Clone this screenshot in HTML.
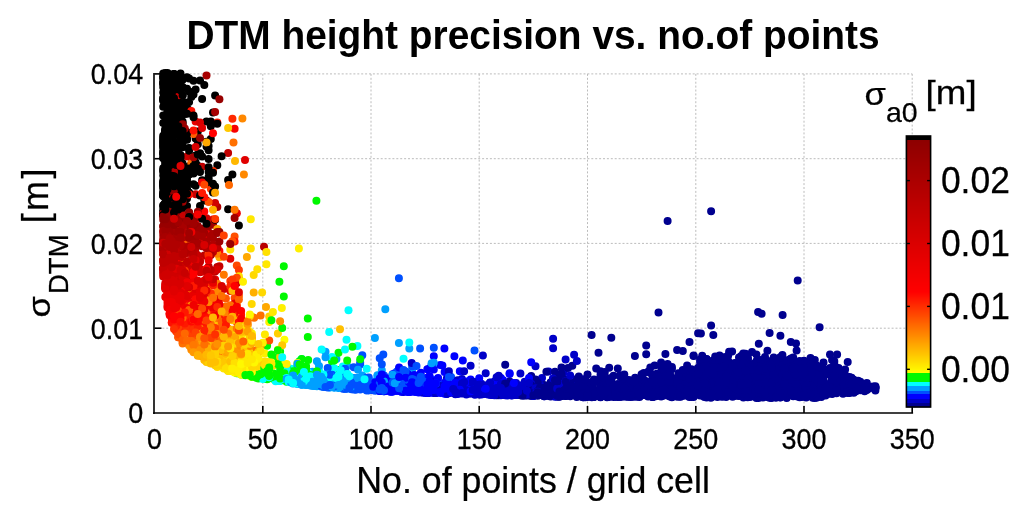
<!DOCTYPE html>
<html lang="en">
<head>
<meta charset="utf-8">
<title>DTM height precision vs. no.of points</title>
<style>
html,body{margin:0;padding:0;background:#fff;}
body{width:1024px;height:516px;overflow:hidden;}
svg{display:block;filter:blur(0.55px);font-family:"Liberation Sans",sans-serif;fill:#000;}
.tk{font-size:28.8px;stroke:#000;stroke-width:.3px;}
.lb{font-size:36px;stroke:#000;stroke-width:.25px;}
.sb{font-size:28.5px;stroke:#000;stroke-width:.25px;}
.ti{font-size:40.5px;font-weight:bold;}
.grid line{stroke:#bcbcbc;stroke-width:1;stroke-dasharray:2 1.9;}
.ax line{stroke:#000;stroke-width:1.6;}
.cbt line{stroke:#000;stroke-width:1.4;}
</style>
</head>
<body>
<svg width="1024" height="516" viewBox="0 0 1024 516">
<rect width="1024" height="516" fill="#fff"/>
<text class="ti" transform="translate(533.0,49.0) scale(0.96,1)" text-anchor="middle">DTM height precision vs. no.of points</text>
<g class="grid"><line x1="262.8" y1="73.9" x2="262.8" y2="413.0"/><line x1="371.0" y1="73.9" x2="371.0" y2="413.0"/><line x1="479.2" y1="73.9" x2="479.2" y2="413.0"/><line x1="587.5" y1="73.9" x2="587.5" y2="413.0"/><line x1="695.8" y1="73.9" x2="695.8" y2="413.0"/><line x1="804.0" y1="73.9" x2="804.0" y2="413.0"/><line x1="912.2" y1="73.9" x2="912.2" y2="413.0"/><line x1="154.5" y1="328.2" x2="912.2" y2="328.2"/><line x1="154.5" y1="243.4" x2="912.2" y2="243.4"/><line x1="154.5" y1="158.7" x2="912.2" y2="158.7"/><line x1="154.5" y1="73.9" x2="912.2" y2="73.9"/></g>
<g class="ax">
<line x1="154.0" y1="73.0" x2="154.0" y2="413.9"/>
<line x1="153.1" y1="413.0" x2="913.1" y2="413.0"/>
<line x1="262.8" y1="413.0" x2="262.8" y2="406.0"/><line x1="371.0" y1="413.0" x2="371.0" y2="406.0"/><line x1="479.2" y1="413.0" x2="479.2" y2="406.0"/><line x1="587.5" y1="413.0" x2="587.5" y2="406.0"/><line x1="695.8" y1="413.0" x2="695.8" y2="406.0"/><line x1="804.0" y1="413.0" x2="804.0" y2="406.0"/><line x1="912.2" y1="413.0" x2="912.2" y2="406.0"/><line x1="154.5" y1="328.2" x2="161.5" y2="328.2"/><line x1="154.5" y1="243.4" x2="161.5" y2="243.4"/><line x1="154.5" y1="158.7" x2="161.5" y2="158.7"/><line x1="154.5" y1="73.9" x2="161.5" y2="73.9"/>
</g>
<g class="pts" fill="none" stroke-width="8.0" stroke-linecap="round">
<path stroke="#980000" d="M169.7 226.2h.01"/>
<path stroke="#c80000" d="M163.2 268.2h.01M167.5 263.1h.01M195.6 268.2h.01"/>
<path stroke="#f80000" d="M180.5 307.7h.01"/>
<path stroke="#ffd000" d="M219.4 355.7h.01"/>
<path stroke="#00008f" d="M743.4 384.0h.01M600.5 380.0h.01M613.5 395.2h.01M604.8 378.9h.01M786.7 388.3h.01M771.5 374.1h.01M646.0 392.2h.01M851.6 389.4h.01M734.7 381.8h.01M648.1 388.9h.01M780.2 377.3h.01M700.1 371.0h.01M832.1 381.0h.01M810.5 373.7h.01M713.3 335.0h.01M713.1 370.1h.01M778.0 369.4h.01M728.2 361.5h.01M710.9 380.7h.01M704.4 367.0h.01M853.8 379.7h.01M568.0 386.7h.01M611.3 386.2h.01M607.0 397.2h.01M771.5 394.8h.01M700.1 359.5h.01"/>
<path stroke="#ffe000" d="M249.8 332.4h.01M249.8 371.0h.01"/>
<path stroke="#e00000" d="M204.3 280.5h.01"/>
<path stroke="#00a0ff" d="M355.8 383.1h.01M334.2 384.2h.01"/>
<path stroke="#ffa000" d="M241.1 334.7h.01"/>
<path stroke="#ff0000" d="M171.8 318.8h.01M208.6 284.9h.01M191.3 317.8h.01"/>
<path stroke="#0000c8" d="M524.7 390.6h.01M481.4 386.4h.01M448.9 387.5h.01M494.4 383.7h.01M500.9 395.3h.01M507.4 393.8h.01M481.4 394.4h.01"/>
<path stroke="#d00000" d="M184.8 276.2h.01"/>
<path stroke="#000000" d="M171.8 193.2h.01M169.7 174.6h.01M176.2 182.8h.01M178.3 180.0h.01M180.5 113.7h.01M189.1 174.4h.01M167.5 158.7h.01M189.1 166.2h.01M184.8 166.9h.01M163.2 183.8h.01M163.2 195.9h.01M169.7 204.4h.01M208.6 159.0h.01M178.3 100.6h.01M184.8 109.5h.01M178.3 188.0h.01"/>
<path stroke="#ffa800" d="M197.8 355.7h.01"/>
<path stroke="#a00000" d="M163.2 231.4h.01M200.0 229.9h.01M180.5 226.2h.01"/>
<path stroke="#ff9000" d="M191.3 349.7h.01"/>
<path stroke="#0000ff" d="M423.0 384.2h.01M405.6 390.7h.01M423.0 387.4h.01M466.3 390.5h.01M455.4 392.0h.01M405.6 389.8h.01M448.9 375.3h.01M379.7 384.7h.01M401.3 389.0h.01M448.9 385.2h.01M454.4 356.2h.01M392.6 384.7h.01"/>
<path stroke="#d80000" d="M182.6 278.0h.01"/>
<path stroke="#00ffff" d="M290.9 379.0h.01"/>
<path stroke="#0050ff" d="M360.2 389.6h.01M360.2 380.1h.01M358.0 378.0h.01M451.1 377.0h.01M340.7 386.3h.01M351.5 387.4h.01"/>
<path stroke="#ff1000" d="M195.6 216.4h.01M184.8 321.1h.01"/>
<path stroke="#0050ff" d="M358.0 385.6h.01M364.5 384.2h.01M414.3 388.8h.01M351.5 388.4h.01"/>
<path stroke="#ff3000" d="M180.5 328.8h.01"/>
<path stroke="#ffe000" d="M232.4 339.0h.01"/>
<path stroke="#00a0ff" d="M332.0 378.4h.01M290.9 379.4h.01M321.2 381.3h.01M321.2 381.0h.01"/>
<path stroke="#0000ff" d="M410.0 381.0h.01M401.3 384.8h.01M397.0 379.6h.01M403.5 388.9h.01M386.2 381.2h.01M394.8 377.3h.01M427.3 387.6h.01M440.3 391.5h.01M425.1 390.2h.01"/>
<path stroke="#c00000" d="M163.2 260.7h.01M204.3 255.4h.01M169.7 264.3h.01"/>
<path stroke="#00008f" d="M533.4 395.9h.01M771.5 391.3h.01M741.2 379.9h.01M700.1 370.0h.01M611.3 380.1h.01M671.9 386.5h.01M717.4 368.2h.01M708.7 386.1h.01M793.2 384.0h.01M676.3 396.6h.01M563.7 389.9h.01M823.5 381.5h.01M572.3 365.8h.01M535.5 385.4h.01M728.2 366.3h.01M760.7 373.2h.01M583.2 394.8h.01M635.1 395.3h.01M693.6 396.9h.01M607.0 393.9h.01M847.3 385.7h.01M708.7 379.4h.01M784.5 371.6h.01M719.6 385.2h.01M680.6 393.0h.01M747.7 370.0h.01M726.1 357.2h.01M710.9 383.2h.01M509.6 393.5h.01M786.7 365.8h.01M646.2 345.5h.01M754.2 389.1h.01M749.9 367.4h.01"/>
<path stroke="#a80000" d="M208.6 232.2h.01"/>
<path stroke="#0000c8" d="M433.8 391.2h.01M427.3 383.8h.01M474.9 392.7h.01M496.6 393.1h.01M461.9 391.3h.01M503.1 387.8h.01M446.8 381.1h.01M470.6 393.4h.01M576.9 360.9h.01"/>
<path stroke="#b00000" d="M217.3 206.9h.01M165.3 243.7h.01"/>
<path stroke="#ff4800" d="M217.3 324.4h.01M193.5 335.6h.01"/>
<path stroke="#00ffff" d="M348.5 310.3h.01"/>
<path stroke="#00f800" d="M241.1 374.4h.01"/>
<path stroke="#ffff00" d="M256.3 372.7h.01"/>
<path stroke="#ffd000" d="M251.9 350.7h.01"/>
<path stroke="#ff7000" d="M225.9 325.0h.01"/>
<path stroke="#000000" d="M163.2 195.2h.01M163.2 150.5h.01M163.2 87.3h.01M163.2 86.8h.01M206.5 121.4h.01"/>
<path stroke="#a00000" d="M178.3 220.8h.01M165.3 228.5h.01"/>
<path stroke="#ff5800" d="M238.9 334.9h.01"/>
<path stroke="#ffb800" d="M208.6 357.5h.01"/>
<path stroke="#ff1000" d="M171.8 322.7h.01"/>
<path stroke="#e80000" d="M206.5 233.9h.01M197.8 299.1h.01M176.2 117.0h.01"/>
<path stroke="#ff3800" d="M176.2 330.9h.01"/>
<path stroke="#fff800" d="M251.9 368.7h.01"/>
<path stroke="#d00000" d="M184.8 265.3h.01M204.3 271.8h.01"/>
<path stroke="#ff0800" d="M206.5 319.6h.01"/>
<path stroke="#ffc800" d="M234.6 361.4h.01M236.8 350.1h.01"/>
<path stroke="#ffa000" d="M200.0 311.2h.01"/>
<path stroke="#a00000" d="M169.7 231.8h.01"/>
<path stroke="#ffd800" d="M253.7 275.1h.01"/>
<path stroke="#ffd000" d="M241.1 362.7h.01M223.8 347.7h.01"/>
<path stroke="#0000ff" d="M431.6 387.6h.01M444.6 389.0h.01M435.9 392.8h.01M423.0 391.8h.01M412.1 390.7h.01M410.0 378.8h.01"/>
<path stroke="#00008f" d="M765.0 390.5h.01M548.5 391.0h.01M630.8 388.4h.01M574.5 392.6h.01M819.2 393.4h.01M804.0 388.5h.01M843.0 371.6h.01M812.7 389.9h.01M747.7 392.8h.01M795.3 391.6h.01M782.4 393.9h.01M732.6 369.3h.01M565.9 395.8h.01M795.3 374.4h.01M849.5 393.0h.01M669.8 374.3h.01M788.8 394.0h.01M723.9 380.6h.01M823.5 370.0h.01M700.1 372.6h.01M700.1 377.0h.01M734.7 368.4h.01M741.2 356.1h.01M817.0 367.1h.01M784.5 370.5h.01M557.2 396.7h.01M656.8 382.8h.01M791.0 378.8h.01M682.8 378.3h.01M589.7 392.4h.01"/>
<path stroke="#c00000" d="M165.3 264.2h.01"/>
<path stroke="#ffa800" d="M215.1 296.3h.01M221.6 356.4h.01"/>
<path stroke="#ffe800" d="M236.8 364.5h.01"/>
<path stroke="#e80000" d="M184.8 296.0h.01M171.8 296.3h.01M174.0 292.5h.01"/>
<path stroke="#00ffff" d="M301.7 380.3h.01M316.9 383.9h.01M299.6 361.3h.01"/>
<path stroke="#ff9000" d="M223.8 346.3h.01"/>
<path stroke="#ff5000" d="M236.8 322.2h.01"/>
<path stroke="#e00000" d="M187.0 294.3h.01"/>
<path stroke="#f80000" d="M197.8 313.2h.01M176.2 310.9h.01M174.0 311.0h.01"/>
<path stroke="#c80000" d="M197.8 267.5h.01"/>
<path stroke="#fff000" d="M228.1 369.9h.01"/>
<path stroke="#0000c8" d="M477.1 389.4h.01M546.4 389.9h.01M490.1 387.7h.01M494.4 381.4h.01"/>
<path stroke="#00a0ff" d="M299.6 381.2h.01M312.5 371.7h.01M319.0 385.9h.01M310.4 384.4h.01M327.7 378.4h.01"/>
<path stroke="#ff7800" d="M236.8 304.4h.01"/>
<path stroke="#8f0000" d="M171.8 210.2h.01"/>
<path stroke="#000000" d="M165.3 188.3h.01M189.1 110.2h.01M215.1 95.4h.01M174.0 93.6h.01M178.3 95.0h.01M165.3 133.4h.01M165.3 142.2h.01M163.2 79.8h.01"/>
<path stroke="#d00000" d="M167.5 273.6h.01M191.3 273.6h.01"/>
<path stroke="#ff1800" d="M204.3 321.1h.01"/>
<path stroke="#0050ff" d="M431.6 379.2h.01M332.0 385.7h.01M351.5 387.0h.01"/>
<path stroke="#00f800" d="M267.1 379.0h.01M260.6 376.0h.01M273.6 378.0h.01M280.1 373.7h.01M251.9 372.2h.01"/>
<path stroke="#b00000" d="M174.0 247.0h.01"/>
<path stroke="#f80000" d="M169.7 313.7h.01"/>
<path stroke="#000000" d="M210.8 139.0h.01M167.5 180.1h.01M167.5 175.8h.01M184.8 191.1h.01M174.0 81.8h.01M182.6 138.1h.01"/>
<path stroke="#ff5000" d="M202.1 333.7h.01"/>
<path stroke="#ffe000" d="M223.8 368.5h.01"/>
<path stroke="#ffb800" d="M219.4 359.8h.01"/>
<path stroke="#00008f" d="M611.3 337.8h.01M747.7 376.2h.01M769.4 370.6h.01M745.5 375.0h.01M810.5 387.3h.01M832.1 379.9h.01M697.9 392.5h.01M791.0 370.5h.01M752.0 366.3h.01M728.2 390.7h.01M762.9 391.9h.01M767.2 378.6h.01M676.3 394.7h.01M769.4 368.8h.01M650.3 393.4h.01M749.9 397.1h.01M791.0 370.9h.01M526.9 395.4h.01M548.5 396.1h.01M860.3 383.7h.01M743.4 393.6h.01M637.3 391.2h.01M778.0 393.5h.01M589.7 386.9h.01M689.3 390.8h.01M717.4 396.2h.01M780.2 369.0h.01M710.9 389.0h.01M589.7 392.9h.01M578.8 392.3h.01M793.2 380.5h.01M795.3 387.8h.01M795.3 387.5h.01M752.0 386.6h.01M598.5 352.8h.01M786.7 396.3h.01M630.8 395.4h.01M600.5 396.8h.01M788.8 367.8h.01M604.8 395.6h.01M756.4 370.4h.01M845.1 390.6h.01"/>
<path stroke="#ffc000" d="M260.6 363.8h.01"/>
<path stroke="#c00000" d="M171.8 260.2h.01"/>
<path stroke="#ffc800" d="M217.3 286.8h.01"/>
<path stroke="#900000" d="M174.0 128.7h.01M167.5 221.5h.01"/>
<path stroke="#e80000" d="M167.5 295.7h.01"/>
<path stroke="#a00000" d="M197.8 234.9h.01"/>
<path stroke="#d00000" d="M176.2 272.3h.01M171.8 275.6h.01"/>
<path stroke="#ff1800" d="M217.3 122.4h.01"/>
<path stroke="#00a0ff" d="M358.0 379.8h.01M314.7 385.0h.01M340.7 384.0h.01M319.0 379.6h.01M377.5 375.8h.01"/>
<path stroke="#00ffff" d="M308.2 375.1h.01M306.1 382.6h.01M325.5 380.0h.01"/>
<path stroke="#ffd800" d="M232.4 364.9h.01M217.3 366.9h.01"/>
<path stroke="#ff5800" d="M238.9 295.8h.01"/>
<path stroke="#ff0800" d="M219.4 251.0h.01"/>
<path stroke="#e00000" d="M165.3 287.2h.01"/>
<path stroke="#0000ff" d="M448.9 392.4h.01M401.3 391.4h.01M431.6 391.8h.01M386.2 379.6h.01M453.3 384.5h.01M403.5 389.0h.01"/>
<path stroke="#fff000" d="M241.1 351.7h.01"/>
<path stroke="#c80000" d="M213.0 271.5h.01"/>
<path stroke="#0000c8" d="M496.6 391.4h.01M474.9 384.5h.01M494.4 391.2h.01M548.5 371.6h.01M509.6 382.0h.01M490.1 394.7h.01M420.8 386.7h.01"/>
<path stroke="#00f800" d="M351.5 379.5h.01M245.4 375.3h.01"/>
<path stroke="#a00000" d="M174.0 228.7h.01"/>
<path stroke="#f80000" d="M234.6 128.7h.01"/>
<path stroke="#00f800" d="M273.6 374.6h.01M271.4 377.0h.01M338.5 370.0h.01M329.9 373.3h.01"/>
<path stroke="#00008f" d="M628.6 396.7h.01M717.4 381.2h.01M615.6 392.3h.01M773.7 390.1h.01M780.2 372.3h.01M559.4 396.7h.01M838.6 384.7h.01M765.0 370.8h.01M561.5 388.1h.01M680.6 391.6h.01M639.5 392.9h.01M591.8 393.5h.01M624.3 380.2h.01M537.7 394.9h.01M732.6 386.4h.01M578.8 384.0h.01M739.0 386.3h.01M771.5 369.7h.01M641.6 395.1h.01M652.5 397.0h.01M652.5 380.9h.01M661.1 367.6h.01M671.9 368.9h.01M843.0 382.2h.01M658.9 395.3h.01M684.9 388.4h.01M812.7 396.8h.01M773.7 396.0h.01M817.0 388.2h.01M620.0 395.0h.01M812.7 386.8h.01M821.3 368.1h.01M741.2 384.1h.01M784.5 363.3h.01M576.7 393.0h.01M845.1 369.5h.01M596.2 395.0h.01M804.0 388.0h.01M875.4 387.5h.01M747.7 395.8h.01M834.3 372.0h.01"/>
<path stroke="#0000c8" d="M516.1 386.4h.01M544.2 389.3h.01M481.4 383.8h.01M552.9 382.6h.01M448.9 391.1h.01M516.1 391.0h.01M429.5 392.3h.01M498.7 392.7h.01"/>
<path stroke="#ff6000" d="M210.8 342.7h.01"/>
<path stroke="#ffc000" d="M208.6 343.9h.01"/>
<path stroke="#000000" d="M176.2 130.9h.01M169.7 86.9h.01M176.2 187.9h.01M167.5 202.6h.01M167.5 195.7h.01"/>
<path stroke="#0000ff" d="M431.6 391.1h.01M461.9 393.1h.01"/>
<path stroke="#e80000" d="M195.6 121.4h.01M200.0 260.7h.01M187.0 299.2h.01"/>
<path stroke="#980000" d="M163.2 226.0h.01"/>
<path stroke="#00ffff" d="M357.4 346.0h.01"/>
<path stroke="#e00000" d="M213.0 219.6h.01"/>
<path stroke="#ff4800" d="M234.6 298.0h.01"/>
<path stroke="#ff7000" d="M184.8 342.4h.01"/>
<path stroke="#00a0ff" d="M347.2 379.4h.01M306.1 385.1h.01M394.8 377.3h.01M308.2 382.5h.01M412.1 369.9h.01M297.4 384.0h.01M362.3 375.4h.01M325.5 351.8h.01M342.9 382.5h.01"/>
<path stroke="#d00000" d="M178.3 273.8h.01"/>
<path stroke="#ffe800" d="M236.8 369.8h.01M225.9 365.3h.01"/>
<path stroke="#900000" d="M174.0 203.8h.01"/>
<path stroke="#b00000" d="M202.1 246.3h.01"/>
<path stroke="#f00000" d="M178.3 307.7h.01"/>
<path stroke="#ffd000" d="M269.2 316.5h.01"/>
<path stroke="#c00000" d="M163.2 259.7h.01"/>
<path stroke="#ff3800" d="M176.2 331.5h.01"/>
<path stroke="#0050ff" d="M351.5 386.9h.01"/>
<path stroke="#fff800" d="M243.3 360.9h.01"/>
<path stroke="#0000c8" d="M492.2 387.8h.01M511.7 395.6h.01M496.6 379.8h.01M524.7 394.2h.01M479.2 388.9h.01"/>
<path stroke="#00a0ff" d="M310.4 384.1h.01M347.2 375.3h.01"/>
<path stroke="#f00000" d="M171.8 301.4h.01"/>
<path stroke="#00f800" d="M288.7 368.6h.01M301.7 368.3h.01M267.1 345.8h.01"/>
<path stroke="#0000ff" d="M509.6 373.9h.01M451.1 390.9h.01M444.6 391.3h.01M381.8 390.3h.01M373.2 390.2h.01M516.1 388.4h.01M390.5 391.6h.01M425.1 392.3h.01M429.5 391.8h.01"/>
<path stroke="#c00000" d="M191.3 262.6h.01"/>
<path stroke="#ffe000" d="M241.1 359.7h.01"/>
<path stroke="#ff9800" d="M215.1 303.8h.01M197.8 323.2h.01"/>
<path stroke="#ffff00" d="M243.3 333.3h.01"/>
<path stroke="#e80000" d="M178.3 296.9h.01M189.1 295.2h.01"/>
<path stroke="#ffd000" d="M251.9 316.7h.01"/>
<path stroke="#fff000" d="M236.8 364.7h.01"/>
<path stroke="#000000" d="M178.3 168.0h.01M176.2 152.2h.01M180.5 128.8h.01M167.5 178.9h.01M171.8 186.5h.01M184.8 192.4h.01M174.0 197.5h.01M174.0 74.5h.01M176.2 98.2h.01M167.5 197.4h.01M171.8 136.8h.01"/>
<path stroke="#a00000" d="M174.0 224.1h.01"/>
<path stroke="#00008f" d="M788.8 390.3h.01M646.0 390.9h.01M791.0 386.9h.01M830.0 368.1h.01M773.7 389.1h.01M743.4 392.4h.01M555.0 391.2h.01M758.5 388.9h.01M788.8 359.8h.01M747.7 394.0h.01M695.8 393.8h.01M635.1 388.1h.01M539.9 394.4h.01M721.7 376.7h.01M775.9 375.4h.01M723.9 366.0h.01M708.7 363.6h.01M585.3 389.7h.01M615.6 396.7h.01M693.6 356.0h.01M795.3 370.7h.01M812.7 397.7h.01M704.4 370.3h.01M795.3 381.4h.01M747.7 359.7h.01M570.2 391.0h.01M568.0 392.7h.01M793.2 393.5h.01M637.3 392.1h.01M702.2 373.4h.01M587.5 393.7h.01M754.2 363.8h.01M739.0 357.5h.01M769.4 370.5h.01M749.9 381.2h.01M747.7 391.2h.01M832.1 378.5h.01M702.2 380.9h.01"/>
<path stroke="#c80000" d="M219.4 266.3h.01"/>
<path stroke="#ff4800" d="M217.3 326.1h.01"/>
<path stroke="#ffd800" d="M230.3 360.3h.01"/>
<path stroke="#fff800" d="M247.6 373.0h.01"/>
<path stroke="#d80000" d="M165.3 283.3h.01M176.2 286.7h.01M169.7 284.0h.01"/>
<path stroke="#00ffff" d="M301.7 358.9h.01M293.1 381.7h.01"/>
<path stroke="#0050ff" d="M394.8 373.3h.01M379.7 390.9h.01M377.5 386.7h.01"/>
<path stroke="#ffc800" d="M228.1 128.0h.01"/>
<path stroke="#000000" d="M210.8 126.3h.01M174.0 114.5h.01M174.0 178.9h.01M169.7 137.3h.01M182.6 79.8h.01M167.5 143.4h.01M171.8 190.0h.01M182.6 123.6h.01M182.6 127.2h.01M165.3 205.8h.01M180.5 215.1h.01"/>
<path stroke="#f80000" d="M184.8 309.4h.01M230.3 243.4h.01"/>
<path stroke="#ff9000" d="M230.3 354.3h.01"/>
<path stroke="#ff8000" d="M228.1 328.5h.01"/>
<path stroke="#b00000" d="M171.8 245.6h.01"/>
<path stroke="#ffb800" d="M206.5 359.0h.01"/>
<path stroke="#fff800" d="M254.1 362.1h.01"/>
<path stroke="#00008f" d="M793.2 368.4h.01M791.0 373.8h.01M591.8 396.8h.01M832.1 393.9h.01M762.9 367.8h.01M754.2 375.9h.01M646.2 354.2h.01M739.0 366.2h.01M838.6 375.3h.01M784.5 376.6h.01M806.2 370.9h.01M797.5 392.1h.01M646.0 384.8h.01M552.9 389.0h.01M749.9 380.3h.01M832.1 370.0h.01M767.2 396.9h.01M734.7 382.9h.01M734.7 385.5h.01M756.4 378.2h.01M609.2 385.3h.01M845.1 387.6h.01M812.7 369.6h.01M778.0 375.6h.01M548.5 394.2h.01M760.7 376.2h.01M568.0 386.0h.01M797.5 383.0h.01M641.6 393.6h.01M827.8 372.4h.01M516.1 392.9h.01M674.1 395.2h.01M819.2 376.9h.01M780.2 397.6h.01M706.6 366.3h.01M711.1 325.5h.01M617.8 386.2h.01M674.1 379.0h.01"/>
<path stroke="#00ffff" d="M312.5 377.4h.01M310.4 379.9h.01"/>
<path stroke="#ffd800" d="M258.4 358.4h.01"/>
<path stroke="#d00000" d="M176.2 275.7h.01"/>
<path stroke="#0000ff" d="M390.5 381.7h.01M418.6 378.8h.01M477.1 385.2h.01M444.4 348.6h.01M433.8 390.7h.01"/>
<path stroke="#00f800" d="M301.7 379.7h.01M260.6 375.0h.01"/>
<path stroke="#a80000" d="M167.5 230.1h.01"/>
<path stroke="#c80000" d="M189.1 261.1h.01M176.2 262.9h.01"/>
<path stroke="#ff4000" d="M191.3 331.9h.01"/>
<path stroke="#ffff00" d="M249.8 376.0h.01"/>
<path stroke="#ff5000" d="M178.3 337.2h.01"/>
<path stroke="#b80000" d="M193.5 249.2h.01"/>
<path stroke="#0050ff" d="M368.8 386.9h.01M338.5 383.7h.01M403.5 380.6h.01"/>
<path stroke="#ff1000" d="M187.0 324.1h.01"/>
<path stroke="#980000" d="M174.0 221.8h.01"/>
<path stroke="#0000c8" d="M468.4 387.7h.01M498.7 394.6h.01M505.2 388.3h.01M472.8 388.7h.01"/>
<path stroke="#ffc000" d="M249.8 343.5h.01"/>
<path stroke="#ff7800" d="M247.6 325.0h.01"/>
<path stroke="#00a0ff" d="M299.6 383.4h.01M329.9 381.1h.01M308.2 380.9h.01M303.9 374.1h.01M347.2 388.1h.01M334.2 387.6h.01"/>
<path stroke="#e00000" d="M187.0 290.7h.01"/>
<path stroke="#ffd000" d="M215.1 360.1h.01M277.9 333.4h.01"/>
<path stroke="#0000c8" d="M500.9 381.8h.01M511.7 393.6h.01M455.4 393.3h.01M490.1 393.4h.01M425.1 392.8h.01M518.2 391.9h.01M444.6 393.2h.01M487.9 394.4h.01M511.7 395.2h.01M490.1 382.5h.01M487.9 384.7h.01"/>
<path stroke="#000000" d="M180.5 164.0h.01M163.2 184.7h.01M167.5 119.4h.01M189.1 148.5h.01M163.2 205.3h.01M184.8 176.7h.01M167.5 199.0h.01M174.0 208.5h.01"/>
<path stroke="#ff0000" d="M195.6 316.6h.01"/>
<path stroke="#b00000" d="M200.0 239.5h.01"/>
<path stroke="#ff9800" d="M234.6 356.1h.01"/>
<path stroke="#ffc800" d="M230.3 361.6h.01"/>
<path stroke="#c00000" d="M202.1 230.1h.01"/>
<path stroke="#a00000" d="M165.3 233.6h.01"/>
<path stroke="#00f800" d="M262.8 377.4h.01M262.8 375.5h.01"/>
<path stroke="#ff5800" d="M210.8 310.4h.01M208.6 254.1h.01M193.5 339.0h.01"/>
<path stroke="#ffa800" d="M245.4 354.3h.01"/>
<path stroke="#ffb000" d="M247.6 341.7h.01M219.4 358.0h.01"/>
<path stroke="#fff000" d="M247.6 373.1h.01"/>
<path stroke="#0000ff" d="M455.4 385.3h.01M394.8 387.3h.01M509.6 373.2h.01"/>
<path stroke="#a80000" d="M213.0 224.7h.01"/>
<path stroke="#ff6000" d="M228.1 338.3h.01"/>
<path stroke="#ff2000" d="M184.8 196.5h.01"/>
<path stroke="#00008f" d="M600.5 390.1h.01M756.4 366.1h.01M801.8 370.5h.01M801.8 367.1h.01M622.1 391.5h.01M786.7 378.5h.01M706.6 390.4h.01M726.1 377.2h.01M713.1 385.2h.01M732.6 396.7h.01M583.2 395.5h.01M689.3 391.0h.01M840.8 384.2h.01M780.2 367.5h.01M622.1 377.7h.01M788.8 378.0h.01M620.0 392.7h.01M715.2 380.3h.01M782.4 378.0h.01M732.6 390.5h.01M695.8 394.4h.01M793.2 378.9h.01M745.5 366.5h.01M771.5 374.9h.01M622.1 394.9h.01M843.0 391.4h.01M799.7 378.8h.01M669.8 373.6h.01M782.4 372.4h.01M704.4 388.4h.01M778.0 370.1h.01M667.6 387.0h.01M754.2 376.9h.01"/>
<path stroke="#ffe000" d="M225.9 368.4h.01"/>
<path stroke="#c80000" d="M182.6 260.5h.01"/>
<path stroke="#f80000" d="M193.5 313.0h.01M169.7 309.2h.01M195.6 312.3h.01"/>
<path stroke="#ff7000" d="M195.6 343.7h.01"/>
<path stroke="#ffe800" d="M258.4 371.7h.01"/>
<path stroke="#e80000" d="M204.3 297.9h.01"/>
<path stroke="#d00000" d="M182.6 268.2h.01M174.0 271.4h.01M176.2 280.3h.01"/>
<path stroke="#ff2800" d="M232.4 118.7h.01"/>
<path stroke="#00a0ff" d="M325.5 377.9h.01M299.6 383.9h.01M308.2 382.7h.01M316.9 376.8h.01M293.1 376.0h.01"/>
<path stroke="#000000" d="M178.3 178.5h.01M187.0 132.2h.01M176.2 188.9h.01M165.3 153.9h.01"/>
<path stroke="#ff6800" d="M219.4 343.1h.01"/>
<path stroke="#c80000" d="M187.0 269.3h.01"/>
<path stroke="#ffff00" d="M258.4 366.5h.01"/>
<path stroke="#b00000" d="M178.3 242.6h.01"/>
<path stroke="#d00000" d="M163.2 274.0h.01"/>
<path stroke="#a80000" d="M189.1 234.3h.01M169.7 230.6h.01"/>
<path stroke="#ffc000" d="M236.8 330.9h.01"/>
<path stroke="#ff8800" d="M242.4 118.5h.01M202.1 347.4h.01"/>
<path stroke="#0050ff" d="M362.3 381.6h.01M360.2 386.0h.01M377.5 389.4h.01M347.2 381.0h.01"/>
<path stroke="#ffe000" d="M228.1 365.4h.01M223.8 359.5h.01M225.9 365.8h.01"/>
<path stroke="#0000c8" d="M479.2 393.7h.01M522.5 391.5h.01M500.9 389.8h.01"/>
<path stroke="#ffd800" d="M228.1 371.0h.01"/>
<path stroke="#ffd000" d="M238.9 347.6h.01"/>
<path stroke="#ff0000" d="M193.5 315.5h.01"/>
<path stroke="#00f800" d="M264.9 378.7h.01"/>
<path stroke="#ff4800" d="M178.3 331.4h.01M217.3 296.9h.01"/>
<path stroke="#a00000" d="M204.3 233.1h.01M182.6 231.3h.01"/>
<path stroke="#ffb000" d="M236.8 337.8h.01"/>
<path stroke="#c00000" d="M195.6 265.8h.01"/>
<path stroke="#00008f" d="M775.9 379.2h.01M708.7 393.8h.01M754.2 381.6h.01M721.7 393.6h.01M734.7 381.2h.01M663.3 365.1h.01M713.1 377.1h.01M663.3 373.2h.01M849.5 389.0h.01M773.7 370.1h.01M652.5 378.6h.01M734.7 388.8h.01M782.4 385.4h.01M531.2 375.9h.01M773.7 370.0h.01M563.7 386.1h.01M572.3 393.8h.01M821.3 387.5h.01M576.7 392.3h.01M526.9 392.4h.01M620.0 393.7h.01M775.9 377.9h.01M773.7 388.0h.01M715.2 371.9h.01M646.0 381.3h.01M780.2 370.0h.01M797.5 374.3h.01M719.6 388.7h.01M760.7 384.8h.01M745.5 379.8h.01M537.7 395.7h.01M613.5 392.9h.01M719.6 367.5h.01M591.8 391.7h.01M760.7 368.9h.01M602.7 392.2h.01M741.2 388.2h.01M756.4 382.6h.01M611.3 390.8h.01"/>
<path stroke="#f00000" d="M180.5 304.7h.01"/>
<path stroke="#ff1000" d="M178.3 309.0h.01"/>
<path stroke="#ff7800" d="M217.3 308.7h.01M234.6 310.5h.01"/>
<path stroke="#f80000" d="M225.9 315.4h.01"/>
<path stroke="#900000" d="M206.5 200.5h.01"/>
<path stroke="#00a0ff" d="M312.5 374.8h.01M327.7 377.7h.01M310.4 382.0h.01M347.2 388.3h.01"/>
<path stroke="#00ffff" d="M353.7 381.2h.01M325.5 377.3h.01M303.9 377.2h.01M288.7 377.3h.01M306.1 380.9h.01"/>
<path stroke="#ff5000" d="M182.6 335.6h.01"/>
<path stroke="#0000ff" d="M416.5 387.9h.01M440.3 365.0h.01M425.1 392.7h.01"/>
<path stroke="#ff8800" d="M223.8 346.5h.01M195.6 341.4h.01"/>
<path stroke="#ffc800" d="M221.6 347.4h.01"/>
<path stroke="#f00000" d="M195.6 219.3h.01"/>
<path stroke="#000000" d="M180.5 118.5h.01M180.5 189.4h.01"/>
<path stroke="#00ffff" d="M280.1 381.0h.01M310.4 381.1h.01"/>
<path stroke="#ffa800" d="M230.3 340.6h.01"/>
<path stroke="#d80000" d="M178.3 282.9h.01M167.5 282.9h.01"/>
<path stroke="#00a0ff" d="M392.6 380.5h.01M353.7 384.9h.01M347.2 388.6h.01M334.2 382.4h.01M360.2 381.3h.01M342.9 382.7h.01"/>
<path stroke="#ffff00" d="M251.9 359.4h.01M258.4 373.9h.01M234.6 368.4h.01"/>
<path stroke="#d00000" d="M193.5 266.6h.01"/>
<path stroke="#e80000" d="M202.1 299.8h.01"/>
<path stroke="#ffe000" d="M257.3 269.3h.01"/>
<path stroke="#a80000" d="M193.5 237.3h.01M189.1 236.2h.01"/>
<path stroke="#0050ff" d="M332.0 385.5h.01M373.2 390.0h.01"/>
<path stroke="#fff800" d="M251.9 366.6h.01M241.1 366.5h.01"/>
<path stroke="#ff8000" d="M200.0 346.2h.01"/>
<path stroke="#c80000" d="M206.5 218.2h.01"/>
<path stroke="#ffb000" d="M219.4 360.6h.01"/>
<path stroke="#ff4000" d="M195.6 331.1h.01"/>
<path stroke="#00008f" d="M760.7 370.3h.01M613.5 391.4h.01M607.0 391.6h.01M602.7 393.5h.01M775.9 394.9h.01M838.6 368.1h.01M591.8 387.0h.01M704.4 371.9h.01M795.3 384.8h.01M693.6 395.8h.01M756.4 395.2h.01M806.2 377.6h.01M719.6 367.7h.01M732.6 370.2h.01M741.2 373.9h.01M626.5 382.5h.01M741.2 392.7h.01M819.2 388.4h.01M771.5 371.9h.01M637.3 396.7h.01M637.3 394.9h.01M581.0 386.4h.01M700.1 367.4h.01M650.3 372.9h.01M814.8 374.5h.01M646.0 394.2h.01M635.1 391.7h.01M704.4 385.2h.01M749.9 370.0h.01M702.2 395.6h.01M747.7 395.3h.01M652.5 390.4h.01M817.0 387.5h.01M784.5 370.2h.01M654.6 395.2h.01M594.0 396.9h.01M745.5 367.2h.01M788.8 365.7h.01M581.0 395.9h.01M509.6 381.4h.01M713.1 371.3h.01M838.6 388.2h.01M771.5 367.5h.01M747.7 378.7h.01M762.9 383.7h.01M700.1 375.1h.01M678.4 396.7h.01"/>
<path stroke="#0000c8" d="M446.8 389.6h.01M505.2 395.2h.01M511.7 392.8h.01M522.5 393.0h.01M490.1 391.3h.01"/>
<path stroke="#e00000" d="M182.6 288.7h.01"/>
<path stroke="#ff4800" d="M210.8 334.8h.01"/>
<path stroke="#ff9000" d="M208.6 349.7h.01"/>
<path stroke="#ff0800" d="M206.5 289.5h.01"/>
<path stroke="#0000ff" d="M433.8 392.8h.01"/>
<path stroke="#ffd800" d="M249.8 347.4h.01"/>
<path stroke="#ff0000" d="M213.0 311.4h.01"/>
<path stroke="#00008f" d="M721.7 396.1h.01M741.2 370.3h.01M665.4 379.5h.01M767.4 350.8h.01M628.6 379.9h.01M633.0 391.6h.01M871.1 386.8h.01M721.7 378.2h.01M747.7 367.2h.01M710.9 396.2h.01M570.2 396.2h.01M602.7 389.9h.01M771.5 376.6h.01M773.7 370.3h.01M698.1 333.2h.01M795.3 362.8h.01M754.2 371.0h.01M775.9 379.2h.01M741.2 368.0h.01M814.8 388.6h.01M745.5 365.8h.01M565.9 394.8h.01M760.7 370.1h.01M615.6 395.7h.01M723.9 370.1h.01M771.5 397.4h.01M780.2 379.2h.01M700.1 394.3h.01M529.0 393.4h.01M760.7 371.9h.01M723.9 373.4h.01M520.4 393.6h.01M760.7 367.3h.01M734.7 372.7h.01"/>
<path stroke="#ff0000" d="M180.5 318.9h.01M195.6 316.3h.01"/>
<path stroke="#00ffff" d="M329.9 368.7h.01M293.1 377.7h.01M280.1 371.8h.01"/>
<path stroke="#0050ff" d="M329.9 383.4h.01M327.7 381.0h.01M353.7 377.9h.01M353.7 387.3h.01"/>
<path stroke="#e00000" d="M234.6 288.1h.01M232.4 287.4h.01"/>
<path stroke="#0000ff" d="M448.9 390.4h.01M427.3 369.3h.01M371.0 389.7h.01"/>
<path stroke="#ffe800" d="M225.9 367.9h.01"/>
<path stroke="#ff4000" d="M230.3 338.1h.01"/>
<path stroke="#fff800" d="M247.6 328.4h.01"/>
<path stroke="#900000" d="M163.2 219.8h.01"/>
<path stroke="#c80000" d="M163.2 272.0h.01"/>
<path stroke="#a80000" d="M184.8 234.3h.01"/>
<path stroke="#ff2800" d="M206.5 330.6h.01M178.3 327.2h.01"/>
<path stroke="#00a0ff" d="M293.1 383.4h.01M310.4 381.1h.01"/>
<path stroke="#ffc000" d="M223.8 365.5h.01"/>
<path stroke="#ff6000" d="M260.6 346.0h.01M195.6 324.7h.01"/>
<path stroke="#ff8800" d="M223.8 350.5h.01"/>
<path stroke="#ff8000" d="M197.8 320.2h.01"/>
<path stroke="#980000" d="M195.6 226.1h.01"/>
<path stroke="#000000" d="M165.3 170.7h.01M178.3 91.3h.01M167.5 73.1h.01M167.5 129.0h.01M208.6 179.8h.01M180.5 116.8h.01M184.8 170.5h.01M165.3 137.7h.01M163.2 139.7h.01M187.0 107.9h.01M180.5 157.9h.01M180.5 129.2h.01M167.5 176.6h.01"/>
<path stroke="#f00000" d="M219.4 299.1h.01"/>
<path stroke="#a00000" d="M174.0 226.2h.01"/>
<path stroke="#00f800" d="M262.8 376.5h.01M299.6 361.3h.01M277.9 378.1h.01M262.8 367.3h.01M273.6 373.5h.01"/>
<path stroke="#0000c8" d="M583.2 379.3h.01M498.7 389.5h.01M518.2 386.1h.01M533.4 387.7h.01M513.9 394.1h.01M561.5 388.3h.01M490.1 394.4h.01"/>
<path stroke="#d80000" d="M176.2 282.4h.01"/>
<path stroke="#0000ff" d="M386.2 390.1h.01M373.2 389.2h.01"/>
<path stroke="#00008f" d="M797.5 383.9h.01M678.4 390.4h.01M700.1 393.8h.01M726.1 397.1h.01M771.5 366.0h.01M875.4 386.2h.01M804.0 391.9h.01M648.1 395.5h.01M804.0 366.8h.01M682.8 351.1h.01M650.3 393.1h.01M845.1 380.3h.01M728.2 361.3h.01M749.9 374.9h.01M799.7 373.1h.01M723.9 396.6h.01M622.1 394.2h.01M719.6 381.2h.01M671.9 377.7h.01M613.5 396.9h.01M797.5 394.7h.01M875.4 387.9h.01M574.5 382.0h.01M706.6 378.2h.01M717.4 379.6h.01M691.4 383.8h.01M702.2 390.2h.01M628.6 381.6h.01M563.7 389.9h.01M702.2 372.9h.01M736.9 393.9h.01"/>
<path stroke="#d80000" d="M176.2 286.1h.01"/>
<path stroke="#0050ff" d="M351.5 389.2h.01M351.5 381.8h.01M431.6 364.7h.01M366.7 387.2h.01M366.7 389.3h.01M397.0 385.3h.01M433.8 383.9h.01M366.7 390.4h.01"/>
<path stroke="#ffb000" d="M225.9 329.7h.01"/>
<path stroke="#a80000" d="M171.8 233.0h.01"/>
<path stroke="#ff8800" d="M206.5 351.1h.01"/>
<path stroke="#00a0ff" d="M316.9 374.9h.01M299.6 379.3h.01M325.5 381.4h.01M334.2 381.4h.01"/>
<path stroke="#00ffff" d="M293.1 379.5h.01M332.0 385.5h.01M321.2 379.3h.01"/>
<path stroke="#c80000" d="M165.3 269.8h.01"/>
<path stroke="#f00000" d="M189.1 305.3h.01"/>
<path stroke="#d00000" d="M171.8 275.6h.01"/>
<path stroke="#a00000" d="M176.2 232.1h.01"/>
<path stroke="#00f800" d="M284.4 377.0h.01M267.1 379.3h.01M321.2 379.1h.01M316.4 200.7h.01"/>
<path stroke="#0000c8" d="M533.4 387.0h.01M518.2 393.5h.01M466.3 392.4h.01M459.8 388.0h.01M461.9 381.1h.01M494.4 393.2h.01M490.1 390.5h.01M490.1 391.5h.01M466.3 390.0h.01"/>
<path stroke="#ff7000" d="M236.8 343.5h.01"/>
<path stroke="#b00000" d="M174.0 235.0h.01"/>
<path stroke="#000000" d="M208.6 145.9h.01M178.3 156.7h.01M178.3 173.4h.01M171.8 182.8h.01M171.8 129.8h.01M169.7 129.0h.01M202.1 99.1h.01M163.2 98.7h.01M165.3 137.6h.01M171.8 171.7h.01M189.1 113.1h.01M169.7 119.3h.01M180.5 186.2h.01M174.0 192.1h.01M182.6 121.4h.01M174.0 131.1h.01"/>
<path stroke="#c00000" d="M167.5 261.6h.01M165.3 263.0h.01M174.0 266.2h.01"/>
<path stroke="#ff5000" d="M215.1 340.0h.01M195.6 337.2h.01"/>
<path stroke="#d80000" d="M167.5 281.7h.01M191.3 274.9h.01"/>
<path stroke="#ffd800" d="M251.9 367.2h.01"/>
<path stroke="#00f800" d="M251.9 376.0h.01M284.4 368.6h.01M273.6 357.0h.01M264.9 374.4h.01"/>
<path stroke="#0050ff" d="M360.2 364.6h.01M377.5 380.4h.01M338.5 385.4h.01"/>
<path stroke="#e00000" d="M167.5 290.0h.01"/>
<path stroke="#000000" d="M174.0 150.4h.01M165.3 94.4h.01M180.5 142.6h.01M195.6 185.8h.01M165.3 144.5h.01M195.6 131.4h.01M197.8 131.5h.01M169.7 122.1h.01M167.5 124.3h.01M182.6 182.7h.01"/>
<path stroke="#0000c8" d="M466.3 392.3h.01"/>
<path stroke="#00a0ff" d="M332.0 370.6h.01M336.4 386.1h.01M347.2 387.0h.01M321.2 385.2h.01M362.3 384.7h.01M409.3 348.6h.01"/>
<path stroke="#a80000" d="M174.0 231.9h.01"/>
<path stroke="#ffd000" d="M236.8 361.7h.01M223.8 366.9h.01"/>
<path stroke="#b80000" d="M197.8 256.0h.01M264.0 246.8h.01"/>
<path stroke="#c00000" d="M189.1 252.9h.01"/>
<path stroke="#fff000" d="M228.1 369.4h.01M238.9 361.3h.01"/>
<path stroke="#ff9800" d="M234.6 357.6h.01M223.8 353.8h.01"/>
<path stroke="#00ffff" d="M293.1 372.3h.01M338.5 378.6h.01M308.2 376.1h.01"/>
<path stroke="#a00000" d="M193.5 232.7h.01"/>
<path stroke="#ffe800" d="M238.9 342.5h.01"/>
<path stroke="#ffa000" d="M238.9 334.1h.01"/>
<path stroke="#980000" d="M169.7 226.1h.01"/>
<path stroke="#0000ff" d="M410.0 392.0h.01M446.8 393.8h.01M459.8 371.2h.01M381.8 391.1h.01M427.3 390.4h.01M423.0 390.1h.01M394.8 388.8h.01"/>
<path stroke="#ff0000" d="M193.5 317.2h.01"/>
<path stroke="#00008f" d="M728.2 386.9h.01M728.2 368.4h.01M656.8 392.1h.01M756.4 384.7h.01M661.1 362.4h.01M617.8 392.9h.01M728.2 365.9h.01M555.0 386.5h.01M615.6 388.4h.01M858.1 382.6h.01M812.7 365.7h.01M741.2 377.5h.01M804.0 385.5h.01M563.7 394.6h.01M607.0 387.0h.01M633.0 386.6h.01M695.8 391.2h.01M617.8 368.5h.01M723.9 362.6h.01M788.8 367.8h.01M749.9 388.7h.01M760.7 380.3h.01M717.4 397.1h.01M754.2 371.7h.01M479.2 394.4h.01M784.5 390.9h.01M778.0 393.9h.01M732.6 366.6h.01M732.6 366.8h.01M568.0 389.2h.01M760.7 396.0h.01"/>
<path stroke="#d00000" d="M176.2 268.4h.01"/>
<path stroke="#ffc000" d="M232.4 320.3h.01"/>
<path stroke="#f80000" d="M195.6 259.3h.01M187.0 307.9h.01"/>
<path stroke="#ff5000" d="M223.8 339.2h.01"/>
<path stroke="#f00000" d="M182.6 304.0h.01"/>
<path stroke="#c80000" d="M171.8 268.6h.01M169.7 268.2h.01"/>
<path stroke="#ff1800" d="M221.6 315.7h.01"/>
<path stroke="#fff800" d="M280.1 363.1h.01"/>
<path stroke="#000000" d="M169.7 170.1h.01M167.5 183.1h.01M180.5 123.3h.01M169.7 163.6h.01M200.0 153.9h.01M165.3 204.5h.01M182.6 170.4h.01M163.2 146.8h.01"/>
<path stroke="#ff8000" d="M191.3 347.8h.01"/>
<path stroke="#d00000" d="M191.3 275.5h.01"/>
<path stroke="#ff3800" d="M230.3 280.9h.01"/>
<path stroke="#ff7000" d="M189.1 342.3h.01"/>
<path stroke="#e80000" d="M204.3 301.0h.01"/>
<path stroke="#ff1000" d="M195.6 320.1h.01"/>
<path stroke="#a00000" d="M174.0 228.3h.01"/>
<path stroke="#fff000" d="M249.8 362.9h.01"/>
<path stroke="#0050ff" d="M355.8 386.2h.01M323.4 379.9h.01M355.8 387.6h.01"/>
<path stroke="#d80000" d="M206.5 278.8h.01M189.1 284.9h.01M187.0 278.7h.01"/>
<path stroke="#0000ff" d="M448.9 385.6h.01M405.6 390.6h.01M401.3 380.6h.01"/>
<path stroke="#f80000" d="M169.7 313.8h.01"/>
<path stroke="#ffb000" d="M241.1 348.7h.01"/>
<path stroke="#ff2000" d="M193.5 323.6h.01"/>
<path stroke="#ffd800" d="M219.4 365.9h.01"/>
<path stroke="#900000" d="M174.0 215.2h.01M174.0 203.3h.01M163.2 214.9h.01"/>
<path stroke="#00a0ff" d="M347.2 365.9h.01M301.7 383.9h.01M314.7 382.3h.01M332.0 386.2h.01"/>
<path stroke="#ffe000" d="M223.8 359.7h.01"/>
<path stroke="#00008f" d="M665.4 390.3h.01M745.5 383.7h.01M804.0 368.5h.01M544.2 393.2h.01M693.6 381.0h.01M745.5 388.9h.01M801.8 397.0h.01M730.4 390.4h.01M684.9 385.5h.01M736.9 391.6h.01M752.0 368.6h.01M739.0 368.8h.01M555.0 394.2h.01M706.6 390.6h.01M559.4 391.0h.01M689.3 389.0h.01M687.1 385.8h.01M665.4 387.4h.01M715.2 393.6h.01M743.4 384.0h.01M771.5 390.7h.01M518.2 393.0h.01M671.9 388.4h.01M771.5 397.7h.01M788.8 365.6h.01M661.1 396.5h.01M756.4 361.2h.01M797.5 394.9h.01M732.6 366.2h.01M752.0 366.8h.01M520.4 391.8h.01M734.7 395.8h.01M613.5 388.5h.01M730.4 389.1h.01M791.0 366.2h.01"/>
<path stroke="#b00000" d="M171.8 245.4h.01"/>
<path stroke="#00ffff" d="M310.4 376.4h.01M301.7 378.3h.01M329.2 332.0h.01"/>
<path stroke="#a80000" d="M210.8 236.0h.01"/>
<path stroke="#00f800" d="M286.6 375.5h.01M277.9 359.4h.01M301.7 375.2h.01M256.3 373.3h.01M247.6 374.5h.01M262.8 377.9h.01M280.1 351.4h.01"/>
<path stroke="#ffc000" d="M340.0 329.3h.01"/>
<path stroke="#0000c8" d="M511.7 386.0h.01M535.5 380.4h.01M498.7 389.1h.01M503.1 394.8h.01M455.4 393.0h.01"/>
<path stroke="#00008f" d="M767.2 377.0h.01M723.9 391.6h.01M728.2 355.4h.01M730.4 366.8h.01M611.3 395.3h.01M708.7 367.5h.01M739.0 380.3h.01M719.6 367.1h.01M559.4 387.1h.01M674.1 384.2h.01M633.0 396.8h.01M782.4 387.2h.01M741.2 391.4h.01M823.5 362.6h.01M591.8 393.2h.01M793.2 357.6h.01M856.0 391.2h.01M830.0 354.5h.01M656.8 389.6h.01M715.2 378.3h.01M637.3 390.7h.01M730.4 374.3h.01M847.3 392.9h.01M713.1 379.5h.01M557.2 391.2h.01M869.0 387.9h.01M663.3 386.5h.01M762.9 370.1h.01M754.2 368.2h.01M704.4 387.7h.01M676.3 387.2h.01M823.5 381.0h.01M728.2 377.1h.01M700.1 362.2h.01M769.4 378.0h.01M851.6 389.5h.01"/>
<path stroke="#b80000" d="M167.5 251.2h.01"/>
<path stroke="#e80000" d="M215.1 284.9h.01"/>
<path stroke="#e00000" d="M171.8 294.2h.01"/>
<path stroke="#0000ff" d="M392.6 385.3h.01M416.5 390.8h.01M401.3 380.5h.01M451.1 385.7h.01M427.3 390.3h.01"/>
<path stroke="#00a0ff" d="M340.7 379.3h.01M321.2 386.0h.01M327.7 375.2h.01M334.2 385.8h.01M336.4 359.1h.01M319.0 379.8h.01"/>
<path stroke="#ff6800" d="M204.3 341.5h.01"/>
<path stroke="#ff5800" d="M202.1 339.2h.01"/>
<path stroke="#ffd000" d="M238.9 338.5h.01"/>
<path stroke="#000000" d="M167.5 139.8h.01M191.3 97.1h.01M169.7 86.8h.01M189.1 101.9h.01M180.5 112.8h.01M174.0 74.0h.01M171.8 193.9h.01M167.5 206.4h.01M180.5 116.7h.01"/>
<path stroke="#00f800" d="M269.2 377.3h.01M249.8 375.1h.01M297.4 376.5h.01"/>
<path stroke="#fff800" d="M247.6 369.9h.01M238.9 368.2h.01"/>
<path stroke="#0050ff" d="M353.7 387.3h.01M349.4 382.7h.01"/>
<path stroke="#0000c8" d="M539.9 394.3h.01M553.1 338.8h.01M451.1 392.6h.01M461.9 390.6h.01M479.2 393.3h.01M461.9 390.5h.01M563.7 372.5h.01M535.5 389.1h.01M553.1 348.3h.01M529.0 394.1h.01M505.2 392.9h.01"/>
<path stroke="#ff9000" d="M217.3 352.7h.01"/>
<path stroke="#a00000" d="M174.0 230.9h.01"/>
<path stroke="#ffa000" d="M238.9 356.9h.01"/>
<path stroke="#ffe800" d="M228.1 365.8h.01M251.9 370.1h.01"/>
<path stroke="#d00000" d="M215.1 202.9h.01"/>
<path stroke="#c80000" d="M210.8 283.7h.01M195.6 194.3h.01"/>
<path stroke="#b00000" d="M176.2 241.3h.01"/>
<path stroke="#980000" d="M191.3 218.2h.01M189.1 226.7h.01"/>
<path stroke="#a80000" d="M180.5 241.2h.01"/>
<path stroke="#ff7800" d="M245.4 347.4h.01"/>
<path stroke="#ffe800" d="M247.6 362.6h.01"/>
<path stroke="#f80000" d="M178.3 301.9h.01M176.2 276.5h.01"/>
<path stroke="#e80000" d="M180.5 291.1h.01M234.6 303.5h.01M171.8 297.5h.01"/>
<path stroke="#f00000" d="M208.6 305.1h.01M215.1 307.7h.01"/>
<path stroke="#0000c8" d="M464.1 371.3h.01M490.1 393.3h.01M472.8 392.8h.01M518.2 393.1h.01M468.4 389.7h.01"/>
<path stroke="#b00000" d="M178.3 247.4h.01M163.2 248.3h.01M165.3 242.5h.01M163.2 245.8h.01"/>
<path stroke="#ff4000" d="M225.9 331.8h.01"/>
<path stroke="#d00000" d="M223.8 288.9h.01"/>
<path stroke="#ffb000" d="M210.8 354.0h.01"/>
<path stroke="#fff800" d="M245.4 341.3h.01"/>
<path stroke="#000000" d="M191.3 92.4h.01M167.5 156.5h.01M163.2 158.2h.01M206.5 146.5h.01M217.3 123.7h.01M169.7 181.1h.01M176.2 99.2h.01M189.1 192.5h.01M191.3 113.6h.01M195.6 138.4h.01M163.2 154.4h.01M169.7 182.1h.01"/>
<path stroke="#ff0000" d="M193.5 313.5h.01M204.3 211.4h.01"/>
<path stroke="#e00000" d="M167.5 290.5h.01"/>
<path stroke="#00a0ff" d="M293.1 374.1h.01M321.2 386.6h.01"/>
<path stroke="#ff3000" d="M180.5 317.6h.01"/>
<path stroke="#0000ff" d="M485.7 388.6h.01M427.3 377.7h.01M401.3 390.2h.01M418.6 381.4h.01"/>
<path stroke="#fff000" d="M254.1 365.8h.01"/>
<path stroke="#00008f" d="M719.6 384.2h.01M806.2 397.5h.01M814.8 397.9h.01M693.6 395.8h.01M565.9 385.2h.01M773.7 369.5h.01M732.6 364.2h.01M793.2 388.4h.01M717.4 366.0h.01M801.8 370.7h.01M583.2 396.9h.01M520.4 391.2h.01M788.8 392.1h.01M682.8 390.5h.01M810.5 371.2h.01M710.9 380.6h.01M687.1 365.6h.01M782.4 369.6h.01M557.2 376.5h.01M741.2 366.6h.01M758.5 397.9h.01M773.7 379.8h.01M565.9 379.8h.01M613.5 375.7h.01M754.2 366.4h.01M814.8 379.9h.01M721.7 366.1h.01M641.6 375.3h.01M706.6 359.3h.01M801.8 376.1h.01M678.4 390.8h.01M708.7 373.4h.01M667.6 221.1h.01M775.9 366.7h.01M650.3 385.6h.01"/>
<path stroke="#00f800" d="M267.1 373.7h.01M247.6 372.0h.01M332.0 361.4h.01M271.4 378.2h.01"/>
<path stroke="#0050ff" d="M338.5 385.0h.01M394.8 382.4h.01M316.9 382.6h.01M397.0 376.4h.01M323.4 387.0h.01M360.2 386.9h.01"/>
<path stroke="#ffff00" d="M241.1 371.3h.01"/>
<path stroke="#ff5800" d="M228.1 341.6h.01"/>
<path stroke="#00ffff" d="M299.6 381.7h.01M321.2 378.6h.01"/>
<path stroke="#d80000" d="M202.1 287.5h.01M180.5 283.5h.01"/>
<path stroke="#d00000" d="M171.8 278.1h.01M169.7 234.0h.01"/>
<path stroke="#00a0ff" d="M338.5 387.0h.01M375.3 381.5h.01M390.5 379.1h.01M374.9 337.9h.01M316.9 384.9h.01M353.7 378.3h.01"/>
<path stroke="#ff0000" d="M171.8 317.4h.01"/>
<path stroke="#ffd800" d="M219.4 359.2h.01"/>
<path stroke="#ffa000" d="M234.6 349.0h.01"/>
<path stroke="#ff5800" d="M178.3 337.3h.01"/>
<path stroke="#ffc000" d="M225.9 343.4h.01"/>
<path stroke="#ff7800" d="M236.8 336.3h.01"/>
<path stroke="#c80000" d="M163.2 269.0h.01"/>
<path stroke="#ffa800" d="M217.3 229.0h.01"/>
<path stroke="#ff0800" d="M217.3 287.4h.01"/>
<path stroke="#ffe800" d="M250.8 219.3h.01M228.1 369.8h.01"/>
<path stroke="#0050ff" d="M312.5 385.6h.01M351.5 386.3h.01"/>
<path stroke="#00f800" d="M238.9 373.2h.01M236.8 373.2h.01"/>
<path stroke="#0000ff" d="M418.6 381.5h.01M474.9 384.9h.01M401.3 386.2h.01M433.8 356.2h.01M401.3 387.7h.01"/>
<path stroke="#ff1000" d="M204.3 322.7h.01M241.1 314.8h.01"/>
<path stroke="#0000c8" d="M535.5 391.4h.01M492.2 395.1h.01M498.7 392.1h.01M503.1 387.2h.01"/>
<path stroke="#000000" d="M169.7 99.9h.01M163.2 193.3h.01M169.7 111.4h.01M163.2 212.2h.01M174.0 126.9h.01M174.0 161.8h.01M174.0 127.6h.01M171.8 164.0h.01M171.8 76.4h.01M184.8 114.1h.01M167.5 184.6h.01M169.7 123.5h.01M174.0 84.2h.01M180.5 177.1h.01M174.0 175.7h.01"/>
<path stroke="#b80000" d="M163.2 254.1h.01"/>
<path stroke="#ff9000" d="M234.6 336.3h.01"/>
<path stroke="#00008f" d="M760.7 366.7h.01M812.7 396.7h.01M700.1 394.2h.01M834.3 379.5h.01M717.4 371.3h.01M531.2 395.9h.01M546.4 390.8h.01M622.1 386.6h.01M665.4 378.2h.01M749.9 384.8h.01M656.8 391.5h.01M834.3 387.1h.01M708.7 380.0h.01M769.4 396.8h.01M801.8 395.3h.01M585.3 392.2h.01M795.3 383.6h.01M752.0 366.6h.01M747.7 382.1h.01M678.4 393.0h.01M639.5 396.9h.01M695.8 388.0h.01M804.0 395.1h.01M814.8 369.7h.01M804.0 379.2h.01M639.5 391.3h.01M665.4 394.8h.01M600.5 384.6h.01M782.4 377.5h.01M706.6 360.1h.01M851.6 377.7h.01M754.2 382.3h.01M695.8 393.2h.01M845.1 390.6h.01M620.0 391.4h.01M589.7 396.1h.01"/>
<path stroke="#ffb800" d="M208.6 342.3h.01"/>
<path stroke="#00a0ff" d="M347.2 383.2h.01M316.9 383.3h.01M362.3 379.9h.01M329.9 382.8h.01M303.9 379.9h.01"/>
<path stroke="#ff6000" d="M193.5 134.0h.01"/>
<path stroke="#ffe800" d="M236.8 362.9h.01"/>
<path stroke="#a00000" d="M184.8 234.8h.01"/>
<path stroke="#ff1000" d="M200.0 319.5h.01"/>
<path stroke="#000000" d="M165.3 101.7h.01M163.2 100.0h.01M171.8 183.3h.01M176.2 210.7h.01M187.0 198.4h.01M182.6 112.7h.01M232.4 174.6h.01M176.2 93.3h.01M202.1 180.3h.01"/>
<path stroke="#ff9000" d="M193.5 350.8h.01"/>
<path stroke="#0000c8" d="M574.1 354.7h.01M470.6 392.9h.01M496.6 390.5h.01M446.8 378.6h.01M461.9 379.0h.01M455.4 391.3h.01M533.4 392.0h.01"/>
<path stroke="#a80000" d="M167.5 238.9h.01"/>
<path stroke="#00f800" d="M262.8 372.6h.01M258.4 373.5h.01"/>
<path stroke="#ff4000" d="M193.5 333.1h.01"/>
<path stroke="#d00000" d="M200.0 238.5h.01M163.2 276.6h.01"/>
<path stroke="#ff2000" d="M180.5 256.1h.01"/>
<path stroke="#0000ff" d="M431.6 386.6h.01M427.3 387.5h.01M379.7 390.7h.01M451.1 389.4h.01M392.6 390.4h.01M427.3 385.6h.01M453.3 391.4h.01M420.8 372.7h.01"/>
<path stroke="#ffa800" d="M246.9 256.9h.01"/>
<path stroke="#f00000" d="M174.0 307.0h.01M184.8 303.6h.01"/>
<path stroke="#ffc800" d="M221.6 361.6h.01"/>
<path stroke="#00008f" d="M837.1 354.5h.01M804.0 367.8h.01M658.9 385.5h.01M682.8 386.5h.01M665.4 391.4h.01M700.1 366.3h.01M775.9 368.5h.01M607.0 388.2h.01M726.1 378.3h.01M700.1 369.5h.01M786.7 392.8h.01M721.7 381.1h.01M734.7 376.4h.01M706.6 365.7h.01M706.6 358.9h.01M843.0 393.7h.01M858.1 385.5h.01M695.8 392.3h.01M790.8 342.0h.01M786.7 391.7h.01M788.8 369.3h.01M710.9 384.4h.01M840.8 391.2h.01M715.2 381.6h.01M771.5 372.7h.01M825.6 388.1h.01M775.9 359.8h.01M780.2 370.4h.01M836.5 375.5h.01M752.0 389.0h.01M747.7 391.1h.01"/>
<path stroke="#ffe000" d="M266.4 251.9h.01M238.9 366.0h.01"/>
<path stroke="#0050ff" d="M379.7 358.3h.01M390.5 389.6h.01"/>
<path stroke="#e80000" d="M167.5 297.6h.01"/>
<path stroke="#c80000" d="M171.8 267.1h.01"/>
<path stroke="#ffff00" d="M249.8 372.9h.01"/>
<path stroke="#00ffff" d="M366.7 368.8h.01M334.2 368.2h.01M314.7 378.2h.01M303.9 379.6h.01"/>
<path stroke="#ffc000" d="M221.6 351.5h.01"/>
<path stroke="#f80000" d="M197.8 313.5h.01"/>
<path stroke="#e00000" d="M195.6 291.0h.01"/>
<path stroke="#ff0000" d="M180.5 317.8h.01"/>
<path stroke="#ff7000" d="M191.3 343.0h.01"/>
<path stroke="#0000ff" d="M503.1 380.2h.01M433.8 388.1h.01M384.0 390.2h.01M444.6 372.1h.01M435.9 385.0h.01M455.4 391.0h.01"/>
<path stroke="#900000" d="M174.0 221.6h.01"/>
<path stroke="#0050ff" d="M364.5 384.4h.01M340.7 386.4h.01M405.6 377.8h.01"/>
<path stroke="#00008f" d="M708.7 382.5h.01M650.3 393.6h.01M838.6 370.2h.01M728.2 384.0h.01M734.7 363.1h.01M665.4 353.9h.01M793.2 392.0h.01M771.5 368.7h.01M830.0 388.6h.01M704.4 361.0h.01M810.5 377.7h.01M739.0 395.4h.01M801.8 391.2h.01M732.6 368.1h.01M752.0 367.9h.01M806.2 385.9h.01M769.4 371.2h.01M762.9 391.6h.01M719.6 393.3h.01M594.0 393.2h.01M552.9 393.3h.01M589.7 393.0h.01M583.2 387.7h.01M817.0 368.0h.01M845.1 375.1h.01M780.2 365.3h.01M778.0 391.4h.01M531.2 393.9h.01M767.2 384.1h.01M784.5 374.5h.01M797.5 388.3h.01M706.6 396.2h.01M730.4 391.5h.01M654.6 396.5h.01M758.5 396.4h.01M747.7 358.8h.01M801.8 394.2h.01M678.4 373.2h.01M823.5 377.1h.01M706.6 383.0h.01M786.7 395.5h.01M801.8 382.2h.01"/>
<path stroke="#d00000" d="M195.6 269.1h.01M178.3 280.2h.01"/>
<path stroke="#a00000" d="M191.3 230.5h.01"/>
<path stroke="#b80000" d="M182.6 228.1h.01"/>
<path stroke="#00a0ff" d="M381.8 370.2h.01M319.0 385.2h.01M316.9 379.3h.01"/>
<path stroke="#00ffff" d="M327.7 372.8h.01M288.7 378.1h.01"/>
<path stroke="#ff4000" d="M215.1 317.7h.01"/>
<path stroke="#ffff00" d="M271.4 362.4h.01"/>
<path stroke="#ffd800" d="M262.1 292.5h.01"/>
<path stroke="#ff4800" d="M236.8 265.5h.01"/>
<path stroke="#b00000" d="M200.0 234.6h.01M163.2 250.5h.01"/>
<path stroke="#0000c8" d="M457.6 391.8h.01M468.4 386.2h.01M446.8 393.9h.01M524.7 394.0h.01M544.2 387.7h.01M453.3 391.4h.01M459.8 393.3h.01"/>
<path stroke="#000000" d="M169.7 196.0h.01M171.8 93.0h.01M167.5 107.9h.01M176.2 145.5h.01M184.8 190.3h.01M178.3 106.5h.01M171.8 205.2h.01"/>
<path stroke="#ffc000" d="M219.4 358.6h.01"/>
<path stroke="#ffe000" d="M228.1 353.9h.01M249.8 350.4h.01"/>
<path stroke="#ffe800" d="M247.6 360.7h.01M236.8 364.6h.01"/>
<path stroke="#ffc800" d="M232.4 347.5h.01"/>
<path stroke="#ff9000" d="M230.3 347.3h.01"/>
<path stroke="#ffb000" d="M210.8 186.2h.01"/>
<path stroke="#ffb800" d="M204.3 360.0h.01M228.1 359.1h.01M236.8 347.2h.01"/>
<path stroke="#0050ff" d="M412.1 366.2h.01M353.7 388.7h.01M405.6 384.7h.01"/>
<path stroke="#00ffff" d="M288.7 375.3h.01"/>
<path stroke="#000000" d="M174.0 158.1h.01M174.0 103.1h.01M165.3 76.6h.01M178.3 172.4h.01M167.5 184.2h.01M169.7 91.8h.01M167.5 131.0h.01M167.5 203.4h.01M182.6 189.7h.01M206.5 141.8h.01M163.2 182.5h.01M165.3 115.7h.01M174.0 90.8h.01M176.2 134.9h.01"/>
<path stroke="#a80000" d="M213.0 238.3h.01M195.6 235.4h.01"/>
<path stroke="#ff7800" d="M223.8 274.8h.01"/>
<path stroke="#f80000" d="M206.5 303.4h.01M191.3 312.3h.01"/>
<path stroke="#00f800" d="M340.7 374.0h.01"/>
<path stroke="#e00000" d="M174.0 289.5h.01"/>
<path stroke="#ffd000" d="M219.4 327.0h.01"/>
<path stroke="#fff800" d="M247.6 372.1h.01"/>
<path stroke="#ffd800" d="M236.8 367.1h.01"/>
<path stroke="#00008f" d="M739.0 366.8h.01M780.2 373.2h.01M769.4 397.8h.01M643.8 393.6h.01M576.7 382.1h.01M656.8 373.7h.01M799.7 363.9h.01M782.4 365.7h.01M788.8 370.1h.01M771.5 384.5h.01M721.7 377.1h.01M617.8 384.1h.01M652.5 389.0h.01M736.9 367.0h.01M615.6 392.6h.01M775.9 386.8h.01M838.6 375.0h.01M799.7 396.0h.01M739.0 374.9h.01M791.0 368.8h.01M769.4 373.0h.01M570.2 392.0h.01M778.0 373.1h.01M778.0 393.1h.01M741.2 368.0h.01M845.1 387.0h.01M721.7 382.5h.01M743.4 372.8h.01M624.3 382.4h.01M799.7 393.3h.01M637.3 392.8h.01M769.4 397.7h.01M609.2 396.1h.01M843.0 389.8h.01M600.5 395.5h.01M574.5 387.3h.01M576.7 392.6h.01M535.5 391.6h.01M704.4 386.0h.01M775.9 397.5h.01"/>
<path stroke="#0000c8" d="M516.1 383.0h.01M485.7 391.0h.01M472.8 387.1h.01M542.0 377.9h.01M485.7 373.2h.01"/>
<path stroke="#ffe000" d="M243.3 358.7h.01"/>
<path stroke="#f00000" d="M178.3 304.1h.01"/>
<path stroke="#ffb800" d="M235.0 161.0h.01"/>
<path stroke="#c80000" d="M165.3 268.9h.01M189.1 264.3h.01"/>
<path stroke="#ffa000" d="M215.1 342.2h.01"/>
<path stroke="#00a0ff" d="M299.6 364.2h.01M355.8 380.9h.01M293.1 379.2h.01"/>
<path stroke="#0000ff" d="M377.5 385.6h.01M392.6 391.6h.01M433.8 389.5h.01M381.8 389.6h.01M440.3 387.6h.01M412.1 385.6h.01"/>
<path stroke="#900000" d="M174.0 210.1h.01"/>
<path stroke="#ff5000" d="M219.4 339.4h.01"/>
<path stroke="#ffc800" d="M243.3 359.6h.01"/>
<path stroke="#d80000" d="M208.6 297.2h.01"/>
<path stroke="#ff3800" d="M210.8 188.7h.01"/>
<path stroke="#ff6800" d="M245.4 347.1h.01"/>
<path stroke="#0050ff" d="M345.0 388.7h.01M379.7 384.4h.01M392.6 378.2h.01M392.6 381.3h.01M379.7 390.8h.01M327.7 368.0h.01"/>
<path stroke="#000000" d="M174.0 110.2h.01M169.7 98.1h.01M178.3 195.7h.01M193.5 80.7h.01M178.3 85.7h.01M206.5 182.5h.01M165.3 132.0h.01M217.3 165.3h.01M171.8 116.7h.01M165.3 171.0h.01M197.8 165.8h.01M180.5 85.5h.01"/>
<path stroke="#ff1000" d="M206.5 333.7h.01"/>
<path stroke="#c80000" d="M182.6 269.9h.01M180.5 271.2h.01M165.3 262.9h.01"/>
<path stroke="#0000ff" d="M442.4 387.4h.01M388.3 385.1h.01M425.1 381.5h.01M457.6 394.0h.01M418.6 392.5h.01M405.6 389.2h.01"/>
<path stroke="#00ffff" d="M301.7 375.2h.01"/>
<path stroke="#ff4800" d="M195.6 263.2h.01"/>
<path stroke="#00f800" d="M260.6 369.2h.01"/>
<path stroke="#c00000" d="M165.3 261.4h.01"/>
<path stroke="#980000" d="M167.5 223.4h.01M197.8 225.9h.01"/>
<path stroke="#e00000" d="M169.7 289.1h.01M230.3 290.9h.01"/>
<path stroke="#00008f" d="M710.9 397.7h.01M747.7 388.0h.01M739.0 396.1h.01M702.2 381.7h.01M752.0 377.0h.01M704.4 369.8h.01M780.2 387.0h.01M596.2 380.3h.01M866.8 385.3h.01M795.3 369.6h.01M702.2 393.4h.01M589.7 392.6h.01M804.0 390.0h.01M734.7 364.9h.01M799.7 397.2h.01M806.2 391.9h.01M804.0 373.2h.01M721.7 367.4h.01M736.9 377.8h.01M804.0 372.4h.01M719.6 389.9h.01M620.0 391.0h.01M730.4 376.8h.01M767.2 384.9h.01M778.0 369.5h.01M827.8 374.2h.01M752.0 369.7h.01M806.2 393.2h.01M754.2 375.5h.01M840.8 381.6h.01M749.9 374.5h.01M723.9 369.7h.01M667.6 369.6h.01M741.2 375.0h.01M581.0 390.0h.01M788.8 391.7h.01M760.7 385.7h.01M624.3 394.0h.01M834.3 363.9h.01"/>
<path stroke="#b80000" d="M182.6 246.9h.01"/>
<path stroke="#fff000" d="M251.9 333.5h.01M232.4 363.0h.01"/>
<path stroke="#ffb000" d="M228.1 349.2h.01M219.4 257.2h.01"/>
<path stroke="#0000c8" d="M524.7 381.7h.01M513.9 389.0h.01M457.6 381.5h.01M487.9 392.8h.01M518.2 392.9h.01"/>
<path stroke="#e80000" d="M195.6 295.5h.01"/>
<path stroke="#ff7000" d="M193.5 330.3h.01"/>
<path stroke="#ffe800" d="M241.1 369.5h.01"/>
<path stroke="#ffe000" d="M236.8 361.7h.01"/>
<path stroke="#f00000" d="M180.5 303.2h.01"/>
<path stroke="#c80000" d="M169.7 271.5h.01M165.3 267.0h.01"/>
<path stroke="#ff7800" d="M228.1 349.0h.01"/>
<path stroke="#ff8800" d="M193.5 331.4h.01"/>
<path stroke="#fff000" d="M223.8 363.1h.01"/>
<path stroke="#ff1800" d="M176.2 323.6h.01"/>
<path stroke="#ff7000" d="M191.3 163.0h.01M197.8 299.2h.01"/>
<path stroke="#f00000" d="M169.7 301.7h.01M182.6 196.9h.01"/>
<path stroke="#ffd800" d="M243.3 366.5h.01"/>
<path stroke="#ff1000" d="M206.5 314.4h.01"/>
<path stroke="#e80000" d="M232.4 284.6h.01"/>
<path stroke="#00008f" d="M806.2 369.2h.01M704.4 391.6h.01M563.7 392.7h.01M795.3 385.7h.01M864.6 391.2h.01M689.5 342.0h.01M671.9 395.5h.01M758.5 397.0h.01M700.1 370.4h.01M817.0 365.7h.01M732.6 367.9h.01M788.8 361.1h.01M734.7 395.4h.01M726.1 379.7h.01M741.2 387.7h.01M784.5 383.6h.01M620.0 385.2h.01M639.5 392.8h.01M730.4 370.8h.01M576.7 392.2h.01M607.0 393.8h.01M630.8 381.3h.01M860.3 386.9h.01M741.2 383.2h.01M760.7 367.6h.01M585.3 392.5h.01M765.0 360.7h.01M630.8 388.5h.01M801.8 382.2h.01M808.3 379.2h.01"/>
<path stroke="#a80000" d="M184.8 242.5h.01"/>
<path stroke="#ffe800" d="M230.3 369.3h.01"/>
<path stroke="#a00000" d="M200.0 230.4h.01M180.5 231.7h.01"/>
<path stroke="#0050ff" d="M340.7 383.3h.01M368.8 390.3h.01M355.8 388.7h.01"/>
<path stroke="#00f800" d="M241.1 374.0h.01"/>
<path stroke="#00ffff" d="M284.4 375.8h.01"/>
<path stroke="#0000c8" d="M464.1 391.7h.01M433.8 392.0h.01M474.9 387.6h.01M457.6 393.6h.01M557.2 390.0h.01M524.7 388.0h.01M503.1 394.7h.01M550.7 382.4h.01M468.4 389.9h.01M461.9 390.8h.01"/>
<path stroke="#ffc800" d="M210.8 357.1h.01"/>
<path stroke="#ffc000" d="M225.9 327.0h.01"/>
<path stroke="#c00000" d="M217.3 267.1h.01M202.1 166.7h.01"/>
<path stroke="#d00000" d="M167.5 271.1h.01"/>
<path stroke="#d80000" d="M169.7 283.2h.01M174.0 283.7h.01"/>
<path stroke="#0000ff" d="M414.3 375.1h.01M397.0 373.9h.01M420.8 389.7h.01"/>
<path stroke="#00a0ff" d="M308.2 378.6h.01M310.4 385.2h.01M295.2 383.0h.01M310.4 385.3h.01M310.4 379.5h.01"/>
<path stroke="#000000" d="M165.3 169.8h.01M187.0 183.4h.01M180.5 137.7h.01M174.0 184.4h.01M180.5 206.6h.01M174.0 146.5h.01M174.0 174.1h.01M167.5 134.3h.01M174.0 199.5h.01M174.0 214.1h.01M165.3 77.6h.01M204.3 200.6h.01M176.2 166.4h.01"/>
<path stroke="#f80000" d="M187.0 312.1h.01"/>
<path stroke="#e00000" d="M167.5 293.6h.01"/>
<path stroke="#ff9800" d="M228.1 346.3h.01"/>
<path stroke="#ffe800" d="M230.3 370.5h.01"/>
<path stroke="#ff8800" d="M217.3 291.3h.01"/>
<path stroke="#00008f" d="M723.9 373.7h.01M637.3 392.6h.01M721.7 377.9h.01M706.6 378.5h.01M767.2 361.0h.01M721.7 370.0h.01M723.9 388.3h.01M749.9 369.1h.01M756.4 374.5h.01M717.4 393.5h.01M730.4 367.5h.01M637.3 386.3h.01M775.9 367.2h.01M795.3 375.9h.01M819.2 394.0h.01M546.4 371.8h.01M704.4 368.6h.01M832.1 393.3h.01M758.5 378.5h.01M832.1 369.8h.01M732.6 383.7h.01M587.5 390.9h.01M591.8 397.2h.01M678.4 385.2h.01M773.7 365.8h.01M658.9 380.5h.01M810.5 372.6h.01M869.0 388.5h.01M749.9 366.5h.01M704.4 394.1h.01M693.6 394.9h.01M600.5 388.8h.01M611.3 388.2h.01M786.7 370.9h.01M576.7 388.3h.01M782.4 396.2h.01M570.2 384.1h.01M771.5 361.2h.01M684.9 383.6h.01M758.5 366.7h.01M823.5 382.5h.01M862.5 389.1h.01"/>
<path stroke="#900000" d="M165.3 219.7h.01"/>
<path stroke="#0000c8" d="M474.9 381.9h.01M513.9 387.7h.01M509.6 393.7h.01M513.9 392.4h.01"/>
<path stroke="#ff4800" d="M210.8 279.7h.01M213.0 335.8h.01"/>
<path stroke="#ff5000" d="M206.5 288.9h.01M234.6 236.5h.01"/>
<path stroke="#ff3000" d="M189.1 320.5h.01"/>
<path stroke="#ffc800" d="M223.8 351.7h.01"/>
<path stroke="#f80000" d="M187.0 310.5h.01"/>
<path stroke="#0000ff" d="M401.3 391.7h.01M375.3 390.0h.01"/>
<path stroke="#c80000" d="M184.8 178.6h.01"/>
<path stroke="#ff7000" d="M256.3 350.3h.01"/>
<path stroke="#ff1800" d="M193.5 269.2h.01"/>
<path stroke="#f00000" d="M189.1 305.7h.01"/>
<path stroke="#00a0ff" d="M342.9 384.0h.01M371.0 386.4h.01M301.7 374.2h.01M314.7 385.5h.01M303.9 375.7h.01"/>
<path stroke="#ff2800" d="M184.8 327.8h.01"/>
<path stroke="#00f800" d="M280.1 374.3h.01M299.6 366.4h.01M286.6 381.7h.01M299.6 366.8h.01M258.4 376.5h.01M306.1 366.2h.01"/>
<path stroke="#b00000" d="M167.5 241.8h.01"/>
<path stroke="#e00000" d="M230.3 258.8h.01M169.7 290.2h.01M180.5 294.4h.01"/>
<path stroke="#000000" d="M163.2 142.3h.01M174.0 116.5h.01M163.2 142.9h.01M165.3 209.0h.01M163.2 97.8h.01M169.7 197.9h.01M176.2 82.8h.01M184.8 130.3h.01"/>
<path stroke="#e80000" d="M236.8 213.3h.01"/>
<path stroke="#a00000" d="M176.2 103.2h.01"/>
<path stroke="#0050ff" d="M379.7 382.6h.01"/>
<path stroke="#d00000" d="M182.6 276.3h.01"/>
<path stroke="#ff3800" d="M238.9 270.1h.01"/>
<path stroke="#ff8800" d="M225.9 338.0h.01"/>
<path stroke="#ffe000" d="M249.8 365.5h.01M223.8 355.5h.01"/>
<path stroke="#f80000" d="M187.0 309.5h.01"/>
<path stroke="#00ffff" d="M409.3 342.6h.01M303.9 384.8h.01"/>
<path stroke="#ffb800" d="M204.3 350.8h.01"/>
<path stroke="#ffd000" d="M221.6 363.6h.01M217.3 350.7h.01"/>
<path stroke="#900000" d="M219.4 232.1h.01"/>
<path stroke="#f00000" d="M206.5 279.7h.01"/>
<path stroke="#d00000" d="M178.3 272.8h.01M167.5 271.1h.01M213.0 280.7h.01"/>
<path stroke="#0000c8" d="M479.2 385.2h.01M411.7 363.0h.01M487.9 390.8h.01M526.9 385.5h.01M498.7 395.2h.01M496.6 387.4h.01M444.6 390.4h.01"/>
<path stroke="#ff7000" d="M233.5 142.6h.01"/>
<path stroke="#000000" d="M174.0 184.4h.01M182.6 95.5h.01M167.5 143.0h.01M193.5 184.2h.01M171.8 100.8h.01M180.5 117.7h.01M174.0 162.2h.01M176.2 74.9h.01M176.2 118.9h.01M180.5 77.4h.01"/>
<path stroke="#00008f" d="M587.5 374.6h.01M635.1 390.1h.01M680.6 380.1h.01M704.4 383.1h.01M717.4 382.6h.01M827.8 370.3h.01M689.3 396.1h.01M806.2 380.7h.01M704.4 394.5h.01M767.2 387.1h.01M767.2 376.3h.01M678.4 393.6h.01M799.7 361.8h.01M756.4 354.6h.01M594.0 394.3h.01M758.5 369.7h.01M687.1 377.3h.01M539.9 384.5h.01M671.9 395.6h.01M726.1 375.4h.01M756.4 362.6h.01M773.7 378.6h.01M762.9 378.4h.01M598.3 394.6h.01M832.1 378.4h.01M860.3 390.2h.01M747.7 396.0h.01M840.8 375.4h.01M544.2 385.0h.01M797.7 280.5h.01M732.6 382.9h.01M736.9 383.3h.01M613.5 391.6h.01M713.1 367.6h.01M793.2 385.9h.01M533.4 390.7h.01"/>
<path stroke="#d80000" d="M167.5 282.8h.01"/>
<path stroke="#b00000" d="M182.6 233.6h.01"/>
<path stroke="#00f800" d="M262.8 371.5h.01M299.6 375.2h.01"/>
<path stroke="#0050ff" d="M371.0 388.4h.01M340.7 376.1h.01M375.3 385.0h.01M353.7 367.2h.01M420.8 382.7h.01"/>
<path stroke="#00a0ff" d="M334.2 386.6h.01M347.2 383.9h.01M303.9 384.0h.01M325.5 386.1h.01M308.2 382.0h.01"/>
<path stroke="#0000ff" d="M420.8 387.0h.01M420.8 376.8h.01M392.6 390.2h.01M479.2 378.2h.01M425.1 383.9h.01"/>
<path stroke="#fff000" d="M230.3 371.0h.01"/>
<path stroke="#a80000" d="M171.8 239.4h.01"/>
<path stroke="#ffe800" d="M236.8 352.5h.01"/>
<path stroke="#b80000" d="M215.1 271.6h.01M182.6 239.8h.01"/>
<path stroke="#e00000" d="M169.7 293.0h.01"/>
<path stroke="#00a0ff" d="M303.9 381.5h.01M364.5 386.8h.01M366.7 380.7h.01M336.4 384.5h.01"/>
<path stroke="#c00000" d="M163.2 260.5h.01M178.3 259.2h.01M171.8 255.5h.01"/>
<path stroke="#e80000" d="M202.1 300.1h.01"/>
<path stroke="#ffa800" d="M206.5 142.4h.01"/>
<path stroke="#0050ff" d="M366.7 377.8h.01M397.0 371.4h.01M373.2 388.7h.01M386.2 386.1h.01M342.9 387.6h.01M401.3 379.9h.01M407.8 383.0h.01"/>
<path stroke="#ff5000" d="M191.3 334.8h.01"/>
<path stroke="#ff4000" d="M178.3 333.6h.01"/>
<path stroke="#fff000" d="M243.3 358.3h.01"/>
<path stroke="#000000" d="M182.6 147.2h.01M163.2 92.5h.01M171.8 175.4h.01M176.2 134.2h.01M169.7 157.1h.01M171.8 201.0h.01M169.7 163.1h.01M167.5 197.1h.01M163.2 188.1h.01"/>
<path stroke="#ff0000" d="M171.8 316.5h.01"/>
<path stroke="#f00000" d="M206.5 244.8h.01"/>
<path stroke="#00ffff" d="M299.6 383.5h.01"/>
<path stroke="#0000c8" d="M533.4 395.8h.01M559.4 393.2h.01M461.9 388.7h.01M482.9 355.6h.01"/>
<path stroke="#00008f" d="M648.1 390.4h.01M704.4 395.7h.01M721.7 367.5h.01M721.7 363.5h.01M552.9 392.9h.01M749.9 387.1h.01M732.6 373.0h.01M814.8 360.0h.01M706.6 377.0h.01M607.0 390.9h.01M700.1 377.0h.01M637.3 394.4h.01M591.8 381.9h.01M758.5 380.5h.01M669.8 389.0h.01M795.3 388.2h.01M817.0 382.5h.01M758.1 312.1h.01M793.2 382.1h.01M654.6 391.8h.01M516.1 390.1h.01M704.4 377.7h.01M641.6 395.2h.01M791.0 374.2h.01M756.4 361.8h.01M796.6 350.4h.01M767.2 378.1h.01M793.2 383.5h.01M799.7 365.5h.01M596.2 368.5h.01M600.5 397.2h.01M758.5 372.3h.01M773.7 380.5h.01M771.5 363.4h.01M728.2 392.5h.01M568.0 368.1h.01M801.8 387.0h.01M715.2 391.1h.01M643.8 388.4h.01M507.4 394.3h.01M697.9 382.7h.01M717.4 384.8h.01M853.8 392.8h.01"/>
<path stroke="#c80000" d="M176.2 268.4h.01M191.3 270.1h.01"/>
<path stroke="#d80000" d="M167.5 286.3h.01"/>
<path stroke="#00f800" d="M301.7 359.0h.01M271.4 364.5h.01M286.6 381.0h.01M283.8 266.2h.01"/>
<path stroke="#0000ff" d="M425.1 383.7h.01M440.3 389.3h.01M407.8 374.0h.01M379.7 387.8h.01"/>
<path stroke="#ffb000" d="M213.0 357.3h.01"/>
<path stroke="#ffc800" d="M280.1 356.9h.01"/>
<path stroke="#ffd000" d="M243.3 332.4h.01"/>
<path stroke="#ffe000" d="M236.8 370.7h.01"/>
<path stroke="#e00000" d="M167.5 290.6h.01M180.5 295.4h.01M174.0 287.4h.01M182.6 288.7h.01M174.0 290.1h.01"/>
<path stroke="#a80000" d="M187.0 239.2h.01"/>
<path stroke="#000000" d="M182.6 78.9h.01M169.7 129.6h.01M165.3 190.9h.01M167.5 185.1h.01M163.2 77.1h.01M169.7 82.7h.01M182.6 168.8h.01M163.2 210.3h.01M174.0 195.4h.01M178.3 202.1h.01"/>
<path stroke="#ff6800" d="M193.5 304.9h.01"/>
<path stroke="#ff2800" d="M189.1 305.4h.01"/>
<path stroke="#c80000" d="M169.7 267.3h.01"/>
<path stroke="#e80000" d="M180.5 178.6h.01M195.6 298.3h.01"/>
<path stroke="#d80000" d="M217.3 269.4h.01"/>
<path stroke="#ff3800" d="M213.0 337.7h.01"/>
<path stroke="#00a0ff" d="M379.7 377.8h.01M334.2 387.2h.01"/>
<path stroke="#00008f" d="M678.4 395.2h.01M652.5 393.7h.01M550.7 396.6h.01M788.8 367.3h.01M752.0 352.0h.01M667.6 395.4h.01M721.7 396.8h.01M594.0 396.5h.01M775.9 384.7h.01M568.0 394.0h.01M542.0 393.2h.01M704.4 366.1h.01M565.9 393.2h.01M817.0 397.3h.01M806.2 384.3h.01M812.7 395.7h.01M823.5 385.5h.01M836.5 393.3h.01M613.5 395.0h.01M732.6 382.6h.01M858.1 387.5h.01M611.3 396.1h.01M710.9 369.6h.01M674.1 392.3h.01M784.5 389.1h.01M641.6 389.8h.01M630.8 387.2h.01M834.3 375.9h.01M771.5 385.7h.01M747.7 375.7h.01M771.5 369.6h.01M693.6 391.2h.01M526.9 392.7h.01M658.9 392.8h.01M682.8 371.0h.01M594.0 379.6h.01M624.3 395.8h.01"/>
<path stroke="#00f800" d="M254.1 376.0h.01M297.4 373.3h.01"/>
<path stroke="#0000ff" d="M394.8 388.9h.01M403.5 392.1h.01M388.3 389.6h.01M444.6 393.7h.01M405.6 384.9h.01M407.8 390.2h.01M457.6 383.3h.01"/>
<path stroke="#ffc000" d="M213.0 362.0h.01"/>
<path stroke="#f80000" d="M169.7 313.4h.01"/>
<path stroke="#fff000" d="M234.6 367.7h.01"/>
<path stroke="#ff6000" d="M191.3 289.0h.01"/>
<path stroke="#ffff00" d="M241.1 374.4h.01"/>
<path stroke="#c00000" d="M176.2 266.1h.01"/>
<path stroke="#a00000" d="M180.5 232.8h.01M195.6 237.4h.01M171.8 232.7h.01"/>
<path stroke="#0050ff" d="M379.7 390.3h.01M364.5 384.7h.01M433.8 347.7h.01"/>
<path stroke="#00ffff" d="M290.9 368.8h.01"/>
<path stroke="#d00000" d="M189.1 278.9h.01"/>
<path stroke="#0000c8" d="M565.6 359.6h.01M457.6 387.7h.01M468.4 391.4h.01M420.8 391.2h.01M526.9 391.4h.01"/>
<path stroke="#fff800" d="M251.9 376.9h.01"/>
<path stroke="#00a0ff" d="M306.1 384.4h.01M301.7 381.0h.01"/>
<path stroke="#0000c8" d="M457.6 380.3h.01M496.6 386.9h.01M433.8 393.1h.01M533.4 396.0h.01"/>
<path stroke="#f80000" d="M225.9 320.3h.01"/>
<path stroke="#0000ff" d="M507.4 389.8h.01M433.8 388.4h.01M420.8 385.0h.01M455.4 386.0h.01"/>
<path stroke="#ff7000" d="M260.6 315.5h.01"/>
<path stroke="#d00000" d="M167.5 276.0h.01"/>
<path stroke="#d80000" d="M232.4 283.1h.01M178.3 279.9h.01"/>
<path stroke="#00f800" d="M258.4 376.7h.01"/>
<path stroke="#ff2800" d="M195.6 315.8h.01"/>
<path stroke="#e00000" d="M187.0 295.9h.01"/>
<path stroke="#c80000" d="M176.2 269.3h.01"/>
<path stroke="#fff000" d="M264.9 353.5h.01"/>
<path stroke="#e80000" d="M180.5 95.2h.01"/>
<path stroke="#ff3800" d="M206.5 282.8h.01"/>
<path stroke="#a80000" d="M202.1 235.9h.01"/>
<path stroke="#ffe000" d="M234.6 369.1h.01M238.9 366.1h.01"/>
<path stroke="#ffd000" d="M238.9 351.8h.01"/>
<path stroke="#c00000" d="M171.8 258.3h.01"/>
<path stroke="#ffa800" d="M241.1 354.5h.01"/>
<path stroke="#00008f" d="M583.2 396.2h.01M598.3 395.9h.01M756.4 376.1h.01M775.9 368.9h.01M780.2 367.2h.01M646.0 388.5h.01M650.3 395.4h.01M591.8 396.3h.01M661.1 379.5h.01M804.0 364.8h.01M656.8 381.1h.01M791.0 384.3h.01M676.3 383.2h.01M743.4 367.7h.01M719.6 355.5h.01M799.7 360.9h.01M786.7 397.9h.01M762.9 383.6h.01M834.3 382.7h.01M804.0 386.7h.01M730.4 365.7h.01M516.1 392.9h.01M726.1 362.3h.01M682.8 395.5h.01M568.0 393.9h.01M730.4 388.9h.01M788.8 368.0h.01M754.2 390.7h.01M780.2 378.7h.01M775.9 396.3h.01M581.0 396.4h.01M710.9 365.5h.01M689.3 388.3h.01M574.5 385.5h.01M804.0 395.3h.01M745.5 388.7h.01M667.6 379.2h.01M743.4 369.2h.01M710.9 388.6h.01M700.1 368.0h.01M661.1 388.5h.01M719.6 366.7h.01M730.4 388.4h.01"/>
<path stroke="#980000" d="M182.6 219.4h.01"/>
<path stroke="#f00000" d="M200.0 310.4h.01"/>
<path stroke="#000000" d="M189.1 148.0h.01M184.8 102.6h.01M163.2 146.5h.01M165.3 122.9h.01M167.5 82.5h.01M197.8 168.4h.01M163.2 115.6h.01M228.1 179.9h.01M174.0 102.8h.01M169.7 183.3h.01M187.0 188.6h.01M189.1 174.0h.01M213.0 192.4h.01"/>
<path stroke="#ffa000" d="M202.1 353.4h.01"/>
<path stroke="#0050ff" d="M319.0 385.7h.01M353.7 389.4h.01M384.0 375.6h.01"/>
<path stroke="#ff1000" d="M238.9 321.2h.01"/>
<path stroke="#0000ff" d="M459.8 385.5h.01M453.3 391.2h.01M433.8 386.9h.01M446.8 388.8h.01M448.9 388.1h.01M464.1 384.0h.01M397.0 391.0h.01"/>
<path stroke="#ffe000" d="M225.9 360.8h.01"/>
<path stroke="#ff5000" d="M180.5 248.6h.01"/>
<path stroke="#ff8000" d="M200.0 304.9h.01"/>
<path stroke="#d80000" d="M171.8 283.7h.01"/>
<path stroke="#00ffff" d="M260.6 374.1h.01"/>
<path stroke="#e80000" d="M182.6 171.6h.01"/>
<path stroke="#00a0ff" d="M303.9 380.3h.01M323.4 385.5h.01M377.5 375.3h.01M377.5 377.7h.01M403.5 375.8h.01"/>
<path stroke="#ffb000" d="M213.0 209.7h.01"/>
<path stroke="#ff5800" d="M182.6 338.0h.01"/>
<path stroke="#ffd800" d="M243.3 320.7h.01"/>
<path stroke="#c00000" d="M180.5 259.4h.01"/>
<path stroke="#ff9800" d="M232.4 308.5h.01"/>
<path stroke="#00008f" d="M656.8 388.8h.01M689.3 397.0h.01M814.8 396.1h.01M749.9 385.8h.01M732.6 383.5h.01M719.6 375.5h.01M620.0 375.2h.01M793.2 366.9h.01M745.5 379.0h.01M762.9 360.0h.01M641.6 378.1h.01M728.2 366.7h.01M520.4 395.2h.01M570.2 390.3h.01M652.5 396.7h.01M535.5 392.6h.01M700.1 367.2h.01M600.5 371.2h.01M574.5 393.5h.01M728.2 395.5h.01M745.5 376.4h.01M661.1 379.3h.01M782.4 390.0h.01M804.0 388.4h.01M650.3 386.0h.01M626.5 391.7h.01M568.0 394.7h.01M788.8 375.9h.01M706.6 385.5h.01"/>
<path stroke="#f00000" d="M169.7 308.2h.01"/>
<path stroke="#d00000" d="M174.0 279.6h.01M182.6 234.1h.01"/>
<path stroke="#0050ff" d="M375.3 383.6h.01M407.8 380.0h.01M427.3 379.3h.01M358.0 388.7h.01"/>
<path stroke="#00f800" d="M290.9 378.9h.01M286.6 369.2h.01M286.6 368.1h.01M273.6 378.7h.01"/>
<path stroke="#900000" d="M189.1 212.9h.01"/>
<path stroke="#000000" d="M187.0 133.7h.01M169.7 101.0h.01M213.0 112.5h.01M182.6 180.2h.01M167.5 135.3h.01M163.2 184.4h.01M228.1 209.3h.01M163.2 76.5h.01M184.8 199.5h.01M169.7 165.6h.01M165.3 83.8h.01M163.2 73.6h.01"/>
<path stroke="#ffc800" d="M230.3 363.3h.01M247.6 349.8h.01"/>
<path stroke="#c80000" d="M182.6 214.2h.01M171.8 265.8h.01"/>
<path stroke="#ffe800" d="M223.8 368.0h.01M228.1 365.3h.01"/>
<path stroke="#0000c8" d="M494.4 395.0h.01M533.4 393.8h.01M451.1 392.3h.01M494.4 393.1h.01M483.6 393.4h.01"/>
<path stroke="#a00000" d="M178.3 158.8h.01"/>
<path stroke="#fff000" d="M236.8 372.1h.01M298.9 248.4h.01"/>
<path stroke="#e00000" d="M217.3 300.2h.01M191.3 285.6h.01"/>
<path stroke="#d80000" d="M174.0 281.3h.01"/>
<path stroke="#ff0800" d="M193.5 319.9h.01"/>
<path stroke="#a80000" d="M169.7 236.7h.01"/>
<path stroke="#0000c8" d="M487.9 390.1h.01M503.1 387.2h.01M442.4 391.8h.01"/>
<path stroke="#000000" d="M178.3 104.7h.01M182.6 135.4h.01M171.8 119.9h.01M171.8 198.5h.01M169.7 206.9h.01M174.0 93.8h.01M165.3 175.8h.01"/>
<path stroke="#fff800" d="M249.8 365.3h.01"/>
<path stroke="#00a0ff" d="M323.4 385.3h.01M314.7 384.7h.01M306.1 384.8h.01M286.6 379.3h.01"/>
<path stroke="#c00000" d="M169.7 259.0h.01"/>
<path stroke="#fff000" d="M236.8 372.8h.01"/>
<path stroke="#ff5000" d="M269.2 340.5h.01"/>
<path stroke="#ffd000" d="M249.8 336.4h.01"/>
<path stroke="#e80000" d="M195.6 297.6h.01"/>
<path stroke="#00008f" d="M717.4 387.2h.01M524.7 395.6h.01M591.6 335.0h.01M810.5 370.7h.01M728.2 375.4h.01M609.2 394.7h.01M639.5 384.9h.01M641.6 382.9h.01M641.6 374.3h.01M628.6 394.9h.01M821.3 397.1h.01M611.3 394.8h.01M745.5 376.6h.01M849.5 392.5h.01M765.0 389.6h.01M849.5 377.1h.01M713.1 396.4h.01M762.9 368.4h.01M739.0 366.8h.01M524.7 395.3h.01M693.6 375.7h.01M775.9 376.2h.01M756.4 388.4h.01M752.0 396.3h.01M771.5 385.4h.01M624.3 395.5h.01M747.7 380.4h.01M706.6 377.6h.01M849.5 382.1h.01M635.1 396.4h.01M721.7 368.3h.01M793.2 373.6h.01M780.2 384.7h.01M793.2 387.7h.01M583.2 393.3h.01M810.5 385.4h.01M713.1 396.2h.01M622.1 378.3h.01M736.9 394.8h.01M643.8 392.1h.01M782.4 367.2h.01M758.8 343.7h.01M812.7 391.1h.01M697.9 374.0h.01M723.9 373.9h.01M524.7 391.0h.01"/>
<path stroke="#00ffff" d="M301.7 383.8h.01"/>
<path stroke="#ffc000" d="M241.1 363.2h.01M208.6 357.9h.01"/>
<path stroke="#0050ff" d="M392.6 387.3h.01M390.5 386.3h.01M362.3 355.2h.01"/>
<path stroke="#0000ff" d="M470.6 383.5h.01M496.6 381.8h.01M423.0 392.8h.01M429.5 376.0h.01M435.9 380.5h.01"/>
<path stroke="#ffb000" d="M213.0 298.3h.01"/>
<path stroke="#f80000" d="M193.5 314.0h.01M178.3 271.6h.01"/>
<path stroke="#ffe000" d="M264.9 362.5h.01M232.4 354.1h.01M249.8 365.0h.01"/>
<path stroke="#b80000" d="M210.8 255.1h.01"/>
<path stroke="#b00000" d="M195.6 248.0h.01"/>
<path stroke="#00f800" d="M271.4 374.0h.01"/>
<path stroke="#ffd800" d="M251.7 304.1h.01"/>
<path stroke="#980000" d="M169.7 218.8h.01M171.8 228.0h.01"/>
<path stroke="#ff7800" d="M215.1 350.3h.01"/>
<path stroke="#ff1000" d="M193.5 130.4h.01"/>
<path stroke="#ff6800" d="M195.6 318.2h.01"/>
<path stroke="#ff3000" d="M187.0 327.3h.01"/>
<path stroke="#0000c8" d="M529.0 394.3h.01M442.4 391.1h.01M470.6 382.0h.01M433.8 392.2h.01"/>
<path stroke="#ff9000" d="M204.3 350.6h.01"/>
<path stroke="#ffff00" d="M303.9 371.5h.01"/>
<path stroke="#00ffff" d="M336.4 383.2h.01M323.4 374.5h.01"/>
<path stroke="#900000" d="M193.5 220.5h.01"/>
<path stroke="#ffd000" d="M262.8 364.4h.01M232.4 366.2h.01M223.8 359.6h.01"/>
<path stroke="#a80000" d="M165.3 237.4h.01"/>
<path stroke="#ff8000" d="M217.3 253.8h.01"/>
<path stroke="#ffa800" d="M228.1 315.4h.01"/>
<path stroke="#ffb000" d="M202.1 355.2h.01"/>
<path stroke="#0000ff" d="M431.6 387.1h.01"/>
<path stroke="#980000" d="M165.3 224.0h.01"/>
<path stroke="#0050ff" d="M321.2 386.0h.01M355.8 389.4h.01M342.9 388.7h.01M351.5 387.7h.01"/>
<path stroke="#ffe000" d="M225.9 366.5h.01"/>
<path stroke="#c80000" d="M187.0 156.6h.01"/>
<path stroke="#000000" d="M180.5 126.3h.01M165.3 130.9h.01M193.5 166.1h.01M174.0 123.6h.01M208.6 150.3h.01M195.6 162.2h.01M182.6 207.7h.01M174.0 82.2h.01M178.3 86.4h.01M200.0 153.2h.01M187.0 173.7h.01"/>
<path stroke="#00008f" d="M801.8 392.2h.01M804.0 393.2h.01M793.2 371.0h.01M747.7 386.4h.01M823.5 385.8h.01M799.7 381.2h.01M730.4 384.6h.01M552.9 385.9h.01M717.4 381.2h.01M812.7 382.5h.01M676.3 390.5h.01M825.6 387.8h.01M578.8 388.3h.01M745.5 385.3h.01M652.5 387.6h.01M710.9 367.3h.01M782.6 314.9h.01M661.1 388.6h.01M600.5 397.1h.01M661.1 383.6h.01M565.9 388.8h.01M726.1 390.0h.01M875.4 387.2h.01M834.3 361.2h.01M682.8 376.3h.01M678.4 387.7h.01M581.0 393.9h.01M576.7 397.0h.01M615.6 396.3h.01M767.2 394.6h.01M749.9 375.4h.01M691.4 388.9h.01M682.8 392.6h.01M602.7 389.0h.01M585.3 397.2h.01"/>
<path stroke="#ff4800" d="M182.6 335.1h.01"/>
<path stroke="#ff0800" d="M210.8 317.7h.01"/>
<path stroke="#00f800" d="M249.8 370.4h.01M301.7 371.1h.01M301.7 376.1h.01M293.1 371.2h.01M307.8 318.5h.01"/>
<path stroke="#d80000" d="M174.0 278.5h.01M174.0 285.7h.01M195.6 284.9h.01"/>
<path stroke="#c00000" d="M171.8 259.5h.01M180.5 255.1h.01"/>
<path stroke="#ff1800" d="M221.6 313.7h.01"/>
<path stroke="#00a0ff" d="M342.9 379.0h.01M316.9 361.3h.01"/>
<path stroke="#ffc000" d="M234.6 361.8h.01M230.3 345.2h.01"/>
<path stroke="#000000" d="M178.3 203.7h.01M169.7 106.7h.01M178.3 178.4h.01M165.3 195.8h.01M197.8 144.2h.01M167.5 197.0h.01"/>
<path stroke="#ffd000" d="M215.1 323.5h.01M251.9 336.9h.01M232.4 336.7h.01"/>
<path stroke="#a80000" d="M213.0 233.9h.01M197.8 235.1h.01"/>
<path stroke="#900000" d="M174.0 216.4h.01"/>
<path stroke="#00a0ff" d="M293.1 382.0h.01M342.9 374.6h.01M329.9 387.4h.01M340.7 384.9h.01M312.5 382.6h.01"/>
<path stroke="#d00000" d="M191.3 271.1h.01"/>
<path stroke="#b00000" d="M165.3 244.5h.01"/>
<path stroke="#ffc000" d="M249.8 357.5h.01"/>
<path stroke="#ffe800" d="M269.2 361.5h.01"/>
<path stroke="#00008f" d="M535.5 394.0h.01M830.0 369.2h.01M732.6 374.2h.01M581.0 395.4h.01M555.0 371.7h.01M762.9 365.0h.01M834.3 365.9h.01M693.6 393.6h.01M780.2 396.7h.01M628.6 390.5h.01M609.2 394.9h.01M576.7 384.0h.01M786.7 392.9h.01M847.3 386.5h.01M810.5 384.3h.01M747.7 366.3h.01M639.5 388.3h.01M806.2 368.9h.01M778.0 392.1h.01M788.8 370.5h.01M719.6 369.8h.01M817.0 387.0h.01M771.5 385.5h.01M565.9 383.9h.01M624.3 392.2h.01M775.9 388.7h.01M745.5 365.7h.01M771.5 377.0h.01M760.7 373.9h.01M793.2 390.2h.01M817.0 392.0h.01M496.6 395.2h.01M754.2 391.6h.01M676.3 393.2h.01M633.0 393.8h.01M674.1 394.4h.01M730.4 379.8h.01M819.2 374.7h.01"/>
<path stroke="#00ffff" d="M293.1 374.0h.01M288.7 379.6h.01"/>
<path stroke="#0050ff" d="M342.9 381.6h.01M368.8 377.5h.01"/>
<path stroke="#ff5800" d="M225.9 298.4h.01"/>
<path stroke="#b80000" d="M165.3 252.1h.01"/>
<path stroke="#980000" d="M178.3 224.4h.01"/>
<path stroke="#f80000" d="M219.4 309.3h.01"/>
<path stroke="#a00000" d="M167.5 230.7h.01"/>
<path stroke="#f00000" d="M171.8 306.1h.01M204.3 297.7h.01"/>
<path stroke="#e80000" d="M200.0 299.3h.01M165.3 297.1h.01"/>
<path stroke="#0000c8" d="M511.7 393.1h.01M539.9 384.4h.01M427.3 388.9h.01M448.9 371.3h.01M576.7 384.0h.01M448.9 392.7h.01M539.9 388.3h.01M487.9 392.3h.01M461.9 383.4h.01M520.4 373.6h.01M505.2 391.0h.01"/>
<path stroke="#0000ff" d="M490.1 383.5h.01M431.6 385.0h.01M470.6 392.7h.01M444.6 392.8h.01M435.9 387.6h.01M392.6 374.2h.01M386.2 389.7h.01M433.8 381.5h.01"/>
<path stroke="#ff1000" d="M174.0 321.9h.01"/>
<path stroke="#00a0ff" d="M329.9 384.7h.01M306.1 378.0h.01M334.2 385.2h.01"/>
<path stroke="#d00000" d="M200.0 268.7h.01M169.7 214.6h.01"/>
<path stroke="#ff9000" d="M221.6 347.0h.01M247.6 352.8h.01M202.1 343.8h.01"/>
<path stroke="#000000" d="M169.7 176.3h.01M165.3 203.1h.01M180.5 107.3h.01M171.8 90.7h.01M180.5 106.8h.01M174.0 117.9h.01M180.5 164.1h.01M165.3 86.8h.01M195.6 89.4h.01M174.0 82.6h.01M187.0 206.1h.01M195.6 155.5h.01M169.7 142.0h.01"/>
<path stroke="#f00000" d="M210.8 304.9h.01"/>
<path stroke="#ffe000" d="M232.4 359.4h.01"/>
<path stroke="#ff3000" d="M178.3 228.8h.01M202.1 328.7h.01"/>
<path stroke="#ffa800" d="M197.8 354.4h.01"/>
<path stroke="#0000c8" d="M461.9 393.0h.01M516.1 394.9h.01M518.2 386.3h.01M483.6 390.5h.01M472.8 389.9h.01M435.9 386.2h.01M555.0 393.6h.01M466.3 390.4h.01"/>
<path stroke="#fff000" d="M238.9 369.3h.01M223.8 364.1h.01"/>
<path stroke="#980000" d="M176.2 212.6h.01"/>
<path stroke="#00008f" d="M812.7 393.9h.01M778.0 363.8h.01M734.7 376.2h.01M797.5 391.3h.01M700.1 369.7h.01M726.1 367.9h.01M771.5 376.6h.01M557.2 385.2h.01M823.5 380.4h.01M762.9 393.4h.01M609.2 397.0h.01M671.9 384.2h.01M624.3 386.3h.01M843.0 390.9h.01M762.9 394.5h.01M713.1 382.2h.01M840.8 387.3h.01M671.9 397.2h.01M786.7 372.6h.01M726.1 377.2h.01M578.8 386.7h.01M702.2 369.4h.01M689.3 391.8h.01M795.3 376.1h.01M563.7 395.7h.01M801.8 380.6h.01"/>
<path stroke="#c00000" d="M167.5 261.3h.01"/>
<path stroke="#ffc800" d="M251.9 358.0h.01"/>
<path stroke="#ff7000" d="M254.1 317.8h.01"/>
<path stroke="#f80000" d="M195.6 308.3h.01"/>
<path stroke="#00ffff" d="M338.5 376.9h.01"/>
<path stroke="#0050ff" d="M375.3 384.5h.01M366.7 385.5h.01M373.2 384.9h.01M371.0 384.9h.01M405.6 371.6h.01"/>
<path stroke="#ffc000" d="M215.1 325.8h.01M219.4 362.4h.01"/>
<path stroke="#0000ff" d="M416.5 384.7h.01M444.6 382.7h.01M427.3 387.0h.01M392.6 391.4h.01M442.4 365.4h.01M418.6 391.6h.01M377.5 389.5h.01"/>
<path stroke="#c80000" d="M163.2 268.2h.01"/>
<path stroke="#b80000" d="M167.5 250.3h.01"/>
<path stroke="#ff2800" d="M193.5 328.0h.01M206.5 329.4h.01"/>
<path stroke="#00f800" d="M288.7 379.6h.01M308.2 360.0h.01M310.4 373.3h.01"/>
<path stroke="#d80000" d="M165.3 285.0h.01"/>
<path stroke="#ff1000" d="M171.8 322.8h.01"/>
<path stroke="#b80000" d="M184.8 252.5h.01M178.3 257.6h.01M167.5 255.4h.01"/>
<path stroke="#ffa000" d="M236.8 314.9h.01"/>
<path stroke="#f00000" d="M180.5 306.5h.01M191.3 308.0h.01"/>
<path stroke="#ff6000" d="M238.9 299.5h.01"/>
<path stroke="#ffe800" d="M223.8 367.6h.01"/>
<path stroke="#ff7000" d="M217.3 317.9h.01"/>
<path stroke="#0000ff" d="M384.0 390.0h.01M377.5 389.7h.01M403.5 390.5h.01"/>
<path stroke="#00a0ff" d="M301.7 377.7h.01M325.5 385.2h.01"/>
<path stroke="#00008f" d="M743.4 366.7h.01M561.5 367.5h.01M743.4 362.2h.01M723.9 367.9h.01M804.0 381.3h.01M555.0 395.4h.01M723.9 370.0h.01M793.2 395.5h.01M797.5 393.3h.01M745.5 380.6h.01M535.5 392.6h.01M858.1 380.7h.01M611.3 393.4h.01M687.1 372.9h.01M756.4 389.8h.01M617.8 389.4h.01M797.5 381.9h.01M771.5 374.9h.01M819.2 370.5h.01M600.5 387.8h.01M706.6 370.7h.01M535.5 379.5h.01M717.4 377.2h.01M641.6 392.9h.01M713.1 386.1h.01M760.7 372.8h.01M736.9 380.0h.01M693.6 355.5h.01M760.7 360.2h.01M782.4 374.9h.01M561.5 391.4h.01M795.3 363.3h.01M544.2 393.9h.01M836.5 391.6h.01M799.7 396.3h.01M710.9 373.8h.01M682.8 384.2h.01M799.7 370.0h.01"/>
<path stroke="#c80000" d="M213.0 251.9h.01"/>
<path stroke="#ff5000" d="M182.6 335.8h.01M191.3 316.2h.01"/>
<path stroke="#b00000" d="M163.2 248.7h.01"/>
<path stroke="#ffb800" d="M232.4 329.8h.01"/>
<path stroke="#ffb000" d="M236.8 356.7h.01"/>
<path stroke="#0050ff" d="M401.3 381.7h.01M392.6 382.0h.01M340.7 387.3h.01M360.2 362.5h.01M416.5 386.5h.01"/>
<path stroke="#ffe000" d="M264.9 361.5h.01M230.3 355.0h.01M249.8 353.2h.01"/>
<path stroke="#d00000" d="M174.0 273.6h.01M191.3 280.4h.01"/>
<path stroke="#000000" d="M165.3 203.3h.01M174.0 147.0h.01M178.3 164.9h.01M189.1 91.5h.01M171.8 189.4h.01M178.3 174.4h.01"/>
<path stroke="#0000c8" d="M474.9 394.0h.01M433.8 386.1h.01M483.6 393.7h.01"/>
<path stroke="#a80000" d="M206.5 75.4h.01"/>
<path stroke="#00f800" d="M249.8 367.1h.01M338.5 352.7h.01M249.8 369.1h.01M282.2 378.9h.01M275.7 380.4h.01"/>
<path stroke="#ffc800" d="M223.8 362.3h.01"/>
<path stroke="#ffd000" d="M249.8 316.2h.01"/>
<path stroke="#00ffff" d="M346.5 339.8h.01"/>
<path stroke="#ff1800" d="M176.2 323.8h.01"/>
<path stroke="#980000" d="M165.3 213.0h.01M208.6 225.8h.01"/>
<path stroke="#ffd800" d="M232.4 365.2h.01"/>
<path stroke="#ff6000" d="M182.6 257.8h.01"/>
<path stroke="#fff000" d="M277.9 349.7h.01"/>
<path stroke="#ff7800" d="M206.5 346.0h.01"/>
<path stroke="#e80000" d="M215.1 279.6h.01M171.8 296.4h.01"/>
<path stroke="#0000ff" d="M401.3 390.9h.01M429.5 393.0h.01M461.9 391.1h.01M418.6 388.3h.01M442.4 392.4h.01"/>
<path stroke="#00a0ff" d="M332.0 386.1h.01M316.9 386.2h.01M366.7 385.0h.01M327.7 382.7h.01"/>
<path stroke="#ff4800" d="M189.1 284.5h.01"/>
<path stroke="#00f800" d="M249.8 374.5h.01M323.4 377.2h.01"/>
<path stroke="#f00000" d="M167.5 307.5h.01"/>
<path stroke="#e00000" d="M178.3 75.2h.01"/>
<path stroke="#c00000" d="M174.0 254.5h.01M184.8 253.8h.01M193.5 260.9h.01"/>
<path stroke="#00008f" d="M866.8 389.6h.01M795.3 373.5h.01M827.8 384.3h.01M643.8 387.6h.01M626.5 396.2h.01M810.5 390.3h.01M804.0 368.2h.01M695.8 381.8h.01M671.9 391.8h.01M812.7 395.4h.01M604.8 371.9h.01M749.9 365.8h.01M598.3 390.5h.01M817.0 383.0h.01M578.8 376.5h.01M669.8 396.5h.01M576.7 387.4h.01M804.0 381.2h.01M537.7 382.7h.01M732.6 384.6h.01M706.6 396.7h.01M533.4 390.1h.01M700.1 375.8h.01M643.8 379.8h.01M782.4 393.0h.01M713.1 360.5h.01M765.0 393.6h.01M717.4 392.2h.01M726.1 367.0h.01M791.0 366.6h.01M702.2 390.6h.01M797.5 396.4h.01M634.9 356.0h.01M810.5 357.9h.01M745.5 353.7h.01M689.3 370.6h.01M808.3 371.5h.01M778.0 396.3h.01"/>
<path stroke="#ff2000" d="M182.6 319.5h.01"/>
<path stroke="#0050ff" d="M332.0 374.7h.01M362.3 387.4h.01M342.9 387.5h.01M375.3 390.5h.01"/>
<path stroke="#0000c8" d="M446.8 380.4h.01M459.8 381.1h.01M457.6 393.2h.01M477.1 392.5h.01"/>
<path stroke="#000000" d="M171.8 88.4h.01M174.0 181.7h.01M180.5 202.5h.01M178.3 145.6h.01M167.5 173.5h.01M174.0 159.5h.01M176.2 101.2h.01M176.2 103.5h.01M174.0 163.2h.01"/>
<path stroke="#980000" d="M163.2 226.7h.01M171.8 226.0h.01"/>
<path stroke="#ff8000" d="M210.8 325.6h.01"/>
<path stroke="#d00000" d="M165.3 274.5h.01"/>
<path stroke="#ffe000" d="M230.3 249.4h.01M249.8 332.0h.01M245.4 350.5h.01"/>
<path stroke="#ff4000" d="M197.8 327.3h.01M200.0 333.4h.01"/>
<path stroke="#f80000" d="M193.5 309.5h.01"/>
<path stroke="#ffa000" d="M217.3 356.1h.01"/>
<path stroke="#d80000" d="M180.5 277.1h.01"/>
<path stroke="#ffb000" d="M221.6 342.5h.01"/>
<path stroke="#ff8000" d="M197.8 342.7h.01"/>
<path stroke="#b80000" d="M163.2 251.0h.01"/>
<path stroke="#000000" d="M178.3 205.5h.01M182.6 174.5h.01M163.2 180.4h.01M174.0 127.6h.01M180.5 124.4h.01M165.3 141.5h.01M182.6 171.0h.01"/>
<path stroke="#0000c8" d="M468.4 391.9h.01M544.2 396.2h.01M563.7 391.8h.01M451.1 392.5h.01"/>
<path stroke="#fff000" d="M241.1 367.8h.01"/>
<path stroke="#00ffff" d="M310.4 374.4h.01M319.0 370.6h.01"/>
<path stroke="#b00000" d="M182.6 240.2h.01"/>
<path stroke="#ffc000" d="M215.1 362.1h.01M245.4 363.5h.01"/>
<path stroke="#ff8800" d="M249.8 346.0h.01"/>
<path stroke="#ffc800" d="M223.8 347.8h.01M210.8 353.6h.01"/>
<path stroke="#c80000" d="M236.8 283.1h.01M180.5 268.1h.01"/>
<path stroke="#a80000" d="M215.1 112.0h.01M174.0 241.1h.01"/>
<path stroke="#00008f" d="M736.9 366.6h.01M741.2 391.1h.01M695.8 393.4h.01M749.9 389.3h.01M760.7 390.4h.01M736.9 385.3h.01M752.0 378.7h.01M587.5 397.0h.01M719.6 373.2h.01M775.9 385.5h.01M797.5 375.3h.01M715.2 395.4h.01M749.9 380.9h.01M745.5 371.8h.01M555.0 393.1h.01M710.9 392.9h.01M739.0 373.1h.01M583.2 393.1h.01M780.2 390.0h.01M680.6 385.5h.01M769.4 381.8h.01M585.3 393.8h.01M607.0 381.6h.01M778.0 395.6h.01M743.4 365.7h.01M741.2 387.5h.01M689.3 385.1h.01M780.2 363.5h.01M752.0 392.3h.01M827.8 394.1h.01M747.7 372.6h.01M693.6 374.0h.01M702.2 355.8h.01M788.8 375.6h.01M611.3 390.4h.01M767.2 382.5h.01M817.0 370.5h.01M539.9 392.5h.01M702.2 369.3h.01M550.7 394.8h.01M563.7 383.0h.01M734.7 390.3h.01M583.2 394.9h.01M609.2 393.8h.01"/>
<path stroke="#ffe000" d="M243.3 328.9h.01"/>
<path stroke="#00f800" d="M293.1 374.9h.01M258.4 368.5h.01"/>
<path stroke="#ff2800" d="M230.3 286.2h.01M217.3 246.8h.01"/>
<path stroke="#0050ff" d="M399.1 382.2h.01M384.0 391.3h.01M360.2 388.9h.01"/>
<path stroke="#0000ff" d="M470.6 379.4h.01M394.8 387.8h.01M414.3 391.8h.01M462.8 360.4h.01M457.6 392.6h.01"/>
<path stroke="#00a0ff" d="M319.0 366.0h.01M299.6 383.5h.01"/>
<path stroke="#ff1000" d="M189.1 194.4h.01"/>
<path stroke="#d00000" d="M178.3 96.4h.01M167.5 272.2h.01M200.0 272.3h.01"/>
<path stroke="#f00000" d="M202.1 182.5h.01M191.3 231.9h.01"/>
<path stroke="#ff0000" d="M208.6 311.1h.01"/>
<path stroke="#00f800" d="M247.6 373.3h.01M260.6 370.7h.01M277.9 376.9h.01M301.7 366.0h.01"/>
<path stroke="#00a0ff" d="M342.9 380.7h.01M364.5 386.8h.01M347.2 377.7h.01"/>
<path stroke="#ffc800" d="M238.9 343.1h.01"/>
<path stroke="#f80000" d="M202.1 313.2h.01M182.6 310.8h.01"/>
<path stroke="#0050ff" d="M381.8 364.3h.01M386.2 384.8h.01M345.0 386.5h.01M384.0 389.4h.01"/>
<path stroke="#ffff00" d="M284.4 339.8h.01M238.9 370.5h.01"/>
<path stroke="#000000" d="M184.8 139.1h.01M171.8 113.7h.01M163.2 135.7h.01M174.0 81.2h.01M178.3 150.6h.01M176.2 207.2h.01M171.8 104.2h.01M165.3 94.8h.01M169.7 173.2h.01M174.0 156.3h.01M180.5 73.6h.01M169.7 123.4h.01"/>
<path stroke="#ff3000" d="M213.0 171.0h.01"/>
<path stroke="#00ffff" d="M303.9 383.5h.01M308.2 383.8h.01"/>
<path stroke="#0000ff" d="M397.0 377.2h.01M500.9 377.9h.01M414.3 384.2h.01M407.8 391.4h.01M401.3 390.1h.01M444.6 387.7h.01"/>
<path stroke="#ff5000" d="M225.9 337.2h.01"/>
<path stroke="#c00000" d="M167.5 260.0h.01M180.5 255.5h.01"/>
<path stroke="#b80000" d="M180.5 257.2h.01M169.7 251.4h.01"/>
<path stroke="#fff800" d="M256.3 371.0h.01"/>
<path stroke="#fff000" d="M277.9 364.7h.01"/>
<path stroke="#ff2000" d="M210.8 328.3h.01"/>
<path stroke="#ffd800" d="M256.3 357.2h.01M254.1 363.9h.01"/>
<path stroke="#ff7800" d="M221.6 352.0h.01"/>
<path stroke="#ff5800" d="M204.3 319.8h.01"/>
<path stroke="#f00000" d="M167.5 305.5h.01M167.5 304.0h.01"/>
<path stroke="#0000c8" d="M420.8 392.2h.01M435.9 393.1h.01M492.2 395.1h.01M505.2 390.5h.01M464.1 393.1h.01M477.1 393.5h.01"/>
<path stroke="#ff7000" d="M204.3 343.4h.01"/>
<path stroke="#ffd000" d="M256.3 362.8h.01M236.8 333.8h.01M221.6 364.2h.01"/>
<path stroke="#ffb800" d="M225.9 353.7h.01"/>
<path stroke="#00008f" d="M784.5 376.2h.01M851.6 390.0h.01M622.1 394.1h.01M656.8 395.4h.01M594.0 396.6h.01M732.6 365.5h.01M689.3 383.4h.01M652.5 386.6h.01M747.7 359.1h.01M591.8 394.3h.01M760.7 360.2h.01M700.1 372.2h.01M847.7 362.1h.01M778.0 366.1h.01M791.0 373.2h.01M767.2 380.1h.01M741.2 390.6h.01M795.3 367.8h.01M765.0 388.9h.01M639.5 385.2h.01M613.5 392.7h.01M524.7 394.1h.01M782.4 367.3h.01M771.5 380.0h.01M652.5 391.5h.01M663.3 391.3h.01M721.7 371.7h.01M702.2 368.8h.01"/>
<path stroke="#ffd800" d="M243.3 367.0h.01"/>
<path stroke="#ffb800" d="M232.4 290.7h.01"/>
<path stroke="#d80000" d="M238.9 279.1h.01"/>
<path stroke="#ff6800" d="M182.6 341.9h.01"/>
<path stroke="#00f800" d="M243.3 369.9h.01M306.1 371.0h.01M280.1 371.3h.01M293.1 373.4h.01"/>
<path stroke="#ffe000" d="M273.6 365.6h.01"/>
<path stroke="#a00000" d="M165.3 231.7h.01M169.7 233.3h.01"/>
<path stroke="#ffe800" d="M228.1 344.4h.01M243.3 371.1h.01"/>
<path stroke="#b00000" d="M163.2 245.1h.01M184.8 252.7h.01"/>
<path stroke="#ff9000" d="M189.1 345.4h.01"/>
<path stroke="#f00000" d="M191.3 304.1h.01"/>
<path stroke="#980000" d="M169.7 227.9h.01M178.3 220.9h.01"/>
<path stroke="#ffb000" d="M230.3 339.9h.01M253.7 292.5h.01"/>
<path stroke="#ff6000" d="M187.0 244.6h.01"/>
<path stroke="#ff2000" d="M208.6 326.7h.01"/>
<path stroke="#000000" d="M163.2 123.0h.01M165.3 151.1h.01M165.3 81.8h.01M167.5 145.8h.01M176.2 172.0h.01M171.8 138.4h.01M174.0 148.5h.01M169.7 96.8h.01M169.7 97.1h.01M163.2 83.1h.01M165.3 213.1h.01M174.0 148.7h.01M165.3 129.8h.01"/>
<path stroke="#0000c8" d="M427.3 392.9h.01M483.6 393.9h.01M481.4 388.7h.01M490.1 391.2h.01"/>
<path stroke="#ff0000" d="M241.1 311.0h.01"/>
<path stroke="#00a0ff" d="M314.7 382.1h.01"/>
<path stroke="#00008f" d="M624.3 391.4h.01M533.4 393.1h.01M583.2 397.2h.01M843.0 386.4h.01M769.4 381.5h.01M786.7 380.6h.01M723.9 373.0h.01M689.3 393.3h.01M721.7 394.3h.01M786.7 390.8h.01M797.5 382.2h.01M745.5 375.8h.01M559.4 379.4h.01M667.6 384.2h.01M548.5 387.6h.01M810.5 359.4h.01M674.1 379.8h.01M739.0 371.9h.01M604.8 394.6h.01M747.7 396.2h.01M825.6 389.8h.01M784.5 360.9h.01M765.0 394.0h.01M522.5 391.9h.01M682.8 393.4h.01M697.9 383.2h.01M765.0 372.6h.01M702.2 377.1h.01M667.6 363.9h.01M864.6 388.3h.01M752.0 374.5h.01M678.4 380.4h.01M550.7 382.5h.01M747.7 356.6h.01"/>
<path stroke="#b80000" d="M176.2 253.1h.01"/>
<path stroke="#ff8000" d="M225.9 313.5h.01"/>
<path stroke="#ffc000" d="M208.6 290.4h.01"/>
<path stroke="#d00000" d="M182.6 272.8h.01"/>
<path stroke="#ff3800" d="M191.3 317.1h.01"/>
<path stroke="#fff000" d="M254.1 370.7h.01"/>
<path stroke="#e80000" d="M193.5 302.3h.01"/>
<path stroke="#00ffff" d="M342.9 366.4h.01"/>
<path stroke="#900000" d="M195.6 217.1h.01"/>
<path stroke="#0050ff" d="M384.0 387.0h.01M371.0 385.4h.01M368.8 388.9h.01"/>
<path stroke="#0000ff" d="M390.5 382.7h.01M446.8 387.4h.01M498.7 385.3h.01"/>
<path stroke="#f00000" d="M206.5 307.1h.01"/>
<path stroke="#000000" d="M171.8 148.5h.01M182.6 163.6h.01M174.0 182.9h.01M189.1 78.5h.01M165.3 73.0h.01M163.2 184.2h.01M167.5 171.3h.01M180.5 183.8h.01M213.0 172.8h.01M200.0 80.6h.01M163.2 170.6h.01M167.5 172.7h.01"/>
<path stroke="#ff5000" d="M208.6 201.9h.01"/>
<path stroke="#c00000" d="M217.3 248.0h.01M165.3 261.5h.01"/>
<path stroke="#00f800" d="M247.6 372.2h.01M258.4 378.4h.01M290.9 375.4h.01M307.8 337.0h.01"/>
<path stroke="#e00000" d="M178.3 283.2h.01M189.1 286.7h.01"/>
<path stroke="#ff1800" d="M197.8 324.3h.01M184.8 194.0h.01"/>
<path stroke="#00a0ff" d="M325.5 382.1h.01M295.2 374.1h.01"/>
<path stroke="#980000" d="M165.3 217.3h.01"/>
<path stroke="#a80000" d="M163.2 213.4h.01"/>
<path stroke="#e80000" d="M193.5 294.7h.01M174.0 299.4h.01M180.5 300.9h.01"/>
<path stroke="#0050ff" d="M398.9 278.2h.01M399.1 368.7h.01"/>
<path stroke="#00008f" d="M526.9 394.3h.01M626.5 396.8h.01M726.1 370.5h.01M817.0 372.5h.01M723.9 373.0h.01M708.7 383.7h.01M723.9 357.3h.01M732.6 384.0h.01M552.9 395.3h.01M535.5 386.8h.01M741.2 387.6h.01M775.9 394.3h.01M849.5 387.3h.01M637.3 381.7h.01M796.0 343.5h.01M743.4 381.6h.01M719.6 375.8h.01M596.2 390.3h.01M791.0 373.0h.01M715.2 385.8h.01M717.4 394.5h.01M702.2 371.4h.01M739.0 390.1h.01M505.2 393.1h.01M613.5 391.4h.01M782.4 391.0h.01M756.4 396.0h.01M786.7 371.1h.01M769.4 396.1h.01M689.3 390.6h.01M704.4 387.5h.01M602.7 391.6h.01M665.4 392.4h.01"/>
<path stroke="#ffc800" d="M221.6 365.0h.01M243.3 361.4h.01"/>
<path stroke="#d80000" d="M213.0 270.8h.01"/>
<path stroke="#0000ff" d="M498.7 376.9h.01M368.8 386.0h.01M438.1 384.7h.01M418.6 377.7h.01"/>
<path stroke="#ff1000" d="M191.3 111.0h.01"/>
<path stroke="#0000c8" d="M555.0 395.3h.01M507.4 390.9h.01M531.2 383.8h.01M531.2 390.8h.01M507.4 393.9h.01M468.4 391.1h.01M494.4 395.2h.01"/>
<path stroke="#ffa800" d="M236.8 350.5h.01"/>
<path stroke="#ffb800" d="M234.6 356.6h.01"/>
<path stroke="#ffe000" d="M230.3 363.5h.01"/>
<path stroke="#f80000" d="M184.8 308.9h.01M182.6 286.8h.01"/>
<path stroke="#ff4800" d="M178.3 334.3h.01"/>
<path stroke="#ff8000" d="M223.8 343.2h.01"/>
<path stroke="#00ffff" d="M288.7 380.8h.01M288.7 379.1h.01M277.9 381.1h.01"/>
<path stroke="#ffe000" d="M238.9 276.3h.01"/>
<path stroke="#fff000" d="M243.3 367.9h.01"/>
<path stroke="#fff800" d="M269.2 369.2h.01"/>
<path stroke="#c00000" d="M210.8 270.1h.01M165.3 259.9h.01"/>
<path stroke="#0050ff" d="M373.2 389.4h.01M362.3 387.6h.01M383.3 354.5h.01M332.0 385.5h.01M364.5 387.6h.01"/>
<path stroke="#b00000" d="M210.8 254.6h.01"/>
<path stroke="#ffa000" d="M217.3 344.8h.01"/>
<path stroke="#ff9800" d="M247.6 324.2h.01"/>
<path stroke="#00a0ff" d="M347.2 383.6h.01M312.5 379.1h.01M366.7 381.2h.01M321.2 383.4h.01M312.5 383.6h.01M314.7 385.6h.01"/>
<path stroke="#a80000" d="M163.2 241.1h.01"/>
<path stroke="#ffc800" d="M243.3 347.5h.01"/>
<path stroke="#e00000" d="M169.7 287.6h.01"/>
<path stroke="#ffe800" d="M264.9 334.5h.01"/>
<path stroke="#000000" d="M178.3 134.2h.01M180.5 169.7h.01M169.7 114.8h.01M165.3 81.7h.01M167.5 139.8h.01M169.7 105.4h.01M187.0 179.0h.01M165.3 144.3h.01M174.0 197.1h.01M178.3 129.5h.01M200.0 171.9h.01M165.3 197.0h.01M189.1 150.7h.01M165.3 162.3h.01M163.2 144.0h.01"/>
<path stroke="#d80000" d="M180.5 282.1h.01"/>
<path stroke="#ff4000" d="M191.3 333.5h.01"/>
<path stroke="#ff8000" d="M204.3 318.2h.01"/>
<path stroke="#ffd000" d="M258.4 363.0h.01"/>
<path stroke="#00ffff" d="M306.1 376.1h.01M286.6 380.4h.01"/>
<path stroke="#ffa800" d="M202.1 356.3h.01M234.6 346.3h.01"/>
<path stroke="#0000ff" d="M433.8 385.4h.01M381.8 387.7h.01"/>
<path stroke="#ffd800" d="M238.9 336.0h.01"/>
<path stroke="#0000c8" d="M474.9 391.9h.01M522.5 386.0h.01M496.6 377.3h.01"/>
<path stroke="#ff7800" d="M251.9 339.3h.01M193.5 344.5h.01"/>
<path stroke="#ffc000" d="M219.4 358.5h.01M206.5 362.1h.01"/>
<path stroke="#f00000" d="M200.0 308.8h.01"/>
<path stroke="#00008f" d="M726.1 370.3h.01M676.3 384.9h.01M769.4 397.2h.01M806.2 364.7h.01M721.7 395.2h.01M607.0 394.1h.01M708.7 394.6h.01M667.6 383.3h.01M786.7 361.1h.01M559.4 394.3h.01M771.5 397.8h.01M578.8 386.7h.01M788.8 370.8h.01M860.3 389.1h.01M706.6 374.9h.01M617.8 392.8h.01M635.1 383.5h.01M858.1 381.9h.01M565.9 395.7h.01M676.3 385.2h.01M633.0 393.3h.01M576.7 391.0h.01M793.2 390.0h.01M544.2 387.8h.01M791.0 393.4h.01M708.7 374.7h.01M806.2 379.7h.01M607.0 393.5h.01M713.1 366.1h.01M736.9 380.3h.01M784.5 386.9h.01M847.3 389.9h.01M795.3 369.7h.01M717.4 379.9h.01"/>
<path stroke="#e80000" d="M178.3 299.2h.01"/>
<path stroke="#fff000" d="M281.8 308.0h.01"/>
<path stroke="#d00000" d="M189.1 277.1h.01M171.8 273.6h.01"/>
<path stroke="#00ffff" d="M295.2 380.2h.01"/>
<path stroke="#ff3800" d="M184.8 270.7h.01"/>
<path stroke="#b80000" d="M165.3 252.0h.01M208.6 266.6h.01"/>
<path stroke="#ff6000" d="M193.5 283.0h.01"/>
<path stroke="#00008f" d="M849.5 382.2h.01M747.7 376.0h.01M719.6 382.6h.01M702.2 393.7h.01M542.0 395.3h.01M723.9 371.0h.01M782.4 388.8h.01M799.7 379.6h.01M739.0 394.9h.01M812.7 387.8h.01M643.8 372.9h.01M697.9 368.0h.01M734.7 387.1h.01M658.9 387.7h.01M762.9 394.3h.01M708.7 369.8h.01M773.7 384.9h.01M771.5 362.9h.01M728.2 374.6h.01M561.5 395.7h.01M797.5 386.0h.01M741.2 374.2h.01M726.1 371.1h.01M821.3 387.7h.01M734.7 369.3h.01M531.2 395.0h.01M648.1 396.6h.01M827.8 389.4h.01M797.5 379.0h.01M762.9 397.6h.01"/>
<path stroke="#ffe800" d="M256.3 360.5h.01"/>
<path stroke="#ffe000" d="M238.9 359.9h.01"/>
<path stroke="#a80000" d="M167.5 239.4h.01"/>
<path stroke="#ff4000" d="M178.3 310.9h.01"/>
<path stroke="#f80000" d="M178.3 257.5h.01"/>
<path stroke="#ffa800" d="M197.8 355.1h.01"/>
<path stroke="#0000ff" d="M384.0 387.2h.01M384.0 391.0h.01M446.8 381.4h.01M435.9 386.0h.01M440.3 384.8h.01M388.3 390.1h.01M427.3 392.6h.01M425.1 387.1h.01"/>
<path stroke="#e00000" d="M171.8 283.5h.01M238.9 292.3h.01"/>
<path stroke="#00a0ff" d="M327.7 381.3h.01M299.6 381.8h.01M306.1 382.6h.01M301.7 384.7h.01"/>
<path stroke="#ff0000" d="M213.0 133.3h.01"/>
<path stroke="#a00000" d="M217.3 233.0h.01"/>
<path stroke="#ff7800" d="M217.3 283.8h.01M234.6 209.8h.01"/>
<path stroke="#0000c8" d="M559.4 383.5h.01M492.2 393.6h.01M550.7 393.3h.01M470.6 392.7h.01M500.9 384.0h.01M522.5 392.8h.01M435.9 393.0h.01"/>
<path stroke="#000000" d="M174.0 216.6h.01M163.2 100.8h.01M176.2 156.7h.01M163.2 215.2h.01M176.2 206.9h.01M171.8 106.5h.01M174.0 142.0h.01M169.7 173.2h.01M163.2 171.4h.01M182.6 198.0h.01"/>
<path stroke="#0050ff" d="M310.4 372.9h.01M360.2 380.3h.01M377.5 384.4h.01M342.9 373.5h.01M388.3 383.7h.01M368.8 380.0h.01"/>
<path stroke="#00f800" d="M267.1 374.5h.01M297.4 365.6h.01M352.4 346.8h.01"/>
<path stroke="#ff1800" d="M204.3 328.0h.01M234.6 241.5h.01"/>
<path stroke="#ffb800" d="M236.8 353.5h.01"/>
<path stroke="#000000" d="M176.2 144.0h.01M165.3 76.3h.01M167.5 156.7h.01M204.3 85.0h.01M163.2 191.8h.01M174.0 75.8h.01M171.8 115.2h.01M163.2 141.7h.01M167.5 129.8h.01M163.2 168.2h.01M165.3 103.4h.01M165.3 131.6h.01M167.5 112.0h.01M182.6 204.3h.01M163.2 182.8h.01"/>
<path stroke="#ff6000" d="M213.0 337.5h.01"/>
<path stroke="#b80000" d="M169.7 256.8h.01"/>
<path stroke="#ffe800" d="M272.9 311.9h.01"/>
<path stroke="#0000c8" d="M492.2 393.5h.01M516.1 393.4h.01M513.9 393.8h.01M496.6 387.9h.01M535.5 392.9h.01M498.7 375.7h.01M526.9 385.0h.01M477.1 387.7h.01M431.6 389.1h.01M435.9 388.7h.01M507.4 395.5h.01M511.7 387.9h.01"/>
<path stroke="#00a0ff" d="M297.4 377.0h.01M312.5 372.0h.01M340.7 383.3h.01M336.4 386.0h.01M349.4 380.3h.01"/>
<path stroke="#ffff00" d="M234.6 372.6h.01"/>
<path stroke="#ff7000" d="M210.8 324.6h.01"/>
<path stroke="#f00000" d="M167.5 300.9h.01"/>
<path stroke="#a80000" d="M193.5 157.2h.01M174.0 228.7h.01"/>
<path stroke="#ff1000" d="M204.3 197.3h.01"/>
<path stroke="#ff0000" d="M202.1 317.4h.01M193.5 276.3h.01"/>
<path stroke="#c00000" d="M174.0 258.6h.01M200.0 261.7h.01M178.3 265.7h.01"/>
<path stroke="#0050ff" d="M355.8 388.8h.01M392.6 390.3h.01"/>
<path stroke="#ffc000" d="M221.6 350.1h.01"/>
<path stroke="#fff000" d="M256.3 368.9h.01"/>
<path stroke="#00008f" d="M778.0 369.5h.01M526.9 387.8h.01M691.4 386.8h.01M788.8 386.9h.01M607.0 387.6h.01M756.4 368.8h.01M726.1 395.4h.01M702.2 384.2h.01M736.9 372.9h.01M819.2 383.1h.01M520.4 395.0h.01M853.8 381.9h.01M756.4 383.2h.01M784.5 395.4h.01M743.4 393.7h.01M531.2 385.5h.01M765.0 371.3h.01M704.4 397.0h.01M806.2 377.8h.01M730.4 368.2h.01M700.1 367.1h.01M654.6 365.6h.01M739.0 379.5h.01M555.0 381.6h.01M630.8 380.5h.01M780.2 396.1h.01M767.2 389.8h.01M620.0 395.7h.01M814.8 381.3h.01M747.7 380.6h.01M542.0 395.0h.01M849.5 385.0h.01M756.4 397.9h.01M743.4 376.9h.01M715.2 395.8h.01M838.6 371.7h.01M572.3 393.2h.01"/>
<path stroke="#d00000" d="M182.6 276.8h.01"/>
<path stroke="#0000ff" d="M414.3 391.4h.01M399.1 367.6h.01"/>
<path stroke="#00a0ff" d="M338.5 387.4h.01"/>
<path stroke="#b00000" d="M189.1 246.8h.01"/>
<path stroke="#ff6000" d="M221.6 327.5h.01"/>
<path stroke="#ff7000" d="M230.3 305.2h.01"/>
<path stroke="#0000c8" d="M477.1 392.8h.01M555.0 396.7h.01M503.1 394.8h.01M490.1 382.7h.01M477.1 393.5h.01"/>
<path stroke="#000000" d="M163.2 215.0h.01M174.0 161.4h.01M167.5 112.5h.01M215.1 219.8h.01M171.8 136.8h.01M167.5 168.2h.01M187.0 139.1h.01M180.5 141.0h.01M178.3 118.5h.01M178.3 179.1h.01M171.8 192.1h.01M165.3 117.2h.01M169.7 78.0h.01M169.7 183.0h.01M165.3 172.6h.01M180.5 200.4h.01"/>
<path stroke="#0000ff" d="M455.4 390.8h.01M461.9 381.2h.01M440.3 387.4h.01M438.1 391.0h.01M529.0 378.0h.01M386.2 389.9h.01"/>
<path stroke="#900000" d="M174.0 192.5h.01M180.5 223.9h.01"/>
<path stroke="#fff000" d="M241.1 368.8h.01M236.8 367.4h.01M297.4 363.1h.01M258.4 358.2h.01"/>
<path stroke="#f80000" d="M234.6 312.9h.01"/>
<path stroke="#a80000" d="M163.2 241.7h.01"/>
<path stroke="#ff2000" d="M213.0 285.3h.01"/>
<path stroke="#b80000" d="M184.8 248.9h.01M191.3 250.7h.01"/>
<path stroke="#0050ff" d="M355.8 389.6h.01M351.5 382.4h.01M438.1 384.0h.01M364.5 382.5h.01M401.3 379.5h.01"/>
<path stroke="#ff5800" d="M210.8 334.6h.01"/>
<path stroke="#ff8000" d="M206.5 312.9h.01"/>
<path stroke="#00008f" d="M767.2 369.8h.01M775.9 384.1h.01M646.0 390.2h.01M762.9 387.7h.01M778.0 368.3h.01M700.1 395.4h.01M804.0 364.3h.01M728.2 386.9h.01M594.0 392.0h.01M780.2 379.6h.01M663.3 395.4h.01M754.2 369.6h.01M684.9 395.2h.01M615.6 385.7h.01M542.0 395.1h.01M583.2 395.5h.01M505.2 364.8h.01M788.8 368.4h.01M804.0 365.8h.01M788.8 367.0h.01M741.2 388.0h.01M791.0 378.7h.01M697.9 377.3h.01M678.4 376.3h.01M730.4 373.9h.01M739.0 371.2h.01M615.6 393.3h.01M617.8 397.1h.01M635.1 394.0h.01M786.7 374.8h.01M754.2 385.8h.01M585.3 396.9h.01M680.6 396.7h.01M667.6 391.1h.01M743.4 383.9h.01M710.9 390.9h.01M715.2 356.5h.01M652.5 397.1h.01"/>
<path stroke="#00ffff" d="M295.2 380.4h.01M338.5 384.9h.01"/>
<path stroke="#ff4000" d="M223.8 256.8h.01"/>
<path stroke="#00f800" d="M295.2 380.4h.01"/>
<path stroke="#b80000" d="M195.6 252.8h.01"/>
<path stroke="#00008f" d="M801.8 376.7h.01M749.9 377.7h.01M704.4 366.5h.01M814.8 374.7h.01M832.1 370.4h.01M834.3 372.5h.01M793.2 379.4h.01M823.5 368.8h.01M600.5 396.2h.01M656.8 376.3h.01M780.2 382.6h.01M765.0 394.0h.01M780.2 365.2h.01M671.9 367.1h.01M576.7 379.1h.01M799.7 382.8h.01M793.2 387.8h.01M745.5 381.1h.01M570.2 389.5h.01M747.7 389.2h.01M847.3 388.2h.01M706.6 383.5h.01M752.0 393.2h.01M663.3 392.7h.01M555.0 389.5h.01M708.7 396.9h.01M853.8 385.8h.01M817.0 380.7h.01M546.4 394.6h.01M650.3 367.5h.01M784.5 368.7h.01M702.2 367.5h.01M702.2 382.1h.01M654.6 379.0h.01M743.4 397.5h.01M762.9 378.8h.01M658.9 393.6h.01"/>
<path stroke="#e00000" d="M180.5 292.8h.01"/>
<path stroke="#a80000" d="M171.8 237.9h.01"/>
<path stroke="#000000" d="M176.2 130.3h.01M176.2 83.5h.01M174.0 174.5h.01M176.2 82.9h.01M178.3 78.7h.01M208.6 171.7h.01M169.7 169.1h.01M174.0 181.5h.01M208.6 167.3h.01M167.5 88.9h.01M165.3 148.5h.01M180.5 103.1h.01"/>
<path stroke="#00a0ff" d="M314.7 381.8h.01M301.7 378.0h.01M293.1 381.6h.01M334.2 381.3h.01M297.4 363.7h.01"/>
<path stroke="#ffff00" d="M256.3 372.0h.01"/>
<path stroke="#00ffff" d="M297.4 383.5h.01M316.9 379.0h.01"/>
<path stroke="#c00000" d="M228.1 153.0h.01M191.3 247.8h.01M182.6 255.1h.01"/>
<path stroke="#f80000" d="M169.7 310.1h.01"/>
<path stroke="#ff5800" d="M236.8 347.1h.01"/>
<path stroke="#ff5000" d="M234.6 337.7h.01"/>
<path stroke="#ffe800" d="M230.3 362.5h.01"/>
<path stroke="#0000c8" d="M542.0 392.8h.01M474.9 390.9h.01M505.2 393.4h.01M453.3 389.4h.01"/>
<path stroke="#ff4000" d="M178.3 326.4h.01"/>
<path stroke="#ff8000" d="M230.3 346.9h.01"/>
<path stroke="#fff800" d="M234.6 372.3h.01"/>
<path stroke="#ff8800" d="M197.8 348.0h.01"/>
<path stroke="#0050ff" d="M381.8 390.9h.01"/>
<path stroke="#ffd800" d="M251.9 364.7h.01"/>
<path stroke="#ff0800" d="M178.3 319.2h.01"/>
<path stroke="#ffc800" d="M225.9 342.8h.01M282.2 345.3h.01M234.6 339.6h.01"/>
<path stroke="#0000ff" d="M407.8 391.1h.01M401.3 388.7h.01M455.4 382.7h.01M442.4 390.8h.01M438.1 378.1h.01"/>
<path stroke="#ffe000" d="M250.8 248.4h.01"/>
<path stroke="#d00000" d="M180.5 281.1h.01M180.5 274.6h.01"/>
<path stroke="#8f0000" d="M174.0 203.6h.01M176.2 219.3h.01"/>
<path stroke="#fff000" d="M269.2 366.0h.01"/>
<path stroke="#00008f" d="M704.4 390.1h.01M706.6 397.4h.01M620.0 396.8h.01M602.7 395.6h.01M866.8 383.1h.01M780.2 384.8h.01M676.3 381.4h.01M767.2 367.3h.01M838.6 374.7h.01M752.0 379.7h.01M851.6 392.1h.01M793.2 388.3h.01M663.3 372.8h.01M671.9 384.7h.01M780.2 370.4h.01M548.5 395.0h.01M801.8 376.1h.01M791.0 372.0h.01M817.0 397.5h.01M700.1 380.8h.01M786.7 377.7h.01M806.2 376.1h.01M570.2 383.0h.01M628.6 387.9h.01M864.6 387.6h.01M693.6 379.9h.01M758.5 386.4h.01M513.9 393.8h.01M565.9 392.8h.01M804.0 395.8h.01M620.0 394.1h.01M773.7 370.4h.01M639.5 391.7h.01M667.6 392.5h.01M585.3 395.3h.01M754.2 385.9h.01"/>
<path stroke="#00ffff" d="M329.9 375.3h.01M275.7 381.2h.01M306.1 369.5h.01M308.2 372.3h.01"/>
<path stroke="#0000ff" d="M399.1 386.9h.01"/>
<path stroke="#ffd800" d="M249.8 343.8h.01M232.4 359.8h.01"/>
<path stroke="#ff0000" d="M174.0 249.2h.01"/>
<path stroke="#a00000" d="M176.2 221.8h.01M189.1 238.1h.01"/>
<path stroke="#ff9000" d="M200.0 350.9h.01"/>
<path stroke="#ff2000" d="M189.1 315.2h.01"/>
<path stroke="#0000c8" d="M479.2 384.4h.01M485.7 392.7h.01M535.5 388.2h.01M529.0 382.9h.01M513.9 385.0h.01M559.4 391.8h.01"/>
<path stroke="#ffe800" d="M228.1 370.4h.01"/>
<path stroke="#00a0ff" d="M332.0 385.4h.01M312.5 385.6h.01"/>
<path stroke="#0050ff" d="M423.0 385.0h.01M381.8 389.1h.01"/>
<path stroke="#ffd000" d="M238.9 350.2h.01M241.1 358.1h.01"/>
<path stroke="#ff3000" d="M213.0 308.6h.01"/>
<path stroke="#ffc000" d="M249.8 353.9h.01"/>
<path stroke="#000000" d="M165.3 177.9h.01M167.5 168.3h.01M200.0 205.9h.01M178.3 209.6h.01M174.0 88.7h.01M176.2 89.2h.01M200.0 195.6h.01M167.5 134.6h.01M165.3 80.1h.01M182.6 198.6h.01M221.6 156.3h.01M165.3 77.0h.01"/>
<path stroke="#e00000" d="M169.7 290.9h.01M191.3 283.5h.01"/>
<path stroke="#ffb800" d="M241.1 331.7h.01"/>
<path stroke="#b00000" d="M171.8 247.3h.01"/>
<path stroke="#d80000" d="M182.6 276.8h.01"/>
<path stroke="#d00000" d="M174.0 214.7h.01"/>
<path stroke="#00f800" d="M264.9 378.1h.01M306.1 368.2h.01M283.8 296.4h.01"/>
<path stroke="#a80000" d="M169.7 243.2h.01M178.3 240.5h.01M176.2 241.0h.01"/>
<path stroke="#ff7800" d="M210.8 330.4h.01"/>
<path stroke="#f00000" d="M191.3 261.4h.01M174.0 303.2h.01"/>
<path stroke="#fff000" d="M251.9 367.8h.01"/>
<path stroke="#a00000" d="M169.7 231.9h.01"/>
<path stroke="#ffd000" d="M225.9 363.4h.01"/>
<path stroke="#8f0000" d="M191.3 220.1h.01"/>
<path stroke="#ff2000" d="M176.2 326.1h.01"/>
<path stroke="#ffa000" d="M225.9 351.9h.01"/>
<path stroke="#ff1000" d="M184.8 322.6h.01"/>
<path stroke="#000000" d="M187.0 182.1h.01M171.8 170.8h.01M182.6 181.7h.01M167.5 136.7h.01M163.2 184.1h.01M163.2 157.7h.01M238.9 225.6h.01M169.7 95.2h.01M174.0 128.5h.01M176.2 133.3h.01M169.7 74.6h.01M174.0 161.4h.01"/>
<path stroke="#d00000" d="M174.0 246.3h.01"/>
<path stroke="#f00000" d="M187.0 282.2h.01"/>
<path stroke="#f80000" d="M213.0 300.2h.01"/>
<path stroke="#ff8800" d="M241.1 352.4h.01"/>
<path stroke="#00a0ff" d="M329.9 387.2h.01M345.0 386.2h.01M319.0 385.2h.01M308.2 383.7h.01"/>
<path stroke="#00f800" d="M249.8 372.9h.01M306.1 372.0h.01"/>
<path stroke="#e00000" d="M165.3 286.3h.01M195.6 289.1h.01M204.3 284.6h.01"/>
<path stroke="#0000ff" d="M435.9 387.7h.01M392.6 391.3h.01M405.6 377.7h.01M429.5 368.6h.01M386.2 378.2h.01M384.0 391.2h.01"/>
<path stroke="#00ffff" d="M280.1 380.7h.01M286.6 370.0h.01M290.9 382.4h.01"/>
<path stroke="#ff7800" d="M236.8 328.5h.01"/>
<path stroke="#ff6000" d="M221.6 321.9h.01"/>
<path stroke="#0050ff" d="M358.0 385.9h.01M368.8 388.7h.01"/>
<path stroke="#ff8f00" d="M191.3 305.5h.01"/>
<path stroke="#fff800" d="M241.1 374.4h.01"/>
<path stroke="#ff1800" d="M184.8 323.6h.01"/>
<path stroke="#00008f" d="M804.0 382.6h.01M706.6 376.1h.01M537.7 394.8h.01M552.9 391.1h.01M758.5 366.4h.01M702.2 378.1h.01M838.6 374.2h.01M806.2 393.7h.01M810.5 365.1h.01M810.5 377.6h.01M713.1 368.2h.01M773.7 365.8h.01M791.0 373.8h.01M743.4 367.5h.01M782.4 396.1h.01M613.5 394.4h.01M594.0 389.8h.01M795.3 390.8h.01M691.4 391.9h.01M849.5 385.5h.01M537.7 391.1h.01M658.5 312.5h.01M756.4 392.0h.01M739.0 368.7h.01M778.0 366.6h.01M726.1 382.3h.01M498.7 390.3h.01M775.9 377.9h.01M736.9 395.4h.01M732.1 351.4h.01M780.2 357.2h.01M639.5 387.6h.01M537.7 390.9h.01"/>
<path stroke="#b00000" d="M167.5 249.8h.01"/>
<path stroke="#0000c8" d="M485.7 387.4h.01M483.6 391.7h.01M453.3 390.6h.01"/>
<path stroke="#e80000" d="M180.5 295.8h.01M176.2 298.0h.01"/>
<path stroke="#ff6800" d="M202.1 342.3h.01"/>
<path stroke="#b80000" d="M167.5 254.4h.01"/>
<path stroke="#ff4000" d="M210.8 338.0h.01"/>
<path stroke="#d80000" d="M221.6 286.0h.01"/>
<path stroke="#c00000" d="M167.5 258.7h.01"/>
<path stroke="#000000" d="M165.3 83.1h.01M174.0 157.6h.01M169.7 158.7h.01M197.8 154.4h.01M171.8 159.7h.01M171.8 93.0h.01M178.3 79.5h.01M178.3 156.1h.01M167.5 126.4h.01"/>
<path stroke="#0050ff" d="M353.7 385.5h.01M414.3 380.1h.01M362.3 386.5h.01M373.2 387.3h.01M345.0 388.8h.01"/>
<path stroke="#ffff00" d="M260.6 376.3h.01"/>
<path stroke="#f00000" d="M174.0 308.6h.01"/>
<path stroke="#b00000" d="M169.7 249.8h.01"/>
<path stroke="#f80000" d="M200.0 287.2h.01M241.1 318.4h.01"/>
<path stroke="#ffc000" d="M258.4 351.7h.01"/>
<path stroke="#980000" d="M176.2 222.6h.01"/>
<path stroke="#ffb000" d="M206.5 355.9h.01"/>
<path stroke="#ff6800" d="M182.6 317.7h.01"/>
<path stroke="#e80000" d="M180.5 300.5h.01M174.0 292.6h.01M213.0 282.8h.01"/>
<path stroke="#ffd000" d="M232.4 365.5h.01"/>
<path stroke="#d80000" d="M195.6 146.9h.01"/>
<path stroke="#ff2000" d="M225.9 320.1h.01"/>
<path stroke="#0000c8" d="M516.1 394.1h.01M403.5 391.6h.01M494.4 389.1h.01M427.3 389.4h.01M433.8 388.9h.01"/>
<path stroke="#fff000" d="M241.1 368.9h.01M269.2 321.9h.01"/>
<path stroke="#0000ff" d="M420.8 377.1h.01M405.6 390.6h.01M433.8 369.6h.01M438.1 391.5h.01M399.1 379.8h.01"/>
<path stroke="#ffe000" d="M264.9 365.2h.01M247.6 364.6h.01"/>
<path stroke="#00a0ff" d="M433.8 362.8h.01"/>
<path stroke="#ff0800" d="M191.3 321.4h.01"/>
<path stroke="#900000" d="M189.1 212.3h.01"/>
<path stroke="#00f800" d="M279.4 281.8h.01M251.9 366.5h.01M284.4 373.3h.01M277.9 364.2h.01M271.4 377.2h.01M297.4 381.6h.01"/>
<path stroke="#00ffff" d="M262.8 379.1h.01M338.5 376.8h.01"/>
<path stroke="#00008f" d="M691.4 385.8h.01M730.4 390.8h.01M546.4 395.3h.01M704.4 366.1h.01M747.7 368.9h.01M682.8 394.0h.01M719.6 395.8h.01M743.4 370.3h.01M784.5 373.6h.01M827.8 372.8h.01M723.9 367.3h.01M706.6 390.3h.01M715.2 390.0h.01M765.0 369.0h.01M656.8 389.4h.01M741.2 381.9h.01M810.5 364.6h.01M747.7 374.1h.01M591.8 389.1h.01M730.4 370.4h.01M743.2 353.6h.01M708.7 365.7h.01M769.4 379.9h.01M747.7 367.0h.01M743.4 391.3h.01M778.0 380.7h.01M780.2 397.2h.01"/>
<path stroke="#ffc800" d="M238.9 347.4h.01"/>
<path stroke="#a80000" d="M184.8 128.4h.01M167.5 242.2h.01"/>
<path stroke="#ffe800" d="M271.4 363.8h.01"/>
<path stroke="#a00000" d="M167.5 235.0h.01"/>
<path stroke="#b80000" d="M176.2 249.4h.01"/>
<path stroke="#e00000" d="M245.0 160.0h.01"/>
<path stroke="#ff0000" d="M174.0 319.6h.01M206.5 268.7h.01"/>
<path stroke="#00f800" d="M277.9 379.3h.01M280.1 366.9h.01M269.2 367.4h.01"/>
<path stroke="#00008f" d="M626.5 393.1h.01M732.6 377.7h.01M552.9 391.7h.01M585.3 381.2h.01M799.7 390.2h.01M758.5 394.5h.01M600.5 374.9h.01M782.4 388.3h.01M723.9 392.1h.01M613.5 392.0h.01M765.0 369.8h.01M585.3 391.4h.01M806.2 384.8h.01M697.9 382.5h.01M866.8 390.0h.01M531.2 393.3h.01M834.3 389.9h.01M773.7 357.6h.01M823.5 388.9h.01M743.4 376.5h.01M715.2 362.9h.01M793.2 396.2h.01M697.9 369.8h.01M775.9 385.1h.01M726.1 367.7h.01M728.2 390.1h.01M550.7 395.6h.01M808.3 390.9h.01M728.2 392.2h.01M516.1 394.9h.01M728.2 387.8h.01M611.3 395.0h.01M704.4 367.6h.01"/>
<path stroke="#0050ff" d="M366.7 384.1h.01M384.0 383.8h.01M351.5 388.1h.01"/>
<path stroke="#ff1800" d="M202.1 193.1h.01"/>
<path stroke="#e00000" d="M169.7 288.4h.01"/>
<path stroke="#ffe800" d="M245.4 371.7h.01"/>
<path stroke="#b80000" d="M174.0 256.4h.01"/>
<path stroke="#00a0ff" d="M301.7 380.1h.01M338.5 388.1h.01M312.5 384.2h.01"/>
<path stroke="#980000" d="M219.4 99.3h.01"/>
<path stroke="#000000" d="M176.2 122.3h.01M167.5 189.4h.01M167.5 105.3h.01"/>
<path stroke="#ffc000" d="M221.6 349.7h.01"/>
<path stroke="#c80000" d="M197.8 255.6h.01M213.0 279.3h.01"/>
<path stroke="#b00000" d="M174.0 171.7h.01M206.5 248.2h.01M165.3 245.5h.01"/>
<path stroke="#d00000" d="M180.5 271.4h.01"/>
<path stroke="#ffa800" d="M223.8 345.2h.01M234.6 337.3h.01M202.1 355.8h.01"/>
<path stroke="#d80000" d="M200.0 122.5h.01"/>
<path stroke="#ff4800" d="M238.9 330.6h.01"/>
<path stroke="#900000" d="M176.2 219.1h.01"/>
<path stroke="#ff3800" d="M215.1 219.1h.01"/>
<path stroke="#ffd000" d="M232.4 359.5h.01"/>
<path stroke="#ffa000" d="M215.1 352.1h.01"/>
<path stroke="#ffb000" d="M238.9 358.7h.01"/>
<path stroke="#0000ff" d="M435.9 384.7h.01M386.2 388.8h.01M386.2 390.9h.01M397.0 385.8h.01"/>
<path stroke="#c00000" d="M187.0 261.8h.01"/>
<path stroke="#a00000" d="M217.3 231.9h.01"/>
<path stroke="#a80000" d="M178.3 241.8h.01"/>
<path stroke="#00ffff" d="M297.4 380.3h.01M277.9 380.9h.01M297.4 376.3h.01M310.4 378.5h.01M306.1 376.9h.01"/>
<path stroke="#ffb800" d="M232.4 352.1h.01M213.0 352.0h.01M228.1 349.5h.01"/>
<path stroke="#0000c8" d="M516.1 389.2h.01M455.4 394.2h.01M414.3 386.8h.01M477.1 389.3h.01M505.2 390.2h.01M440.3 386.0h.01M496.6 391.7h.01M555.0 396.1h.01M481.4 391.3h.01"/>
<path stroke="#ff2800" d="M208.6 255.7h.01"/>
<path stroke="#0000c8" d="M544.2 391.0h.01M438.1 391.4h.01M455.4 391.8h.01M535.5 366.2h.01M485.7 391.7h.01M431.6 382.0h.01M464.1 391.4h.01"/>
<path stroke="#00ffff" d="M321.2 384.3h.01"/>
<path stroke="#ff8000" d="M202.1 347.1h.01"/>
<path stroke="#0050ff" d="M371.0 388.3h.01M327.7 387.4h.01M353.7 388.2h.01M345.0 368.7h.01M412.1 379.1h.01"/>
<path stroke="#ffe000" d="M217.3 361.4h.01M230.3 359.9h.01"/>
<path stroke="#0000ff" d="M531.2 362.3h.01M431.6 366.6h.01M435.9 383.0h.01M492.2 391.6h.01M425.1 380.2h.01"/>
<path stroke="#00f800" d="M258.4 374.8h.01M295.2 371.5h.01M310.4 375.1h.01M282.2 328.0h.01M271.4 354.5h.01"/>
<path stroke="#d80000" d="M169.7 282.8h.01"/>
<path stroke="#ffb000" d="M208.6 348.5h.01"/>
<path stroke="#fff000" d="M241.1 361.5h.01M256.3 354.5h.01"/>
<path stroke="#c80000" d="M163.2 269.7h.01"/>
<path stroke="#ff9000" d="M200.0 350.6h.01"/>
<path stroke="#ffe800" d="M236.8 372.0h.01"/>
<path stroke="#00a0ff" d="M319.0 384.7h.01M301.7 384.4h.01M384.0 381.5h.01M332.0 381.7h.01M301.7 383.7h.01M358.0 377.9h.01"/>
<path stroke="#ff0800" d="M204.3 315.9h.01"/>
<path stroke="#ff7000" d="M221.6 295.9h.01"/>
<path stroke="#f00000" d="M215.1 315.6h.01"/>
<path stroke="#000000" d="M167.5 180.3h.01M171.8 108.7h.01M187.0 193.8h.01M167.5 181.3h.01M169.7 128.8h.01M202.1 156.4h.01"/>
<path stroke="#00008f" d="M578.8 395.7h.01M505.2 383.5h.01M695.8 379.8h.01M706.6 394.4h.01M602.7 385.3h.01M743.4 367.9h.01M604.8 390.8h.01M745.5 372.4h.01M732.6 386.5h.01M780.2 396.6h.01M747.7 370.4h.01M747.7 397.2h.01M713.1 370.4h.01M799.7 362.9h.01M529.0 395.2h.01M836.5 387.7h.01M715.2 374.0h.01M808.3 365.2h.01M635.1 377.8h.01M702.2 370.4h.01M730.4 372.2h.01M726.1 370.3h.01M812.7 366.2h.01M607.0 379.6h.01M578.8 386.8h.01M836.5 380.7h.01M518.2 394.1h.01M749.9 378.7h.01M791.0 391.5h.01M557.2 395.7h.01M609.2 378.3h.01M602.7 396.0h.01M732.6 382.7h.01M611.3 396.1h.01M708.7 366.9h.01M544.2 396.3h.01"/>
<path stroke="#ffd000" d="M236.8 343.4h.01"/>
<path stroke="#a80000" d="M167.5 235.6h.01M171.8 240.0h.01"/>
<path stroke="#e00000" d="M167.5 290.9h.01M165.3 288.9h.01"/>
<path stroke="#900000" d="M163.2 216.5h.01"/>
<path stroke="#00008f" d="M808.3 392.7h.01M812.7 365.9h.01M565.9 390.0h.01M637.3 384.9h.01M754.2 380.7h.01M743.4 365.7h.01M773.7 369.0h.01M732.6 366.7h.01M765.0 393.5h.01M775.9 368.5h.01M799.7 386.0h.01M522.5 393.6h.01M719.6 359.4h.01M713.1 394.8h.01M726.1 363.6h.01M775.9 392.0h.01M747.7 381.1h.01M728.2 368.6h.01M743.4 388.5h.01M780.2 389.5h.01M680.6 396.3h.01M832.1 390.4h.01M810.5 364.7h.01M758.5 396.1h.01M732.6 388.1h.01M630.8 389.7h.01M795.3 378.2h.01M697.9 371.6h.01M682.8 392.2h.01M728.2 364.7h.01M741.2 383.5h.01M565.9 394.6h.01M715.2 378.5h.01M615.6 390.8h.01M719.6 392.7h.01M791.0 358.5h.01M639.5 390.5h.01"/>
<path stroke="#f00000" d="M193.5 282.3h.01M187.0 308.1h.01"/>
<path stroke="#e00000" d="M202.1 128.0h.01"/>
<path stroke="#c00000" d="M174.0 259.7h.01M174.0 263.4h.01M174.0 262.9h.01"/>
<path stroke="#ff4000" d="M232.4 313.6h.01"/>
<path stroke="#ffc000" d="M210.8 362.5h.01"/>
<path stroke="#0000ff" d="M440.3 391.9h.01"/>
<path stroke="#ff0000" d="M178.3 163.9h.01"/>
<path stroke="#b00000" d="M213.0 244.5h.01"/>
<path stroke="#00a0ff" d="M340.7 384.8h.01M345.0 386.7h.01M306.1 378.7h.01M385.3 309.2h.01"/>
<path stroke="#0050ff" d="M394.8 374.4h.01"/>
<path stroke="#fff000" d="M236.8 365.7h.01"/>
<path stroke="#ffd000" d="M221.6 365.6h.01M215.1 351.1h.01"/>
<path stroke="#ff4800" d="M236.8 277.8h.01"/>
<path stroke="#00ffff" d="M301.7 381.9h.01M288.7 381.4h.01"/>
<path stroke="#ff8000" d="M200.0 331.1h.01M210.8 297.6h.01"/>
<path stroke="#900000" d="M165.3 220.0h.01"/>
<path stroke="#00f800" d="M293.1 378.5h.01"/>
<path stroke="#ff9000" d="M195.6 346.6h.01"/>
<path stroke="#ff3000" d="M210.8 293.3h.01M193.5 329.8h.01"/>
<path stroke="#b80000" d="M174.0 250.3h.01M178.3 245.4h.01"/>
<path stroke="#d80000" d="M197.8 283.9h.01"/>
<path stroke="#000000" d="M169.7 82.4h.01M163.2 206.6h.01M163.2 186.8h.01M178.3 83.0h.01M163.2 83.5h.01M167.5 87.7h.01M180.5 195.4h.01M193.5 173.5h.01M180.5 142.3h.01"/>
<path stroke="#ff7000" d="M182.6 343.5h.01"/>
<path stroke="#a00000" d="M234.6 218.1h.01M163.2 235.0h.01M180.5 231.1h.01"/>
<path stroke="#0000c8" d="M505.2 393.0h.01M461.9 383.6h.01M468.4 390.9h.01M483.6 392.1h.01M526.9 394.4h.01M535.5 393.6h.01M565.9 381.1h.01M470.6 365.8h.01"/>
<path stroke="#ff1800" d="M193.5 286.0h.01"/>
<path stroke="#00ffff" d="M403.5 358.7h.01M338.5 375.6h.01"/>
<path stroke="#c00000" d="M174.0 258.0h.01M174.0 256.0h.01M178.3 247.5h.01"/>
<path stroke="#000000" d="M163.2 194.6h.01M165.3 163.0h.01M169.7 105.8h.01M187.0 139.7h.01M165.3 155.2h.01M171.8 106.9h.01M180.5 157.7h.01"/>
<path stroke="#0050ff" d="M351.5 388.8h.01M366.7 389.9h.01M347.2 388.5h.01"/>
<path stroke="#e00000" d="M169.7 291.1h.01M171.8 199.0h.01"/>
<path stroke="#0000ff" d="M446.8 388.4h.01M429.5 381.5h.01M381.8 390.6h.01M392.6 386.7h.01M388.3 386.4h.01M444.6 386.3h.01M401.3 390.8h.01M448.9 391.3h.01"/>
<path stroke="#a80000" d="M193.5 243.8h.01"/>
<path stroke="#00a0ff" d="M316.9 377.6h.01M347.2 374.1h.01M312.5 385.5h.01M299.6 379.8h.01M301.7 376.9h.01M334.2 381.3h.01M321.2 384.6h.01"/>
<path stroke="#ffc000" d="M230.3 342.6h.01"/>
<path stroke="#ffd000" d="M243.3 356.8h.01"/>
<path stroke="#0000c8" d="M487.9 391.6h.01M483.6 393.1h.01M516.1 395.0h.01M522.5 387.5h.01M520.4 392.0h.01M509.6 393.0h.01M524.7 391.1h.01M552.9 378.4h.01M472.8 393.3h.01"/>
<path stroke="#ff8800" d="M236.8 348.4h.01"/>
<path stroke="#00f800" d="M251.9 376.2h.01"/>
<path stroke="#ff8000" d="M215.1 346.7h.01"/>
<path stroke="#f80000" d="M236.8 306.7h.01"/>
<path stroke="#f00000" d="M213.0 307.7h.01"/>
<path stroke="#d00000" d="M169.7 250.7h.01"/>
<path stroke="#b00000" d="M189.1 246.2h.01M174.0 250.1h.01"/>
<path stroke="#fff000" d="M286.6 364.0h.01"/>
<path stroke="#ff1800" d="M225.9 324.9h.01"/>
<path stroke="#00008f" d="M684.9 389.7h.01M730.4 389.5h.01M795.3 382.3h.01M620.0 396.6h.01M539.9 388.6h.01M691.4 396.9h.01M581.0 393.8h.01M624.3 394.6h.01M830.0 387.5h.01M756.4 379.4h.01M760.7 388.9h.01M745.5 379.7h.01M797.5 366.6h.01M704.4 366.5h.01M624.3 388.5h.01M546.4 387.6h.01M522.5 395.8h.01M836.5 377.4h.01M702.2 387.9h.01M732.6 386.7h.01M539.9 387.7h.01M589.7 392.7h.01M628.6 390.6h.01M821.3 370.5h.01M784.5 391.1h.01M585.3 389.6h.01M739.0 361.8h.01M739.0 379.2h.01"/>
<path stroke="#a00000" d="M189.1 232.9h.01M178.3 232.1h.01"/>
<path stroke="#d80000" d="M189.1 287.2h.01M167.5 286.4h.01"/>
<path stroke="#ff6000" d="M189.1 309.9h.01"/>
<path stroke="#900000" d="M182.6 223.6h.01"/>
<path stroke="#980000" d="M169.7 215.0h.01M200.0 137.9h.01"/>
<path stroke="#fff800" d="M249.8 366.0h.01"/>
<path stroke="#ffe800" d="M243.3 355.1h.01"/>
<path stroke="#ff6000" d="M182.6 340.0h.01"/>
<path stroke="#ff7000" d="M228.1 333.4h.01"/>
<path stroke="#b00000" d="M163.2 248.2h.01"/>
<path stroke="#00a0ff" d="M334.2 387.4h.01M345.0 384.8h.01M351.5 386.5h.01M303.9 384.1h.01M332.0 386.5h.01"/>
<path stroke="#f00000" d="M204.3 309.5h.01M208.6 260.3h.01"/>
<path stroke="#0000c8" d="M498.7 390.0h.01M433.8 384.6h.01M509.6 391.5h.01M522.5 384.9h.01M500.9 388.0h.01M485.7 390.4h.01"/>
<path stroke="#d00000" d="M169.7 274.0h.01M182.6 270.3h.01"/>
<path stroke="#ffb800" d="M251.9 342.4h.01"/>
<path stroke="#ff1800" d="M184.8 312.6h.01"/>
<path stroke="#ff8000" d="M200.0 346.9h.01"/>
<path stroke="#ffd000" d="M208.6 362.5h.01M215.1 365.3h.01"/>
<path stroke="#e00000" d="M195.6 260.3h.01M206.5 290.5h.01M204.3 293.8h.01"/>
<path stroke="#a00000" d="M182.6 201.7h.01"/>
<path stroke="#00f800" d="M299.6 364.5h.01M288.7 377.8h.01M251.9 376.7h.01M306.1 375.2h.01M277.9 375.1h.01"/>
<path stroke="#ffa000" d="M238.9 353.8h.01"/>
<path stroke="#980000" d="M197.8 211.8h.01"/>
<path stroke="#0000ff" d="M479.2 391.0h.01M375.3 382.2h.01M397.0 386.9h.01"/>
<path stroke="#d80000" d="M171.8 280.1h.01"/>
<path stroke="#ff5000" d="M219.4 337.4h.01"/>
<path stroke="#a80000" d="M163.2 231.2h.01M197.8 243.5h.01M206.5 241.4h.01"/>
<path stroke="#ff3000" d="M174.0 329.0h.01"/>
<path stroke="#00008f" d="M669.8 389.0h.01M736.9 380.7h.01M732.6 381.9h.01M743.4 360.0h.01M721.7 383.5h.01M758.5 366.4h.01M648.1 385.8h.01M607.0 390.1h.01M663.3 395.6h.01M663.3 368.4h.01M628.6 395.9h.01M691.4 369.3h.01M836.5 372.8h.01M658.9 385.4h.01M665.4 388.7h.01M542.0 389.4h.01M723.9 374.1h.01M717.4 386.1h.01M704.4 393.5h.01M743.4 383.7h.01M639.5 390.1h.01M721.7 369.8h.01M788.8 379.7h.01M797.5 367.5h.01M765.0 384.0h.01M821.3 383.9h.01M656.8 396.1h.01M762.9 369.1h.01M658.9 376.2h.01M684.9 395.4h.01M552.9 388.5h.01M624.3 396.2h.01"/>
<path stroke="#0050ff" d="M423.0 380.9h.01"/>
<path stroke="#000000" d="M163.2 153.6h.01M180.5 90.2h.01M202.1 218.7h.01M184.8 139.5h.01M189.1 216.9h.01M171.8 104.2h.01M176.2 165.1h.01M171.8 180.2h.01M167.5 202.2h.01M174.0 127.2h.01M167.5 164.8h.01M178.3 204.8h.01"/>
<path stroke="#ffa800" d="M200.0 355.7h.01M200.0 335.9h.01"/>
<path stroke="#ffa000" d="M247.6 331.5h.01M200.0 328.8h.01"/>
<path stroke="#980000" d="M182.6 124.3h.01"/>
<path stroke="#fff000" d="M238.9 364.1h.01"/>
<path stroke="#00008f" d="M570.2 386.0h.01M786.7 373.8h.01M749.9 388.7h.01M704.4 373.6h.01M682.8 370.0h.01M793.2 367.3h.01M630.8 397.1h.01M656.8 388.7h.01M784.5 370.2h.01M628.6 394.6h.01M745.5 374.1h.01M812.7 391.8h.01M821.3 380.8h.01M758.5 393.8h.01M609.2 382.8h.01M702.2 389.6h.01M808.3 390.2h.01M784.5 368.5h.01M594.0 396.7h.01M677.1 350.1h.01M557.2 381.7h.01M620.0 376.5h.01M795.3 373.7h.01M613.5 386.0h.01M669.8 381.8h.01M769.4 369.9h.01M860.3 383.0h.01M741.2 367.9h.01M550.7 395.2h.01M565.9 389.8h.01M743.4 362.8h.01M730.4 395.1h.01M713.1 392.5h.01M769.4 375.9h.01M637.3 389.1h.01M723.9 381.9h.01"/>
<path stroke="#00f800" d="M284.4 380.1h.01"/>
<path stroke="#ffe800" d="M230.3 370.6h.01M243.3 360.9h.01"/>
<path stroke="#ffd800" d="M245.4 344.0h.01"/>
<path stroke="#b80000" d="M163.2 254.3h.01"/>
<path stroke="#0050ff" d="M381.8 391.1h.01M351.5 384.7h.01M416.5 382.3h.01M360.2 388.6h.01M435.9 383.6h.01"/>
<path stroke="#a00000" d="M219.4 241.5h.01"/>
<path stroke="#b00000" d="M191.3 250.4h.01"/>
<path stroke="#ffa800" d="M228.1 351.0h.01M197.8 352.6h.01"/>
<path stroke="#ff9000" d="M238.9 343.2h.01"/>
<path stroke="#ffc000" d="M223.8 363.0h.01M210.8 363.4h.01"/>
<path stroke="#ff8800" d="M208.6 302.1h.01"/>
<path stroke="#e80000" d="M200.0 291.8h.01"/>
<path stroke="#00ffff" d="M332.0 357.0h.01M293.1 377.0h.01"/>
<path stroke="#0000c8" d="M448.9 392.8h.01M477.1 388.9h.01M461.9 391.9h.01M464.1 389.7h.01"/>
<path stroke="#c80000" d="M178.3 269.5h.01"/>
<path stroke="#a80000" d="M182.6 225.5h.01"/>
<path stroke="#ffd000" d="M232.4 362.3h.01"/>
<path stroke="#f80000" d="M232.4 309.8h.01"/>
<path stroke="#c00000" d="M180.5 256.5h.01M169.7 258.1h.01"/>
<path stroke="#d80000" d="M178.3 285.8h.01M197.8 280.8h.01M202.1 283.4h.01"/>
<path stroke="#ff3800" d="M215.1 328.1h.01"/>
<path stroke="#ff4000" d="M210.8 318.6h.01"/>
<path stroke="#00a0ff" d="M358.0 369.7h.01M319.0 381.7h.01M308.2 378.7h.01M327.7 374.5h.01M301.7 384.1h.01M319.0 380.9h.01"/>
<path stroke="#f00000" d="M204.3 301.6h.01"/>
<path stroke="#0000ff" d="M390.5 390.4h.01M416.5 392.1h.01M394.8 388.0h.01"/>
<path stroke="#000000" d="M165.3 196.9h.01M167.5 138.4h.01M182.6 194.6h.01M165.3 155.9h.01M182.6 178.9h.01"/>
<path stroke="#00ffff" d="M282.2 378.9h.01"/>
<path stroke="#ffb000" d="M204.3 357.5h.01"/>
<path stroke="#ff8f00" d="M217.3 334.0h.01"/>
<path stroke="#ffc800" d="M223.8 362.9h.01"/>
<path stroke="#d00000" d="M167.5 273.9h.01M191.3 247.0h.01"/>
<path stroke="#00a0ff" d="M310.4 385.5h.01M327.7 385.9h.01"/>
<path stroke="#fff000" d="M232.4 366.3h.01M243.0 281.8h.01M251.9 372.6h.01"/>
<path stroke="#ffe000" d="M260.6 350.4h.01"/>
<path stroke="#0050ff" d="M399.1 383.0h.01M448.9 377.0h.01M321.2 386.1h.01M375.3 390.5h.01M360.2 385.6h.01"/>
<path stroke="#00f800" d="M293.1 373.1h.01"/>
<path stroke="#ff0000" d="M180.5 316.1h.01M180.5 318.6h.01"/>
<path stroke="#ffd000" d="M215.1 354.2h.01"/>
<path stroke="#b00000" d="M182.6 245.9h.01"/>
<path stroke="#ff7000" d="M225.9 306.6h.01"/>
<path stroke="#0000c8" d="M490.1 389.4h.01M474.9 394.7h.01"/>
<path stroke="#f00000" d="M200.0 300.6h.01M171.8 302.4h.01"/>
<path stroke="#00008f" d="M713.1 368.8h.01M728.2 370.6h.01M788.8 385.2h.01M758.5 392.5h.01M804.0 377.1h.01M747.7 372.5h.01M752.0 366.0h.01M555.0 380.2h.01M788.8 386.9h.01M752.0 393.9h.01M652.5 395.0h.01M799.7 370.0h.01M723.9 388.6h.01M845.1 384.3h.01M830.0 388.1h.01M539.9 393.9h.01M708.7 369.0h.01M700.1 382.9h.01M546.4 395.0h.01M780.2 391.3h.01M626.5 391.5h.01M791.0 376.9h.01M771.5 383.1h.01M710.9 369.6h.01M710.9 395.5h.01M710.9 393.7h.01M602.7 385.4h.01M743.4 376.6h.01M715.2 395.9h.01M758.5 392.1h.01M684.9 384.8h.01M559.4 394.0h.01M756.4 389.1h.01M797.5 394.8h.01M856.0 383.1h.01M743.4 393.4h.01M812.7 394.5h.01M713.1 382.0h.01M734.7 377.5h.01M771.5 390.1h.01M615.6 392.4h.01"/>
<path stroke="#0000ff" d="M412.1 385.8h.01M410.0 386.5h.01"/>
<path stroke="#e00000" d="M176.2 268.7h.01"/>
<path stroke="#000000" d="M178.3 126.3h.01M171.8 140.7h.01M187.0 113.8h.01M167.5 81.6h.01M215.1 186.6h.01M165.3 103.9h.01M167.5 186.2h.01M174.0 176.3h.01M187.0 77.3h.01M182.6 87.0h.01M169.7 103.8h.01M171.8 81.4h.01M208.6 177.1h.01"/>
<path stroke="#ff8000" d="M195.6 346.6h.01"/>
<path stroke="#ff6800" d="M191.3 341.1h.01M221.6 341.1h.01"/>
<path stroke="#ff0800" d="M195.6 299.3h.01"/>
<path stroke="#ff9000" d="M200.0 350.1h.01"/>
<path stroke="#b80000" d="M193.5 254.7h.01"/>
<path stroke="#ff6000" d="M202.1 340.0h.01"/>
<path stroke="#0000c8" d="M466.3 394.4h.01M492.2 389.1h.01M503.1 394.1h.01M461.9 393.6h.01M537.7 391.7h.01"/>
<path stroke="#0050ff" d="M358.0 386.9h.01M397.0 386.5h.01M362.3 388.0h.01M401.3 383.8h.01"/>
<path stroke="#ff2000" d="M197.8 326.3h.01"/>
<path stroke="#ff1000" d="M208.6 318.3h.01"/>
<path stroke="#ffb800" d="M223.8 336.8h.01"/>
<path stroke="#d80000" d="M169.7 280.4h.01M208.6 279.7h.01"/>
<path stroke="#ff0000" d="M193.5 272.0h.01"/>
<path stroke="#00ffff" d="M286.6 378.1h.01M329.9 377.5h.01"/>
<path stroke="#ffb000" d="M251.9 343.1h.01"/>
<path stroke="#ff6800" d="M187.0 340.4h.01M184.8 333.5h.01"/>
<path stroke="#0000ff" d="M412.1 382.2h.01M420.8 389.6h.01M418.6 385.7h.01M410.0 387.0h.01M386.2 388.8h.01"/>
<path stroke="#b80000" d="M167.5 245.9h.01"/>
<path stroke="#ffe800" d="M266.4 264.3h.01"/>
<path stroke="#fff000" d="M251.9 373.9h.01"/>
<path stroke="#ffe000" d="M245.4 361.5h.01"/>
<path stroke="#e80000" d="M167.5 294.4h.01M200.0 297.9h.01M178.3 299.3h.01"/>
<path stroke="#000000" d="M169.7 165.3h.01M176.2 76.0h.01M171.8 128.8h.01M165.3 202.9h.01M165.3 166.7h.01M176.2 102.4h.01M163.2 83.0h.01M163.2 138.1h.01M167.5 143.4h.01M193.5 117.2h.01M169.7 148.3h.01M180.5 131.8h.01"/>
<path stroke="#f00000" d="M219.4 304.5h.01M176.2 307.5h.01"/>
<path stroke="#00f800" d="M280.1 378.5h.01M273.6 376.5h.01M277.9 350.3h.01M267.1 371.0h.01M269.2 369.4h.01M258.4 375.0h.01"/>
<path stroke="#00a0ff" d="M314.7 382.6h.01M308.2 378.3h.01M398.9 342.9h.01M293.1 375.4h.01M397.0 379.4h.01"/>
<path stroke="#00008f" d="M693.6 394.7h.01M793.2 367.8h.01M765.0 377.4h.01M739.0 390.1h.01M719.6 370.7h.01M578.8 395.8h.01M671.9 389.1h.01M873.3 386.5h.01M600.5 387.9h.01M730.4 384.5h.01M754.2 375.1h.01M752.0 365.8h.01M622.1 387.6h.01M765.0 386.3h.01M680.6 387.4h.01M719.6 394.1h.01M622.1 388.2h.01M568.0 394.0h.01M756.4 376.3h.01M587.5 392.5h.01M821.3 390.1h.01M559.4 396.6h.01M729.1 351.8h.01M635.1 392.3h.01M596.2 396.0h.01M520.4 393.4h.01M656.8 393.3h.01M711.1 211.3h.01M559.4 395.3h.01M791.0 379.4h.01M819.6 327.2h.01M817.0 374.5h.01M693.6 389.2h.01M630.8 395.1h.01"/>
<path stroke="#0050ff" d="M371.0 386.7h.01M474.5 350.6h.01M403.5 388.2h.01M360.2 385.3h.01M379.7 383.7h.01M403.5 389.5h.01M329.9 374.8h.01M368.8 390.2h.01"/>
<path stroke="#ffd800" d="M232.4 347.5h.01M228.1 366.8h.01M217.3 362.7h.01"/>
<path stroke="#e00000" d="M174.0 289.2h.01"/>
<path stroke="#ff6000" d="M243.3 341.4h.01"/>
<path stroke="#00ffff" d="M269.2 377.2h.01M293.1 382.4h.01M323.4 374.7h.01"/>
<path stroke="#ff1000" d="M180.5 321.8h.01"/>
<path stroke="#ff9000" d="M234.6 351.6h.01"/>
<path stroke="#ffe000" d="M234.6 362.2h.01"/>
<path stroke="#a00000" d="M165.3 230.5h.01M180.5 231.9h.01M202.1 228.8h.01"/>
<path stroke="#a80000" d="M165.3 237.1h.01"/>
<path stroke="#00f800" d="M360.2 359.3h.01"/>
<path stroke="#fff000" d="M238.9 372.1h.01M245.4 362.8h.01M245.4 363.3h.01"/>
<path stroke="#ff4000" d="M195.6 332.6h.01"/>
<path stroke="#980000" d="M169.7 211.7h.01"/>
<path stroke="#ffe800" d="M230.3 367.5h.01"/>
<path stroke="#00a0ff" d="M325.5 383.9h.01M306.1 384.5h.01M314.7 386.0h.01M431.6 363.3h.01"/>
<path stroke="#000000" d="M213.0 183.8h.01M171.8 175.8h.01M169.7 131.9h.01M163.2 175.6h.01M167.5 170.3h.01M193.5 94.4h.01M187.0 88.7h.01M163.2 106.8h.01M182.6 199.3h.01M193.5 115.4h.01M174.0 74.0h.01M165.3 166.0h.01"/>
<path stroke="#0000ff" d="M407.8 391.2h.01M425.1 391.3h.01M397.0 387.5h.01M407.8 391.5h.01M379.7 390.9h.01"/>
<path stroke="#b80000" d="M180.5 245.6h.01"/>
<path stroke="#ff2800" d="M217.3 307.1h.01M204.3 290.6h.01"/>
<path stroke="#0000c8" d="M505.2 394.5h.01M464.1 392.4h.01M518.2 391.8h.01M453.3 392.1h.01M479.2 394.3h.01"/>
<path stroke="#c00000" d="M163.2 263.1h.01M174.0 256.1h.01"/>
<path stroke="#00008f" d="M548.5 393.3h.01M697.9 382.3h.01M775.9 378.8h.01M741.2 385.6h.01M804.0 385.6h.01M700.1 383.6h.01M721.7 374.1h.01M853.8 380.5h.01M810.5 367.2h.01M773.7 360.1h.01M719.6 370.1h.01M804.0 373.2h.01M708.7 372.7h.01M589.7 384.9h.01M693.6 382.0h.01M849.5 384.0h.01M799.7 384.1h.01M726.1 395.8h.01M591.8 388.2h.01M697.9 384.1h.01M641.6 392.7h.01M814.8 378.5h.01M760.7 367.1h.01M760.7 389.7h.01M875.4 387.8h.01M747.7 390.5h.01M574.5 390.9h.01M760.7 369.1h.01"/>
<path stroke="#ffb000" d="M232.4 316.8h.01"/>
<path stroke="#e80000" d="M213.0 247.8h.01"/>
<path stroke="#00ffff" d="M340.7 370.3h.01M345.0 349.4h.01M364.5 379.2h.01M282.2 357.2h.01"/>
<path stroke="#0000ff" d="M429.5 381.6h.01M373.2 386.8h.01M431.6 384.4h.01M429.5 391.1h.01M392.6 375.2h.01M466.3 381.6h.01M405.6 390.7h.01"/>
<path stroke="#fff000" d="M251.9 340.8h.01M262.8 342.8h.01"/>
<path stroke="#ffe000" d="M225.9 368.6h.01M228.1 367.8h.01"/>
<path stroke="#d00000" d="M206.5 279.6h.01"/>
<path stroke="#e00000" d="M187.0 285.9h.01"/>
<path stroke="#000000" d="M171.8 84.3h.01M169.7 175.9h.01M165.3 130.8h.01M182.6 169.5h.01M167.5 151.2h.01M167.5 81.9h.01M180.5 155.0h.01"/>
<path stroke="#ffa800" d="M266.0 306.9h.01"/>
<path stroke="#a80000" d="M167.5 240.7h.01"/>
<path stroke="#ffe800" d="M247.6 354.1h.01"/>
<path stroke="#b80000" d="M182.6 254.2h.01"/>
<path stroke="#0050ff" d="M334.2 386.2h.01M399.1 388.3h.01"/>
<path stroke="#00008f" d="M626.5 392.5h.01M658.9 390.9h.01M561.5 373.7h.01M747.7 378.6h.01M765.0 370.6h.01M832.1 380.1h.01M583.2 397.2h.01M565.9 381.6h.01M804.0 372.0h.01M552.9 389.2h.01M832.1 360.1h.01M765.0 394.4h.01M814.8 378.4h.01M581.0 386.5h.01M741.2 383.1h.01M769.4 366.7h.01M765.0 393.4h.01M836.5 390.6h.01M700.1 382.7h.01M715.2 366.7h.01M804.0 360.8h.01M812.7 376.7h.01M609.2 367.7h.01M775.9 361.7h.01M801.8 375.0h.01M732.6 382.1h.01M578.8 380.1h.01M797.5 372.8h.01M758.5 370.5h.01M795.3 370.5h.01M749.9 369.1h.01M745.5 384.5h.01M769.4 374.4h.01M684.9 389.7h.01M697.9 390.3h.01M860.3 381.7h.01M797.5 386.8h.01"/>
<path stroke="#ffd000" d="M223.8 345.5h.01M232.4 362.3h.01"/>
<path stroke="#00f800" d="M316.9 371.3h.01M258.4 374.0h.01"/>
<path stroke="#f00000" d="M193.5 305.1h.01"/>
<path stroke="#ffb800" d="M234.6 356.8h.01M251.9 335.9h.01"/>
<path stroke="#00a0ff" d="M325.5 386.7h.01M323.4 385.6h.01M347.2 378.0h.01M293.1 379.2h.01M392.6 374.8h.01M323.4 379.8h.01M286.6 379.1h.01"/>
<path stroke="#ffc000" d="M215.1 362.0h.01"/>
<path stroke="#ffc800" d="M258.4 344.0h.01"/>
<path stroke="#0000c8" d="M468.4 393.6h.01M453.3 391.5h.01M494.4 390.8h.01M477.1 392.0h.01M472.8 381.7h.01M446.8 393.4h.01"/>
<path stroke="#b00000" d="M171.8 241.3h.01"/>
<path stroke="#ff3800" d="M232.4 279.4h.01"/>
<path stroke="#0000c8" d="M477.1 391.9h.01M455.4 392.0h.01M557.2 388.5h.01M511.7 395.0h.01M464.1 382.2h.01M466.3 391.1h.01M470.6 393.3h.01M490.1 387.8h.01M492.2 392.1h.01"/>
<path stroke="#ffb800" d="M206.5 354.8h.01"/>
<path stroke="#ff0000" d="M234.6 286.1h.01"/>
<path stroke="#ff8000" d="M210.8 327.5h.01"/>
<path stroke="#ffe800" d="M230.3 348.6h.01"/>
<path stroke="#ff4800" d="M202.1 308.5h.01M204.3 184.8h.01"/>
<path stroke="#e80000" d="M200.0 296.1h.01"/>
<path stroke="#c00000" d="M195.6 266.7h.01"/>
<path stroke="#ff7800" d="M193.5 344.9h.01"/>
<path stroke="#000000" d="M174.0 124.8h.01M174.0 186.2h.01M167.5 201.1h.01M182.6 95.3h.01M182.6 144.7h.01M167.5 121.8h.01M182.6 131.0h.01M174.0 198.1h.01"/>
<path stroke="#00f800" d="M347.2 360.4h.01M334.2 360.5h.01"/>
<path stroke="#00ffff" d="M349.4 376.2h.01"/>
<path stroke="#d80000" d="M169.7 281.8h.01M174.0 281.7h.01"/>
<path stroke="#00008f" d="M771.5 365.0h.01M639.5 394.1h.01M732.6 387.5h.01M594.0 382.8h.01M561.5 396.0h.01M775.9 397.4h.01M578.8 380.9h.01M804.0 395.5h.01M754.2 366.9h.01M559.4 391.6h.01M635.1 380.6h.01M745.5 390.3h.01M628.6 396.2h.01M643.8 390.6h.01M615.6 388.0h.01M594.0 393.3h.01M706.6 365.9h.01M810.5 393.9h.01M628.6 396.1h.01M652.5 394.3h.01M633.0 381.7h.01M557.2 381.3h.01M795.3 389.1h.01M849.5 383.2h.01M747.7 367.5h.01M585.3 388.8h.01M697.9 374.1h.01M758.5 389.3h.01M736.9 369.7h.01M767.2 365.9h.01M773.7 374.3h.01M702.2 369.4h.01"/>
<path stroke="#fff000" d="M232.4 362.0h.01"/>
<path stroke="#f00000" d="M171.8 302.3h.01"/>
<path stroke="#0000ff" d="M470.6 391.3h.01M390.5 391.7h.01M381.8 382.5h.01M412.1 384.8h.01M410.0 391.8h.01M433.8 389.9h.01M407.8 392.1h.01"/>
<path stroke="#00a0ff" d="M332.0 386.6h.01M314.7 380.8h.01M295.2 380.2h.01"/>
<path stroke="#ff4000" d="M223.8 235.4h.01M206.5 320.6h.01"/>
<path stroke="#ffb000" d="M221.6 311.6h.01"/>
<path stroke="#0050ff" d="M420.8 376.7h.01M416.5 365.9h.01M384.0 390.3h.01M418.6 382.9h.01"/>
<path stroke="#ffc000" d="M210.8 358.9h.01"/>
<path stroke="#ff6800" d="M193.5 319.5h.01M229.0 185.0h.01"/>
<path stroke="#f80000" d="M176.2 196.8h.01M169.7 315.2h.01"/>
<path stroke="#e00000" d="M174.0 291.4h.01"/>
<path stroke="#a80000" d="M163.2 238.8h.01"/>
<path stroke="#980000" d="M167.5 224.2h.01"/>
<path stroke="#d00000" d="M165.3 274.7h.01"/>
<path stroke="#ff8f00" d="M280.1 321.2h.01"/>
<path stroke="#00ffff" d="M310.4 376.3h.01M303.9 381.3h.01M288.7 381.7h.01M303.9 372.0h.01"/>
<path stroke="#00f800" d="M256.3 377.7h.01"/>
<path stroke="#c80000" d="M193.5 259.1h.01M163.2 242.8h.01"/>
<path stroke="#b00000" d="M169.7 238.2h.01"/>
<path stroke="#ff7800" d="M247.6 321.6h.01"/>
<path stroke="#ffc800" d="M232.4 363.6h.01"/>
<path stroke="#00a0ff" d="M312.5 385.3h.01M297.4 382.0h.01M325.5 357.3h.01M290.9 382.2h.01"/>
<path stroke="#ff0800" d="M197.8 321.5h.01"/>
<path stroke="#ff7000" d="M213.0 297.8h.01"/>
<path stroke="#c00000" d="M206.5 270.7h.01"/>
<path stroke="#ffa800" d="M241.1 354.4h.01"/>
<path stroke="#ff4800" d="M223.8 329.8h.01"/>
<path stroke="#e00000" d="M165.3 288.3h.01"/>
<path stroke="#ffe000" d="M230.3 366.4h.01"/>
<path stroke="#000000" d="M206.5 223.7h.01M176.2 160.4h.01M165.3 99.4h.01M176.2 181.3h.01M171.8 106.1h.01M165.3 130.9h.01M167.5 169.8h.01M174.0 212.5h.01M163.2 195.9h.01M167.5 115.9h.01M165.3 129.0h.01M165.3 133.8h.01M184.8 172.7h.01"/>
<path stroke="#0050ff" d="M349.4 387.9h.01M381.8 388.1h.01M379.7 389.8h.01M392.6 382.6h.01M329.9 384.9h.01"/>
<path stroke="#ffc000" d="M230.3 361.5h.01"/>
<path stroke="#ff8000" d="M230.3 319.1h.01"/>
<path stroke="#0000c8" d="M494.4 393.9h.01M570.2 375.6h.01M518.2 389.6h.01M526.9 390.8h.01"/>
<path stroke="#ffe800" d="M245.4 361.9h.01"/>
<path stroke="#980000" d="M174.0 225.1h.01"/>
<path stroke="#00008f" d="M765.0 368.4h.01M667.6 393.7h.01M806.2 390.2h.01M717.4 367.5h.01M741.2 366.6h.01M697.9 385.2h.01M533.4 395.2h.01M669.8 393.9h.01M853.8 383.1h.01M723.9 366.8h.01M875.4 390.5h.01M795.3 365.8h.01M671.9 390.3h.01M782.4 374.7h.01M583.2 385.7h.01M760.7 389.1h.01M665.4 376.1h.01M769.6 332.9h.01M624.3 387.9h.01M700.9 333.5h.01M793.2 368.3h.01M710.9 383.4h.01M728.2 392.0h.01M797.5 361.9h.01M761.6 313.8h.01M689.3 378.6h.01M784.5 385.9h.01M665.4 394.3h.01M795.3 384.3h.01M765.0 382.7h.01M589.7 395.9h.01"/>
<path stroke="#ffa000" d="M202.1 341.2h.01"/>
<path stroke="#ffd800" d="M256.3 367.0h.01"/>
<path stroke="#fff800" d="M251.9 371.9h.01M249.8 371.2h.01M249.8 314.5h.01"/>
<path stroke="#a00000" d="M178.3 222.2h.01"/>
<path stroke="#ff9800" d="M193.5 352.3h.01"/>
<path stroke="#ff2000" d="M204.3 330.2h.01"/>
<path stroke="#0000ff" d="M459.8 389.7h.01M379.7 378.4h.01M418.6 392.0h.01M381.8 374.6h.01"/>
<path stroke="#b00000" d="M165.3 243.7h.01"/>
<path stroke="#ffa800" d="M215.1 192.8h.01"/>
<path stroke="#ffb800" d="M238.9 326.0h.01"/>
<path stroke="#ff8800" d="M243.9 174.5h.01"/>
<path stroke="#ff7000" d="M204.3 344.5h.01"/>
<path stroke="#c00000" d="M174.0 259.3h.01M169.7 257.7h.01"/>
<path stroke="#000000" d="M167.5 154.7h.01M163.2 152.6h.01M176.2 143.2h.01M182.6 135.6h.01M171.8 139.2h.01M167.5 97.3h.01M165.3 96.3h.01"/>
<path stroke="#00ffff" d="M347.2 374.0h.01M321.6 349.4h.01M336.4 378.0h.01"/>
<path stroke="#0000c8" d="M455.4 393.7h.01M516.1 390.9h.01M472.8 390.1h.01"/>
<path stroke="#d80000" d="M180.5 283.7h.01"/>
<path stroke="#e80000" d="M208.6 277.0h.01"/>
<path stroke="#0050ff" d="M403.5 370.0h.01M420.1 348.6h.01"/>
<path stroke="#ff3000" d="M215.1 334.4h.01"/>
<path stroke="#ffb000" d="M197.8 355.0h.01"/>
<path stroke="#ff0000" d="M193.5 319.6h.01"/>
<path stroke="#fff000" d="M232.4 368.2h.01"/>
<path stroke="#00a0ff" d="M301.7 384.5h.01M312.5 381.7h.01M319.0 383.9h.01M316.9 374.8h.01M394.8 383.3h.01"/>
<path stroke="#ffe000" d="M234.6 362.7h.01"/>
<path stroke="#0000ff" d="M399.1 377.1h.01M440.3 393.1h.01M444.6 388.8h.01M451.1 390.4h.01M451.1 392.2h.01M513.9 382.9h.01"/>
<path stroke="#00008f" d="M624.3 374.6h.01M784.5 384.0h.01M630.8 395.0h.01M834.3 376.0h.01M706.6 374.0h.01M739.0 372.0h.01M713.1 367.7h.01M587.5 395.1h.01M613.5 385.9h.01M795.3 367.6h.01M758.5 369.0h.01M537.7 393.3h.01M717.4 389.1h.01M663.3 388.8h.01M825.6 395.6h.01M817.0 368.2h.01M544.2 392.2h.01M771.5 367.7h.01M706.6 384.9h.01M615.6 394.6h.01M823.5 394.6h.01M812.7 373.0h.01M537.7 392.3h.01M648.1 371.7h.01M570.2 392.6h.01M713.1 373.8h.01M856.0 387.8h.01M732.6 366.0h.01M795.3 374.4h.01M652.5 382.5h.01M654.6 381.8h.01M620.0 396.0h.01M747.7 370.3h.01M704.4 378.2h.01M793.2 368.5h.01M758.5 384.0h.01M622.1 396.8h.01M825.6 387.6h.01M780.4 335.7h.01M754.2 370.0h.01M663.3 394.6h.01M808.3 393.6h.01"/>
<path stroke="#ff5000" d="M232.4 241.2h.01"/>
<path stroke="#d00000" d="M180.5 270.0h.01"/>
<path stroke="#00f800" d="M267.1 373.3h.01M249.8 374.7h.01M271.4 320.3h.01"/>
<path stroke="#c80000" d="M184.8 273.0h.01"/>
<path stroke="#ff6800" d="M197.8 314.1h.01"/>
<path stroke="#ffd800" d="M251.9 366.8h.01"/>
<path stroke="#980000" d="M230.3 244.0h.01"/>
<path stroke="#00a0ff" d="M338.5 385.1h.01M314.7 384.7h.01M321.2 376.8h.01M319.0 383.1h.01"/>
<path stroke="#ff9000" d="M241.1 353.8h.01M200.0 337.0h.01M217.3 343.9h.01"/>
<path stroke="#000000" d="M182.6 191.4h.01M165.3 209.4h.01M174.0 205.2h.01M171.8 103.5h.01M210.8 121.4h.01M165.3 147.7h.01M189.1 168.4h.01M169.7 157.5h.01M174.0 98.3h.01M165.3 202.7h.01"/>
<path stroke="#c80000" d="M171.8 267.2h.01"/>
<path stroke="#d80000" d="M167.5 281.7h.01M204.3 244.9h.01"/>
<path stroke="#ff9800" d="M228.1 346.4h.01"/>
<path stroke="#00ffff" d="M288.7 379.6h.01M293.1 383.1h.01M306.1 378.8h.01"/>
<path stroke="#f80000" d="M197.8 214.4h.01"/>
<path stroke="#00008f" d="M765.0 356.9h.01M646.0 395.2h.01M782.4 355.0h.01M661.1 382.3h.01M565.9 396.0h.01M791.0 390.4h.01M758.5 370.0h.01M804.0 395.0h.01M687.1 390.5h.01M851.6 384.2h.01M607.0 391.4h.01M602.7 393.1h.01M726.1 376.3h.01M726.1 382.5h.01M620.0 396.4h.01M604.8 389.9h.01M745.5 370.8h.01M758.5 389.8h.01M587.5 396.4h.01M747.7 383.7h.01M585.3 379.6h.01M708.7 370.0h.01M804.0 368.0h.01M765.0 392.0h.01M669.8 375.8h.01M600.5 389.7h.01M819.2 375.3h.01M576.7 390.5h.01M574.5 386.6h.01M786.7 375.7h.01M719.6 382.0h.01M559.4 394.8h.01M704.4 383.3h.01M817.0 366.2h.01M741.2 384.7h.01"/>
<path stroke="#ffd000" d="M232.4 356.0h.01"/>
<path stroke="#fff000" d="M232.4 368.7h.01"/>
<path stroke="#b00000" d="M169.7 247.0h.01M176.2 244.5h.01M169.7 244.6h.01"/>
<path stroke="#fff800" d="M254.1 362.4h.01M241.1 364.0h.01"/>
<path stroke="#d00000" d="M167.5 275.5h.01M174.0 218.7h.01"/>
<path stroke="#0050ff" d="M325.5 387.1h.01"/>
<path stroke="#ffe800" d="M247.6 362.9h.01M251.9 359.3h.01"/>
<path stroke="#00f800" d="M269.2 376.0h.01M260.6 374.3h.01M245.4 375.1h.01"/>
<path stroke="#900000" d="M165.3 219.3h.01"/>
<path stroke="#0000c8" d="M455.4 392.1h.01M453.3 388.9h.01M461.9 393.1h.01M516.1 393.2h.01"/>
<path stroke="#ff0000" d="M174.0 316.2h.01"/>
<path stroke="#a00000" d="M187.0 221.0h.01M193.5 223.6h.01"/>
<path stroke="#ffb800" d="M213.0 317.5h.01"/>
<path stroke="#e00000" d="M180.5 166.0h.01"/>
<path stroke="#ffc800" d="M210.8 355.2h.01"/>
<path stroke="#0000ff" d="M485.7 388.7h.01M427.3 384.7h.01M435.9 383.3h.01"/>
<path stroke="#a80000" d="M180.5 237.5h.01"/>
<path stroke="#ff5000" d="M204.3 338.2h.01"/>
</g>
<g class="cb">
<rect x="906.4" y="136.0" width="24.2" height="4.3" fill="#000000"/><rect x="906.4" y="140.0" width="24.2" height="1.3" fill="#8d0000"/><rect x="906.4" y="141.0" width="24.2" height="1.3" fill="#8e0000"/><rect x="906.4" y="142.0" width="24.2" height="1.3" fill="#8f0000"/><rect x="906.4" y="143.0" width="24.2" height="2.3" fill="#900000"/><rect x="906.4" y="145.0" width="24.2" height="1.3" fill="#910000"/><rect x="906.4" y="146.0" width="24.2" height="1.3" fill="#920000"/><rect x="906.4" y="147.0" width="24.2" height="2.3" fill="#930000"/><rect x="906.4" y="149.0" width="24.2" height="1.3" fill="#940000"/><rect x="906.4" y="150.0" width="24.2" height="1.3" fill="#950000"/><rect x="906.4" y="151.0" width="24.2" height="2.3" fill="#960000"/><rect x="906.4" y="153.0" width="24.2" height="1.3" fill="#970000"/><rect x="906.4" y="154.0" width="24.2" height="1.3" fill="#980000"/><rect x="906.4" y="155.0" width="24.2" height="2.3" fill="#990000"/><rect x="906.4" y="157.0" width="24.2" height="1.3" fill="#9a0000"/><rect x="906.4" y="158.0" width="24.2" height="1.3" fill="#9b0000"/><rect x="906.4" y="159.0" width="24.2" height="2.3" fill="#9c0000"/><rect x="906.4" y="161.0" width="24.2" height="1.3" fill="#9d0000"/><rect x="906.4" y="162.0" width="24.2" height="1.3" fill="#9e0000"/><rect x="906.4" y="163.0" width="24.2" height="2.3" fill="#9f0000"/><rect x="906.4" y="165.0" width="24.2" height="1.3" fill="#a00000"/><rect x="906.4" y="166.0" width="24.2" height="1.3" fill="#a10000"/><rect x="906.4" y="167.0" width="24.2" height="2.3" fill="#a20000"/><rect x="906.4" y="169.0" width="24.2" height="1.3" fill="#a30000"/><rect x="906.4" y="170.0" width="24.2" height="1.3" fill="#a40000"/><rect x="906.4" y="171.0" width="24.2" height="2.3" fill="#a50000"/><rect x="906.4" y="173.0" width="24.2" height="1.3" fill="#a60000"/><rect x="906.4" y="174.0" width="24.2" height="1.3" fill="#a70000"/><rect x="906.4" y="175.0" width="24.2" height="2.3" fill="#a80000"/><rect x="906.4" y="177.0" width="24.2" height="1.3" fill="#a90000"/><rect x="906.4" y="178.0" width="24.2" height="1.3" fill="#aa0000"/><rect x="906.4" y="179.0" width="24.2" height="2.3" fill="#ab0000"/><rect x="906.4" y="181.0" width="24.2" height="1.3" fill="#ac0000"/><rect x="906.4" y="182.0" width="24.2" height="1.3" fill="#ad0000"/><rect x="906.4" y="183.0" width="24.2" height="2.3" fill="#ae0000"/><rect x="906.4" y="185.0" width="24.2" height="1.3" fill="#af0000"/><rect x="906.4" y="186.0" width="24.2" height="1.3" fill="#b00000"/><rect x="906.4" y="187.0" width="24.2" height="2.3" fill="#b10000"/><rect x="906.4" y="189.0" width="24.2" height="1.3" fill="#b20000"/><rect x="906.4" y="190.0" width="24.2" height="1.3" fill="#b30000"/><rect x="906.4" y="191.0" width="24.2" height="2.3" fill="#b40000"/><rect x="906.4" y="193.0" width="24.2" height="1.3" fill="#b50000"/><rect x="906.4" y="194.0" width="24.2" height="1.3" fill="#b60000"/><rect x="906.4" y="195.0" width="24.2" height="2.3" fill="#b70000"/><rect x="906.4" y="197.0" width="24.2" height="1.3" fill="#b80000"/><rect x="906.4" y="198.0" width="24.2" height="1.3" fill="#b90000"/><rect x="906.4" y="199.0" width="24.2" height="2.3" fill="#ba0000"/><rect x="906.4" y="201.0" width="24.2" height="1.3" fill="#bb0000"/><rect x="906.4" y="202.0" width="24.2" height="1.3" fill="#bc0000"/><rect x="906.4" y="203.0" width="24.2" height="2.3" fill="#bd0000"/><rect x="906.4" y="205.0" width="24.2" height="1.3" fill="#be0000"/><rect x="906.4" y="206.0" width="24.2" height="1.3" fill="#bf0000"/><rect x="906.4" y="207.0" width="24.2" height="2.3" fill="#c00000"/><rect x="906.4" y="209.0" width="24.2" height="1.3" fill="#c10000"/><rect x="906.4" y="210.0" width="24.2" height="1.3" fill="#c20000"/><rect x="906.4" y="211.0" width="24.2" height="2.3" fill="#c30000"/><rect x="906.4" y="213.0" width="24.2" height="1.3" fill="#c40000"/><rect x="906.4" y="214.0" width="24.2" height="1.3" fill="#c50000"/><rect x="906.4" y="215.0" width="24.2" height="2.3" fill="#c60000"/><rect x="906.4" y="217.0" width="24.2" height="1.3" fill="#c70000"/><rect x="906.4" y="218.0" width="24.2" height="1.3" fill="#c80000"/><rect x="906.4" y="219.0" width="24.2" height="2.3" fill="#c90000"/><rect x="906.4" y="221.0" width="24.2" height="1.3" fill="#ca0000"/><rect x="906.4" y="222.0" width="24.2" height="1.3" fill="#cb0000"/><rect x="906.4" y="223.0" width="24.2" height="2.3" fill="#cc0000"/><rect x="906.4" y="225.0" width="24.2" height="1.3" fill="#cd0000"/><rect x="906.4" y="226.0" width="24.2" height="1.3" fill="#ce0000"/><rect x="906.4" y="227.0" width="24.2" height="2.3" fill="#cf0000"/><rect x="906.4" y="229.0" width="24.2" height="1.3" fill="#d00000"/><rect x="906.4" y="230.0" width="24.2" height="1.3" fill="#d10000"/><rect x="906.4" y="231.0" width="24.2" height="2.3" fill="#d20000"/><rect x="906.4" y="233.0" width="24.2" height="1.3" fill="#d30000"/><rect x="906.4" y="234.0" width="24.2" height="1.3" fill="#d40000"/><rect x="906.4" y="235.0" width="24.2" height="2.3" fill="#d50000"/><rect x="906.4" y="237.0" width="24.2" height="1.3" fill="#d60000"/><rect x="906.4" y="238.0" width="24.2" height="1.3" fill="#d70000"/><rect x="906.4" y="239.0" width="24.2" height="2.3" fill="#d80000"/><rect x="906.4" y="241.0" width="24.2" height="1.3" fill="#d90000"/><rect x="906.4" y="242.0" width="24.2" height="1.3" fill="#da0000"/><rect x="906.4" y="243.0" width="24.2" height="2.3" fill="#db0000"/><rect x="906.4" y="245.0" width="24.2" height="1.3" fill="#dc0000"/><rect x="906.4" y="246.0" width="24.2" height="1.3" fill="#dd0000"/><rect x="906.4" y="247.0" width="24.2" height="2.3" fill="#de0000"/><rect x="906.4" y="249.0" width="24.2" height="1.3" fill="#df0000"/><rect x="906.4" y="250.0" width="24.2" height="1.3" fill="#e00000"/><rect x="906.4" y="251.0" width="24.2" height="2.3" fill="#e10000"/><rect x="906.4" y="253.0" width="24.2" height="1.3" fill="#e20000"/><rect x="906.4" y="254.0" width="24.2" height="1.3" fill="#e30000"/><rect x="906.4" y="255.0" width="24.2" height="2.3" fill="#e40000"/><rect x="906.4" y="257.0" width="24.2" height="1.3" fill="#e50000"/><rect x="906.4" y="258.0" width="24.2" height="1.3" fill="#e60000"/><rect x="906.4" y="259.0" width="24.2" height="2.3" fill="#e70000"/><rect x="906.4" y="261.0" width="24.2" height="1.3" fill="#e80000"/><rect x="906.4" y="262.0" width="24.2" height="1.3" fill="#e90000"/><rect x="906.4" y="263.0" width="24.2" height="2.3" fill="#ea0000"/><rect x="906.4" y="265.0" width="24.2" height="1.3" fill="#eb0000"/><rect x="906.4" y="266.0" width="24.2" height="1.3" fill="#ec0000"/><rect x="906.4" y="267.0" width="24.2" height="2.3" fill="#ed0000"/><rect x="906.4" y="269.0" width="24.2" height="1.3" fill="#ee0000"/><rect x="906.4" y="270.0" width="24.2" height="1.3" fill="#ef0000"/><rect x="906.4" y="271.0" width="24.2" height="2.3" fill="#f00000"/><rect x="906.4" y="273.0" width="24.2" height="1.3" fill="#f10000"/><rect x="906.4" y="274.0" width="24.2" height="1.3" fill="#f20000"/><rect x="906.4" y="275.0" width="24.2" height="2.3" fill="#f30000"/><rect x="906.4" y="277.0" width="24.2" height="1.3" fill="#f40000"/><rect x="906.4" y="278.0" width="24.2" height="1.3" fill="#f50000"/><rect x="906.4" y="279.0" width="24.2" height="2.3" fill="#f60000"/><rect x="906.4" y="281.0" width="24.2" height="1.3" fill="#f70000"/><rect x="906.4" y="282.0" width="24.2" height="1.3" fill="#f80000"/><rect x="906.4" y="283.0" width="24.2" height="2.3" fill="#f90000"/><rect x="906.4" y="285.0" width="24.2" height="1.3" fill="#fa0000"/><rect x="906.4" y="286.0" width="24.2" height="1.3" fill="#fb0000"/><rect x="906.4" y="287.0" width="24.2" height="2.3" fill="#fc0000"/><rect x="906.4" y="289.0" width="24.2" height="1.3" fill="#fd0000"/><rect x="906.4" y="290.0" width="24.2" height="1.3" fill="#fe0000"/><rect x="906.4" y="291.0" width="24.2" height="1.3" fill="#ff0000"/><rect x="906.4" y="292.0" width="24.2" height="1.3" fill="#ff0200"/><rect x="906.4" y="293.0" width="24.2" height="1.3" fill="#ff0500"/><rect x="906.4" y="294.0" width="24.2" height="1.3" fill="#ff0800"/><rect x="906.4" y="295.0" width="24.2" height="1.3" fill="#ff0b00"/><rect x="906.4" y="296.0" width="24.2" height="1.3" fill="#ff0e00"/><rect x="906.4" y="297.0" width="24.2" height="1.3" fill="#ff1200"/><rect x="906.4" y="298.0" width="24.2" height="1.3" fill="#ff1500"/><rect x="906.4" y="299.0" width="24.2" height="1.3" fill="#ff1800"/><rect x="906.4" y="300.0" width="24.2" height="1.3" fill="#ff1b00"/><rect x="906.4" y="301.0" width="24.2" height="1.3" fill="#ff1e00"/><rect x="906.4" y="302.0" width="24.2" height="1.3" fill="#ff2100"/><rect x="906.4" y="303.0" width="24.2" height="1.3" fill="#ff2400"/><rect x="906.4" y="304.0" width="24.2" height="1.3" fill="#ff2800"/><rect x="906.4" y="305.0" width="24.2" height="1.3" fill="#ff2b00"/><rect x="906.4" y="306.0" width="24.2" height="1.3" fill="#ff2e00"/><rect x="906.4" y="307.0" width="24.2" height="1.3" fill="#ff3100"/><rect x="906.4" y="308.0" width="24.2" height="1.3" fill="#ff3400"/><rect x="906.4" y="309.0" width="24.2" height="1.3" fill="#ff3700"/><rect x="906.4" y="310.0" width="24.2" height="1.3" fill="#ff3b00"/><rect x="906.4" y="311.0" width="24.2" height="1.3" fill="#ff3e00"/><rect x="906.4" y="312.0" width="24.2" height="1.3" fill="#ff4100"/><rect x="906.4" y="313.0" width="24.2" height="1.3" fill="#ff4400"/><rect x="906.4" y="314.0" width="24.2" height="1.3" fill="#ff4700"/><rect x="906.4" y="315.0" width="24.2" height="1.3" fill="#ff4a00"/><rect x="906.4" y="316.0" width="24.2" height="1.3" fill="#ff4d00"/><rect x="906.4" y="317.0" width="24.2" height="1.3" fill="#ff5100"/><rect x="906.4" y="318.0" width="24.2" height="1.3" fill="#ff5400"/><rect x="906.4" y="319.0" width="24.2" height="1.3" fill="#ff5700"/><rect x="906.4" y="320.0" width="24.2" height="1.3" fill="#ff5a00"/><rect x="906.4" y="321.0" width="24.2" height="1.3" fill="#ff5d00"/><rect x="906.4" y="322.0" width="24.2" height="1.3" fill="#ff6000"/><rect x="906.4" y="323.0" width="24.2" height="1.3" fill="#ff6400"/><rect x="906.4" y="324.0" width="24.2" height="1.3" fill="#ff6700"/><rect x="906.4" y="325.0" width="24.2" height="1.3" fill="#ff6a00"/><rect x="906.4" y="326.0" width="24.2" height="1.3" fill="#ff6d00"/><rect x="906.4" y="327.0" width="24.2" height="1.3" fill="#ff7000"/><rect x="906.4" y="328.0" width="24.2" height="1.3" fill="#ff7300"/><rect x="906.4" y="329.0" width="24.2" height="1.3" fill="#ff7600"/><rect x="906.4" y="330.0" width="24.2" height="1.3" fill="#ff7a00"/><rect x="906.4" y="331.0" width="24.2" height="1.3" fill="#ff7d00"/><rect x="906.4" y="332.0" width="24.2" height="1.3" fill="#ff8000"/><rect x="906.4" y="333.0" width="24.2" height="1.3" fill="#ff8300"/><rect x="906.4" y="334.0" width="24.2" height="1.3" fill="#ff8600"/><rect x="906.4" y="335.0" width="24.2" height="1.3" fill="#ff8900"/><rect x="906.4" y="336.0" width="24.2" height="1.3" fill="#ff8c00"/><rect x="906.4" y="337.0" width="24.2" height="1.3" fill="#ff9000"/><rect x="906.4" y="338.0" width="24.2" height="1.3" fill="#ff9300"/><rect x="906.4" y="339.0" width="24.2" height="1.3" fill="#ff9600"/><rect x="906.4" y="340.0" width="24.2" height="1.3" fill="#ff9900"/><rect x="906.4" y="341.0" width="24.2" height="1.3" fill="#ff9c00"/><rect x="906.4" y="342.0" width="24.2" height="1.3" fill="#ff9f00"/><rect x="906.4" y="343.0" width="24.2" height="1.3" fill="#ffa300"/><rect x="906.4" y="344.0" width="24.2" height="1.3" fill="#ffa600"/><rect x="906.4" y="345.0" width="24.2" height="1.3" fill="#ffa900"/><rect x="906.4" y="346.0" width="24.2" height="1.3" fill="#ffac00"/><rect x="906.4" y="347.0" width="24.2" height="1.3" fill="#ffaf00"/><rect x="906.4" y="348.0" width="24.2" height="1.3" fill="#ffb200"/><rect x="906.4" y="349.0" width="24.2" height="1.3" fill="#ffb500"/><rect x="906.4" y="350.0" width="24.2" height="1.3" fill="#ffb900"/><rect x="906.4" y="351.0" width="24.2" height="1.3" fill="#ffbc00"/><rect x="906.4" y="352.0" width="24.2" height="1.3" fill="#ffbf00"/><rect x="906.4" y="353.0" width="24.2" height="1.3" fill="#ffc200"/><rect x="906.4" y="354.0" width="24.2" height="1.3" fill="#ffc500"/><rect x="906.4" y="355.0" width="24.2" height="1.3" fill="#ffc800"/><rect x="906.4" y="356.0" width="24.2" height="1.3" fill="#ffcc00"/><rect x="906.4" y="357.0" width="24.2" height="1.3" fill="#ffcf00"/><rect x="906.4" y="358.0" width="24.2" height="1.3" fill="#ffd200"/><rect x="906.4" y="359.0" width="24.2" height="1.3" fill="#ffd500"/><rect x="906.4" y="360.0" width="24.2" height="1.3" fill="#ffd800"/><rect x="906.4" y="361.0" width="24.2" height="1.3" fill="#ffdb00"/><rect x="906.4" y="362.0" width="24.2" height="1.3" fill="#ffde00"/><rect x="906.4" y="363.0" width="24.2" height="1.3" fill="#ffe200"/><rect x="906.4" y="364.0" width="24.2" height="1.3" fill="#ffe500"/><rect x="906.4" y="365.0" width="24.2" height="1.3" fill="#ffe800"/><rect x="906.4" y="366.0" width="24.2" height="1.3" fill="#ffeb00"/><rect x="906.4" y="367.0" width="24.2" height="1.3" fill="#ffee00"/><rect x="906.4" y="368.0" width="24.2" height="1.3" fill="#fff100"/><rect x="906.4" y="369.0" width="24.2" height="1.3" fill="#fff500"/><rect x="906.4" y="370.0" width="24.2" height="1.3" fill="#fff800"/><rect x="906.4" y="371.0" width="24.2" height="1.3" fill="#fffb00"/><rect x="906.4" y="372.0" width="24.2" height="1.3" fill="#fffe00"/><rect x="906.4" y="373.0" width="24.2" height="9.3" fill="#00f800"/><rect x="906.4" y="382.0" width="24.2" height="4.3" fill="#00ffff"/><rect x="906.4" y="386.0" width="24.2" height="5.3" fill="#00a0ff"/><rect x="906.4" y="391.0" width="24.2" height="3.3" fill="#0050ff"/><rect x="906.4" y="394.0" width="24.2" height="5.3" fill="#0000ff"/><rect x="906.4" y="399.0" width="24.2" height="4.3" fill="#0000c8"/><rect x="906.4" y="403.0" width="24.2" height="4.3" fill="#00008f"/>
<rect x="906.4" y="136.0" width="24.200000000000045" height="271.0" fill="none" stroke="#000" stroke-width="1.6"/>
<g class="cbt"><line x1="906.4" y1="369.3" x2="909.9" y2="369.3"/><line x1="930.6" y1="369.3" x2="927.1" y2="369.3"/><line x1="906.4" y1="306.4" x2="909.9" y2="306.4"/><line x1="930.6" y1="306.4" x2="927.1" y2="306.4"/><line x1="906.4" y1="243.5" x2="909.9" y2="243.5"/><line x1="930.6" y1="243.5" x2="927.1" y2="243.5"/><line x1="906.4" y1="180.6" x2="909.9" y2="180.6"/><line x1="930.6" y1="180.6" x2="927.1" y2="180.6"/></g>
</g>
<g class="tk"><text transform="translate(154.5,449.2) scale(0.935,1)" text-anchor="middle">0</text><text transform="translate(262.8,449.2) scale(0.935,1)" text-anchor="middle">50</text><text transform="translate(371.0,449.2) scale(0.935,1)" text-anchor="middle">100</text><text transform="translate(479.2,449.2) scale(0.935,1)" text-anchor="middle">150</text><text transform="translate(587.5,449.2) scale(0.935,1)" text-anchor="middle">200</text><text transform="translate(695.8,449.2) scale(0.935,1)" text-anchor="middle">250</text><text transform="translate(804.0,449.2) scale(0.935,1)" text-anchor="middle">300</text><text transform="translate(912.2,449.2) scale(0.935,1)" text-anchor="middle">350</text><text transform="translate(143.2,423.3) scale(0.935,1)" text-anchor="end">0</text><text transform="translate(143.2,338.5) scale(0.935,1)" text-anchor="end">0.01</text><text transform="translate(143.2,253.7) scale(0.935,1)" text-anchor="end">0.02</text><text transform="translate(143.2,169.0) scale(0.935,1)" text-anchor="end">0.03</text><text transform="translate(143.2,84.2) scale(0.935,1)" text-anchor="end">0.04</text></g>
<g class="lb"><text transform="translate(940.9,381.9) scale(0.945,1)" style="font-size:37.5px">0.00</text><text transform="translate(940.9,319.0) scale(0.945,1)" style="font-size:37.5px">0.01</text><text transform="translate(940.9,256.1) scale(0.945,1)" style="font-size:37.5px">0.01</text><text transform="translate(940.9,193.2) scale(0.945,1)" style="font-size:37.5px">0.02</text></g>
<text class="lb" transform="translate(356.3,492.7) scale(0.982,1)" style="font-size:36.4px">No. of points / grid cell</text>
<g transform="translate(49,317) rotate(-90)">
<text class="lb" transform="translate(-0.5,1) scale(1.1,1)" style="font-size:31.5px">σ</text>
<text class="sb" x="23" y="18.6" style="font-size:27.5px">DTM</text>
<text class="lb" x="93.8" y="-0.6" style="font-size:36px;letter-spacing:2.3px">[m]</text>
</g>
<text class="lb" transform="translate(864.5,104.5) scale(1.1,1)" style="font-size:31.5px">σ</text>
<text class="sb" x="886" y="121.8">a0</text>
<text class="lb" transform="translate(925.6,104.3) scale(1.115,1)" style="font-size:33px">[m]</text>
</svg>
</body>
</html>
